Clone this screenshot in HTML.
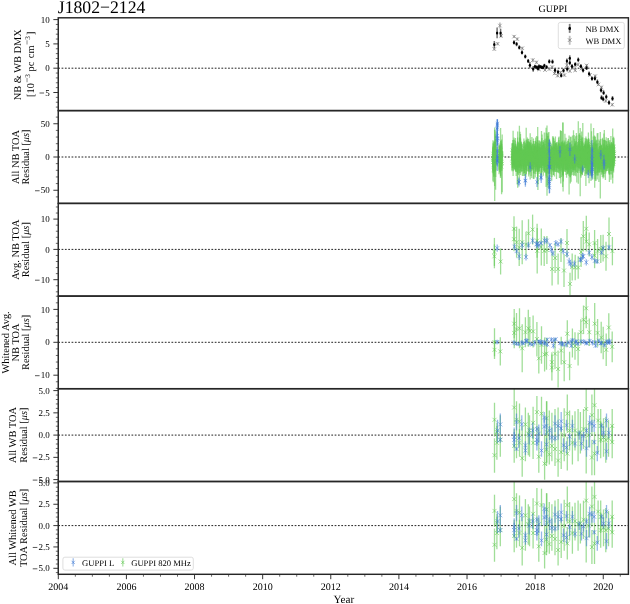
<!DOCTYPE html><html><head><meta charset="utf-8"><style>html,body{margin:0;padding:0;background:#fff;width:630px;height:604px;overflow:hidden}svg{display:block;position:absolute;left:0;top:0;will-change:transform;text-rendering:geometricPrecision;-webkit-font-smoothing:antialiased}text{font-family:"Liberation Serif",serif;fill:#000}.ge{stroke:#61C853;stroke-opacity:.6;stroke-width:1.3px;fill:none}.be{stroke:#407BD5;stroke-opacity:.55;stroke-width:1.3px;fill:none}.gm{stroke:#61C853;stroke-opacity:.65;stroke-width:.9px;fill:none}.bm{stroke:#407BD5;stroke-opacity:.6;stroke-width:.9px;fill:none}</style></head><body>
<svg width="630" height="604" viewBox="0 0 630 604">
<line x1="58.25" x2="628.4" y1="68.2" y2="68.2" stroke="#222" stroke-width="1.0" stroke-dasharray="1.75 1.58"/>
<line x1="58.25" x2="628.4" y1="157.0" y2="157.0" stroke="#222" stroke-width="1.0" stroke-dasharray="1.75 1.58"/>
<line x1="58.25" x2="628.4" y1="249.4" y2="249.4" stroke="#222" stroke-width="1.0" stroke-dasharray="1.75 1.58"/>
<line x1="58.25" x2="628.4" y1="342.3" y2="342.3" stroke="#222" stroke-width="1.0" stroke-dasharray="1.75 1.58"/>
<line x1="58.25" x2="628.4" y1="435.1" y2="435.1" stroke="#222" stroke-width="1.0" stroke-dasharray="1.75 1.58"/>
<line x1="58.25" x2="628.4" y1="525.6" y2="525.6" stroke="#222" stroke-width="1.0" stroke-dasharray="1.75 1.58"/>
<path d="M494.3 47.6V50.6M497.6 42.3V45.3M499.9 22.6V28.6M501.2 34.4V37.4M514.1 35.1V38.1M517.3 37.6V40.6M522.3 46.7V49.7M532.8 58.2V62.2M536.5 60.8V63.8M539.0 67.8V70.8M549.4 67.5V70.5M552.3 65.6V68.6M554.5 72.0V75.0M557.7 74.2V77.2M564.4 73.6V76.6M566.9 63.7V66.7M569.8 69.5V72.5M575.2 68.8V71.8M578.0 63.1V66.1M586.6 63.9V66.9M595.3 74.6V77.6M601.5 85.8V88.8M605.7 99.5V102.5M612.3 103.2V106.2M545.0 68.8V71.2M560.5 71.0V74.0M572.5 66.5V69.5M581.5 67.0V70.0M590.0 73.5V76.5M598.5 83.0V86.0" stroke="#888" stroke-opacity="0.6" stroke-width="1.5" fill="none"/>
<path d="M492.5 47.3L496.1 50.9M492.5 50.9L496.1 47.3M495.8 42.0L499.4 45.6M495.8 45.6L499.4 42.0M498.1 23.8L501.7 27.4M498.1 27.4L501.7 23.8M499.4 34.1L503.0 37.7M499.4 37.7L503.0 34.1M512.3 34.8L515.9 38.4M512.3 38.4L515.9 34.8M515.5 37.3L519.1 40.9M515.5 40.9L519.1 37.3M520.5 46.4L524.1 50.0M520.5 50.0L524.1 46.4M531.0 58.4L534.6 62.0M531.0 62.0L534.6 58.4M534.7 60.5L538.3 64.1M534.7 64.1L538.3 60.5M537.2 67.5L540.8 71.1M537.2 71.1L540.8 67.5M547.6 67.2L551.2 70.8M547.6 70.8L551.2 67.2M550.5 65.3L554.1 68.9M550.5 68.9L554.1 65.3M552.7 71.7L556.3 75.3M552.7 75.3L556.3 71.7M555.9 73.9L559.5 77.5M555.9 77.5L559.5 73.9M562.6 73.3L566.2 76.9M562.6 76.9L566.2 73.3M565.1 63.4L568.7 67.0M565.1 67.0L568.7 63.4M568.0 69.2L571.6 72.8M568.0 72.8L571.6 69.2M573.4 68.5L577.0 72.1M573.4 72.1L577.0 68.5M576.2 62.8L579.8 66.4M576.2 66.4L579.8 62.8M584.8 63.6L588.4 67.2M584.8 67.2L588.4 63.6M593.5 74.3L597.1 77.9M593.5 77.9L597.1 74.3M599.7 85.5L603.3 89.1M599.7 89.1L603.3 85.5M603.9 99.2L607.5 102.8M603.9 102.8L607.5 99.2M610.5 102.9L614.1 106.5M610.5 106.5L614.1 102.9M543.2 68.2L546.8 71.8M543.2 71.8L546.8 68.2M558.7 70.7L562.3 74.3M558.7 74.3L562.3 70.7M570.7 66.2L574.3 69.8M570.7 69.8L574.3 66.2M579.7 66.7L583.3 70.3M579.7 70.3L583.3 66.7M588.2 73.2L591.8 76.8M588.2 76.8L591.8 73.2M596.7 82.7L600.3 86.3M596.7 86.3L600.3 82.7" stroke="#777" stroke-opacity="0.8" stroke-width="0.8" fill="none"/>
<path d="M494.3 41.1V47.9M497.1 27.5V38.3M500.6 28.8V37.0M514.0 40.3V44.5M516.6 42.0V46.2M519.3 45.3V49.5M522.0 50.3V54.5M525.3 54.4V58.6M528.2 58.9V63.1M529.9 62.1V68.3M533.2 66.1V71.7M536.9 65.2V69.4M539.0 64.3V68.5M541.9 65.5V69.1M544.4 63.8V67.4M546.6 65.3V68.9M549.3 59.3V63.5M552.5 59.6V63.8M555.0 68.2V72.4M558.0 69.8V74.0M561.2 73.3V77.5M563.5 68.5V72.7M566.9 58.5V63.7M567.2 66.4V71.6M569.8 55.2V61.4M569.8 60.1V65.3M572.0 64.1V68.3M575.2 62.2V66.4M578.3 57.4V62.2M580.9 64.1V68.3M583.1 68.2V72.4M586.6 65.8V70.0M589.1 71.6V75.8M592.0 76.5V80.7M594.9 76.3V80.5M597.4 79.5V84.3M601.1 87.8V92.6M603.6 90.3V95.1M601.5 95.3V100.1M603.2 96.5V101.3M606.3 94.4V99.2M609.0 100.2V105.0M612.5 96.1V100.9M535.0 64.7V68.3M538.0 66.7V70.3M540.5 65.0V68.6M543.0 65.7V69.3" stroke="#000" stroke-opacity="0.55" stroke-width="1.5" fill="none"/>
<ellipse cx="494.3" cy="44.5" rx="1.15" ry="1.5" fill="#000"/>
<ellipse cx="497.1" cy="32.9" rx="1.15" ry="1.5" fill="#000"/>
<ellipse cx="500.6" cy="32.9" rx="1.15" ry="1.5" fill="#000"/>
<ellipse cx="514.0" cy="42.4" rx="1.15" ry="1.5" fill="#000"/>
<ellipse cx="516.6" cy="44.1" rx="1.15" ry="1.5" fill="#000"/>
<ellipse cx="519.3" cy="47.4" rx="1.15" ry="1.5" fill="#000"/>
<ellipse cx="522.0" cy="52.4" rx="1.15" ry="1.5" fill="#000"/>
<ellipse cx="525.3" cy="56.5" rx="1.15" ry="1.5" fill="#000"/>
<ellipse cx="528.2" cy="61.0" rx="1.15" ry="1.5" fill="#000"/>
<ellipse cx="529.9" cy="65.2" rx="1.15" ry="1.5" fill="#000"/>
<ellipse cx="533.2" cy="68.9" rx="1.15" ry="1.5" fill="#000"/>
<ellipse cx="536.9" cy="67.3" rx="1.15" ry="1.5" fill="#000"/>
<ellipse cx="539.0" cy="66.4" rx="1.15" ry="1.5" fill="#000"/>
<ellipse cx="541.9" cy="67.3" rx="1.15" ry="1.5" fill="#000"/>
<ellipse cx="544.4" cy="65.6" rx="1.15" ry="1.5" fill="#000"/>
<ellipse cx="546.6" cy="67.1" rx="1.15" ry="1.5" fill="#000"/>
<ellipse cx="549.3" cy="61.4" rx="1.15" ry="1.5" fill="#000"/>
<ellipse cx="552.5" cy="61.7" rx="1.15" ry="1.5" fill="#000"/>
<ellipse cx="555.0" cy="70.3" rx="1.15" ry="1.5" fill="#000"/>
<ellipse cx="558.0" cy="71.9" rx="1.15" ry="1.5" fill="#000"/>
<ellipse cx="561.2" cy="75.4" rx="1.15" ry="1.5" fill="#000"/>
<ellipse cx="563.5" cy="70.6" rx="1.15" ry="1.5" fill="#000"/>
<ellipse cx="566.9" cy="61.1" rx="1.15" ry="1.5" fill="#000"/>
<ellipse cx="567.2" cy="69.0" rx="1.15" ry="1.5" fill="#000"/>
<ellipse cx="569.8" cy="58.3" rx="1.15" ry="1.5" fill="#000"/>
<ellipse cx="569.8" cy="62.7" rx="1.15" ry="1.5" fill="#000"/>
<ellipse cx="572.0" cy="66.2" rx="1.15" ry="1.5" fill="#000"/>
<ellipse cx="575.2" cy="64.3" rx="1.15" ry="1.5" fill="#000"/>
<ellipse cx="578.3" cy="59.8" rx="1.15" ry="1.5" fill="#000"/>
<ellipse cx="580.9" cy="66.2" rx="1.15" ry="1.5" fill="#000"/>
<ellipse cx="583.1" cy="70.3" rx="1.15" ry="1.5" fill="#000"/>
<ellipse cx="586.6" cy="67.9" rx="1.15" ry="1.5" fill="#000"/>
<ellipse cx="589.1" cy="73.7" rx="1.15" ry="1.5" fill="#000"/>
<ellipse cx="592.0" cy="78.6" rx="1.15" ry="1.5" fill="#000"/>
<ellipse cx="594.9" cy="78.4" rx="1.15" ry="1.5" fill="#000"/>
<ellipse cx="597.4" cy="81.9" rx="1.15" ry="1.5" fill="#000"/>
<ellipse cx="601.1" cy="90.2" rx="1.15" ry="1.5" fill="#000"/>
<ellipse cx="603.6" cy="92.7" rx="1.15" ry="1.5" fill="#000"/>
<ellipse cx="601.5" cy="97.7" rx="1.15" ry="1.5" fill="#000"/>
<ellipse cx="603.2" cy="98.9" rx="1.15" ry="1.5" fill="#000"/>
<ellipse cx="606.3" cy="96.8" rx="1.15" ry="1.5" fill="#000"/>
<ellipse cx="609.0" cy="102.6" rx="1.15" ry="1.5" fill="#000"/>
<ellipse cx="612.5" cy="98.5" rx="1.15" ry="1.5" fill="#000"/>
<ellipse cx="535.0" cy="66.5" rx="1.15" ry="1.5" fill="#000"/>
<ellipse cx="538.0" cy="68.5" rx="1.15" ry="1.5" fill="#000"/>
<ellipse cx="540.5" cy="66.8" rx="1.15" ry="1.5" fill="#000"/>
<ellipse cx="543.0" cy="67.5" rx="1.15" ry="1.5" fill="#000"/>
<defs><clipPath id="c0"><rect x="0" y="0" width="630" height="110.6"/></clipPath><clipPath id="c1"><rect x="0" y="0" width="630" height="203.4"/></clipPath><clipPath id="c2"><rect x="0" y="0" width="630" height="296.1"/></clipPath><clipPath id="c3"><rect x="0" y="0" width="630" height="388.7"/></clipPath><clipPath id="c4"><rect x="0" y="0" width="630" height="481.5"/></clipPath><clipPath id="c5"><rect x="0" y="0" width="630" height="574.3"/></clipPath></defs>
<g clip-path="url(#c1)"><path class="ge" d="M493.3 147.4V167.3"/><path class="ge" d="M493.0 143.2V180.8"/><path class="ge" d="M493.2 147.5V169.1"/><path class="ge" d="M493.3 158.0V182.2"/><path class="ge" d="M492.8 147.4V173.2"/><path class="ge" d="M493.0 140.3V166.5"/><path class="ge" d="M493.6 154.1V175.6"/><path class="ge" d="M493.1 145.8V171.3"/><path class="ge" d="M493.6 143.9V172.8"/><path class="ge" d="M494.5 144.8V161.0"/><path class="ge" d="M493.9 142.4V161.2"/><path class="ge" d="M494.1 149.4V169.0"/><path class="ge" d="M494.5 147.6V176.4"/><path class="ge" d="M494.4 141.2V165.9"/><path class="ge" d="M493.7 153.9V177.0"/><path class="ge" d="M493.8 141.4V168.7"/><path class="ge" d="M494.7 127.5V200.9"/><path class="ge" d="M495.1 151.8V168.3"/><path class="ge" d="M494.6 129.7V186.0"/><path class="ge" d="M494.8 142.1V170.2"/><path class="ge" d="M494.3 152.8V168.1"/><path class="ge" d="M494.9 148.4V165.5"/><path class="ge" d="M495.3 143.7V171.6"/><path class="ge" d="M494.8 143.8V172.2"/><path class="ge" d="M495.7 139.5V163.1"/><path class="ge" d="M495.5 141.8V170.8"/><path class="ge" d="M495.6 147.0V165.9"/><path class="ge" d="M495.7 131.3V176.9"/><path class="ge" d="M495.6 135.3V189.7"/><path class="ge" d="M495.8 145.3V170.1"/><path class="ge" d="M496.1 149.5V164.4"/><path class="ge" d="M495.7 147.1V165.2"/><path class="ge" d="M499.5 146.2V164.6"/><path class="ge" d="M499.7 151.3V169.5"/><path class="ge" d="M499.1 150.0V174.3"/><path class="ge" d="M499.1 145.2V170.5"/><path class="ge" d="M499.2 143.6V159.0"/><path class="ge" d="M499.8 146.6V172.3"/><path class="ge" d="M499.4 147.2V170.3"/><path class="ge" d="M499.4 151.6V168.7"/><path class="ge" d="M500.0 146.8V172.5"/><path class="ge" d="M500.5 151.1V176.4"/><path class="ge" d="M500.0 146.8V164.9"/><path class="ge" d="M500.1 149.3V168.2"/><path class="ge" d="M500.6 128.1V170.7"/><path class="ge" d="M500.7 147.9V175.8"/><path class="ge" d="M500.4 147.3V171.8"/><path class="ge" d="M500.0 145.1V166.4"/><path class="ge" d="M501.3 146.1V168.3"/><path class="ge" d="M501.2 151.2V165.8"/><path class="ge" d="M500.5 151.3V177.9"/><path class="ge" d="M500.8 140.9V165.3"/><path class="ge" d="M501.1 144.6V164.4"/><path class="ge" d="M501.4 143.4V162.2"/><path class="ge" d="M501.0 140.6V159.5"/><path class="ge" d="M501.3 145.3V170.7"/><path class="ge" d="M502.2 134.6V192.2"/><path class="ge" d="M501.6 146.2V160.9"/><path class="ge" d="M501.3 142.6V163.2"/><path class="ge" d="M501.4 148.9V163.7"/><path class="ge" d="M501.6 139.6V194.2"/><path class="ge" d="M501.9 152.3V170.7"/><path class="ge" d="M501.4 145.4V162.1"/><path class="ge" d="M501.7 144.2V165.9"/><path class="ge" d="M512.7 150.7V168.3"/><path class="ge" d="M512.5 149.5V167.2"/><path class="ge" d="M512.3 143.3V162.8"/><path class="ge" d="M512.1 147.6V170.0"/><path class="ge" d="M512.3 143.7V156.8"/><path class="ge" d="M512.3 142.9V168.0"/><path class="ge" d="M512.0 155.4V171.3"/><path class="ge" d="M512.8 140.1V164.3"/><path class="ge" d="M513.1 130.8V175.9"/><path class="ge" d="M513.1 143.6V157.7"/><path class="ge" d="M513.1 146.1V171.3"/><path class="ge" d="M513.9 145.8V170.4"/><path class="ge" d="M513.9 139.9V166.2"/><path class="ge" d="M513.6 143.1V155.7"/><path class="ge" d="M513.1 144.9V168.2"/><path class="ge" d="M513.9 146.5V163.3"/><path class="ge" d="M514.3 147.8V169.1"/><path class="ge" d="M514.3 151.3V168.8"/><path class="ge" d="M514.3 145.6V165.1"/><path class="ge" d="M514.6 146.3V169.5"/><path class="ge" d="M514.6 147.4V167.1"/><path class="ge" d="M514.0 137.5V163.0"/><path class="ge" d="M514.6 147.0V166.8"/><path class="ge" d="M514.1 139.6V154.4"/><path class="ge" d="M515.3 144.5V166.9"/><path class="ge" d="M515.8 148.7V171.3"/><path class="ge" d="M515.4 138.1V169.8"/><path class="ge" d="M515.3 147.9V162.5"/><path class="ge" d="M515.6 143.9V170.8"/><path class="ge" d="M515.8 145.0V164.0"/><path class="ge" d="M515.4 140.8V163.6"/><path class="ge" d="M515.4 143.7V166.7"/><path class="ge" d="M516.7 146.6V168.7"/><path class="ge" d="M516.1 156.3V171.9"/><path class="ge" d="M516.1 147.3V172.1"/><path class="ge" d="M516.2 151.0V176.0"/><path class="ge" d="M516.1 150.1V163.4"/><path class="ge" d="M516.5 146.4V163.8"/><path class="ge" d="M516.0 151.8V170.3"/><path class="ge" d="M516.2 146.8V167.6"/><path class="ge" d="M517.7 131.5V187.8"/><path class="ge" d="M517.2 152.7V166.2"/><path class="ge" d="M517.5 149.8V166.3"/><path class="ge" d="M517.6 137.5V161.5"/><path class="ge" d="M517.2 142.6V184.5"/><path class="ge" d="M517.4 144.0V166.8"/><path class="ge" d="M517.7 149.0V170.4"/><path class="ge" d="M517.8 152.0V173.8"/><path class="ge" d="M518.3 143.0V164.0"/><path class="ge" d="M517.8 153.8V172.7"/><path class="ge" d="M518.4 151.8V175.1"/><path class="ge" d="M518.0 151.3V168.7"/><path class="ge" d="M518.4 148.1V167.7"/><path class="ge" d="M518.0 147.4V164.7"/><path class="ge" d="M517.7 140.9V158.2"/><path class="ge" d="M518.4 141.9V168.1"/><path class="ge" d="M519.6 149.0V167.3"/><path class="ge" d="M518.9 148.1V171.3"/><path class="ge" d="M519.0 144.7V164.6"/><path class="ge" d="M518.8 150.9V166.6"/><path class="ge" d="M519.3 147.0V173.2"/><path class="ge" d="M519.7 137.7V158.4"/><path class="ge" d="M519.4 143.1V168.0"/><path class="ge" d="M519.4 125.7V181.3"/><path class="ge" d="M519.8 144.6V159.5"/><path class="ge" d="M520.2 146.5V166.0"/><path class="ge" d="M520.5 133.9V159.3"/><path class="ge" d="M520.0 131.8V173.0"/><path class="ge" d="M520.6 149.0V174.9"/><path class="ge" d="M520.6 148.4V170.8"/><path class="ge" d="M520.1 137.3V160.1"/><path class="ge" d="M520.6 138.8V162.9"/><path class="ge" d="M520.9 146.4V168.1"/><path class="ge" d="M521.4 144.6V159.0"/><path class="ge" d="M521.2 141.5V163.3"/><path class="ge" d="M520.9 144.2V167.6"/><path class="ge" d="M521.2 154.0V171.5"/><path class="ge" d="M520.7 142.3V163.2"/><path class="ge" d="M520.9 151.9V166.1"/><path class="ge" d="M521.1 157.0V172.2"/><path class="ge" d="M521.6 151.9V166.4"/><path class="ge" d="M521.9 151.2V163.5"/><path class="ge" d="M521.5 147.6V165.6"/><path class="ge" d="M521.6 142.4V168.8"/><path class="ge" d="M521.6 143.7V165.0"/><path class="ge" d="M521.8 151.0V163.8"/><path class="ge" d="M521.8 145.2V171.2"/><path class="ge" d="M522.1 144.1V160.1"/><path class="ge" d="M522.4 149.4V175.9"/><path class="ge" d="M522.5 150.2V171.4"/><path class="ge" d="M523.4 150.4V175.9"/><path class="ge" d="M523.3 149.6V168.8"/><path class="ge" d="M523.4 149.8V166.4"/><path class="ge" d="M523.3 149.9V163.2"/><path class="ge" d="M523.4 151.9V168.9"/><path class="ge" d="M523.2 152.6V167.3"/><path class="ge" d="M523.9 138.6V156.1"/><path class="ge" d="M523.9 141.8V165.5"/><path class="ge" d="M524.0 149.9V171.0"/><path class="ge" d="M524.3 153.6V172.9"/><path class="ge" d="M523.7 150.3V173.7"/><path class="ge" d="M524.3 149.9V165.5"/><path class="ge" d="M524.4 154.2V173.0"/><path class="ge" d="M523.7 142.2V159.2"/><path class="ge" d="M525.2 142.6V175.4"/><path class="ge" d="M525.2 143.3V169.6"/><path class="ge" d="M524.8 148.7V164.1"/><path class="ge" d="M525.3 146.4V166.9"/><path class="ge" d="M524.7 140.7V160.7"/><path class="ge" d="M524.7 145.6V158.8"/><path class="ge" d="M524.6 161.1V176.1"/><path class="ge" d="M525.4 149.3V168.3"/><path class="ge" d="M526.2 139.7V164.7"/><path class="ge" d="M526.2 127.7V174.5"/><path class="ge" d="M526.4 148.2V168.3"/><path class="ge" d="M526.1 147.6V160.8"/><path class="ge" d="M526.3 150.6V173.7"/><path class="ge" d="M526.0 148.9V170.0"/><path class="ge" d="M525.8 144.8V177.3"/><path class="ge" d="M526.5 143.9V169.9"/><path class="ge" d="M527.9 139.0V159.1"/><path class="ge" d="M527.4 137.5V163.0"/><path class="ge" d="M527.2 144.2V171.2"/><path class="ge" d="M527.0 139.4V165.5"/><path class="ge" d="M527.0 146.5V166.2"/><path class="ge" d="M527.4 141.7V164.9"/><path class="ge" d="M527.0 141.2V164.4"/><path class="ge" d="M527.0 154.9V171.4"/><path class="ge" d="M528.6 144.2V170.9"/><path class="ge" d="M528.0 141.2V158.8"/><path class="ge" d="M528.6 141.6V161.7"/><path class="ge" d="M528.6 150.1V166.4"/><path class="ge" d="M527.7 150.5V166.1"/><path class="ge" d="M528.3 146.5V160.4"/><path class="ge" d="M528.2 150.2V165.3"/><path class="ge" d="M528.7 144.9V171.6"/><path class="ge" d="M528.5 148.0V166.5"/><path class="ge" d="M528.7 138.8V176.6"/><path class="ge" d="M529.1 142.5V174.5"/><path class="ge" d="M529.2 141.5V163.6"/><path class="ge" d="M528.9 145.4V168.7"/><path class="ge" d="M528.7 147.2V171.7"/><path class="ge" d="M529.3 146.6V168.2"/><path class="ge" d="M529.4 148.2V167.2"/><path class="ge" d="M529.8 143.4V163.2"/><path class="ge" d="M530.2 143.1V165.3"/><path class="ge" d="M530.1 144.1V162.9"/><path class="ge" d="M529.9 146.1V172.5"/><path class="ge" d="M530.6 140.0V164.8"/><path class="ge" d="M530.2 133.2V179.6"/><path class="ge" d="M529.7 142.0V164.7"/><path class="ge" d="M530.1 146.3V168.3"/><path class="ge" d="M531.0 155.8V170.7"/><path class="ge" d="M531.2 146.5V164.3"/><path class="ge" d="M531.3 142.5V168.6"/><path class="ge" d="M531.1 159.8V176.0"/><path class="ge" d="M530.9 151.1V166.5"/><path class="ge" d="M531.7 146.8V166.7"/><path class="ge" d="M531.8 145.3V157.4"/><path class="ge" d="M531.3 144.4V157.4"/><path class="ge" d="M531.9 147.9V163.4"/><path class="ge" d="M532.7 143.8V169.4"/><path class="ge" d="M531.9 137.0V171.1"/><path class="ge" d="M532.6 143.8V158.6"/><path class="ge" d="M531.8 157.9V177.9"/><path class="ge" d="M532.0 151.5V169.4"/><path class="ge" d="M532.6 151.8V165.7"/><path class="ge" d="M532.7 152.3V165.4"/><path class="ge" d="M533.5 151.7V169.0"/><path class="ge" d="M533.0 145.3V167.9"/><path class="ge" d="M533.5 140.9V164.6"/><path class="ge" d="M533.6 153.1V173.2"/><path class="ge" d="M533.9 148.0V169.0"/><path class="ge" d="M533.9 147.0V161.7"/><path class="ge" d="M533.4 138.6V178.8"/><path class="ge" d="M533.9 141.1V179.1"/><path class="ge" d="M534.3 153.9V173.8"/><path class="ge" d="M534.3 146.6V166.7"/><path class="ge" d="M534.5 144.0V163.6"/><path class="ge" d="M535.2 146.0V163.3"/><path class="ge" d="M535.2 153.0V177.5"/><path class="ge" d="M534.7 145.5V161.5"/><path class="ge" d="M535.2 145.7V167.4"/><path class="ge" d="M534.7 143.5V162.3"/><path class="ge" d="M535.5 153.2V171.8"/><path class="ge" d="M536.2 147.3V165.7"/><path class="ge" d="M535.8 156.3V174.1"/><path class="ge" d="M536.3 152.6V167.8"/><path class="ge" d="M535.7 137.5V160.1"/><path class="ge" d="M535.8 151.0V170.6"/><path class="ge" d="M535.6 141.3V162.1"/><path class="ge" d="M535.6 140.7V158.3"/><path class="ge" d="M537.1 149.2V161.6"/><path class="ge" d="M537.0 150.3V170.3"/><path class="ge" d="M536.3 152.9V171.5"/><path class="ge" d="M536.6 135.9V161.1"/><path class="ge" d="M536.8 152.4V167.3"/><path class="ge" d="M536.2 141.9V167.4"/><path class="ge" d="M536.7 150.4V166.5"/><path class="ge" d="M536.8 145.3V163.8"/><path class="ge" d="M537.9 144.6V190.0"/><path class="ge" d="M537.6 143.9V184.5"/><path class="ge" d="M537.6 136.4V160.8"/><path class="ge" d="M537.3 151.1V171.9"/><path class="ge" d="M537.7 127.1V183.8"/><path class="ge" d="M537.6 139.9V176.5"/><path class="ge" d="M537.8 152.4V168.6"/><path class="ge" d="M537.4 142.7V162.6"/><path class="ge" d="M539.1 150.1V171.4"/><path class="ge" d="M539.1 148.3V173.9"/><path class="ge" d="M538.6 148.2V166.7"/><path class="ge" d="M539.2 146.0V171.0"/><path class="ge" d="M538.6 146.2V172.0"/><path class="ge" d="M538.8 140.6V171.7"/><path class="ge" d="M538.8 155.6V168.5"/><path class="ge" d="M538.6 142.8V157.5"/><path class="ge" d="M540.1 148.2V163.5"/><path class="ge" d="M539.7 151.0V166.7"/><path class="ge" d="M539.9 146.7V161.4"/><path class="ge" d="M540.1 141.5V161.6"/><path class="ge" d="M540.0 143.7V167.5"/><path class="ge" d="M540.4 147.2V167.9"/><path class="ge" d="M539.8 143.6V167.9"/><path class="ge" d="M539.7 140.6V167.5"/><path class="ge" d="M541.5 131.0V175.3"/><path class="ge" d="M541.5 153.6V172.8"/><path class="ge" d="M540.8 141.7V162.4"/><path class="ge" d="M541.2 152.0V165.4"/><path class="ge" d="M541.6 141.3V166.5"/><path class="ge" d="M540.9 153.7V178.3"/><path class="ge" d="M541.1 152.3V175.3"/><path class="ge" d="M541.3 147.2V167.7"/><path class="ge" d="M542.4 145.2V165.5"/><path class="ge" d="M541.9 151.1V165.7"/><path class="ge" d="M541.9 137.9V166.2"/><path class="ge" d="M541.8 150.4V170.0"/><path class="ge" d="M542.1 134.6V159.6"/><path class="ge" d="M542.0 148.1V161.1"/><path class="ge" d="M542.1 146.0V172.2"/><path class="ge" d="M541.8 148.2V164.2"/><path class="ge" d="M543.5 146.3V161.7"/><path class="ge" d="M542.8 145.3V168.3"/><path class="ge" d="M543.7 147.2V162.5"/><path class="ge" d="M542.9 141.4V158.3"/><path class="ge" d="M543.6 145.4V165.0"/><path class="ge" d="M543.4 142.3V165.5"/><path class="ge" d="M543.3 141.8V157.6"/><path class="ge" d="M543.3 145.4V175.8"/><path class="ge" d="M544.3 144.1V170.4"/><path class="ge" d="M544.3 132.6V170.7"/><path class="ge" d="M544.3 152.5V166.9"/><path class="ge" d="M543.7 145.9V165.2"/><path class="ge" d="M543.7 140.0V161.1"/><path class="ge" d="M543.7 144.5V165.9"/><path class="ge" d="M544.0 147.0V170.8"/><path class="ge" d="M543.8 143.6V170.5"/><path class="ge" d="M544.7 149.4V171.9"/><path class="ge" d="M545.6 147.2V166.9"/><path class="ge" d="M545.1 154.6V172.4"/><path class="ge" d="M544.9 150.8V172.8"/><path class="ge" d="M545.1 140.7V157.9"/><path class="ge" d="M545.2 152.7V166.1"/><path class="ge" d="M545.0 138.7V163.7"/><path class="ge" d="M544.9 147.8V162.8"/><path class="ge" d="M546.2 140.2V163.2"/><path class="ge" d="M546.3 132.7V173.5"/><path class="ge" d="M546.2 155.0V175.7"/><path class="ge" d="M546.0 156.1V170.0"/><path class="ge" d="M546.3 138.6V152.4"/><path class="ge" d="M546.2 162.0V177.7"/><path class="ge" d="M546.7 156.0V168.1"/><path class="ge" d="M546.1 127.8V186.9"/><path class="ge" d="M546.9 148.8V162.8"/><path class="ge" d="M547.0 125.5V195.8"/><path class="ge" d="M547.3 153.5V173.4"/><path class="ge" d="M547.3 136.0V185.5"/><path class="ge" d="M547.7 151.0V164.0"/><path class="ge" d="M547.4 147.7V166.0"/><path class="ge" d="M547.5 133.5V172.7"/><path class="ge" d="M547.0 152.3V168.1"/><path class="ge" d="M547.9 139.5V165.8"/><path class="ge" d="M548.3 135.7V166.2"/><path class="ge" d="M548.2 141.8V167.1"/><path class="ge" d="M548.3 146.9V162.8"/><path class="ge" d="M548.5 148.1V160.7"/><path class="ge" d="M548.0 152.3V169.8"/><path class="ge" d="M548.3 150.1V165.1"/><path class="ge" d="M548.2 132.5V187.9"/><path class="ge" d="M549.3 144.7V159.7"/><path class="ge" d="M548.8 145.5V168.3"/><path class="ge" d="M548.8 151.9V174.6"/><path class="ge" d="M548.8 140.1V163.7"/><path class="ge" d="M549.5 139.8V156.2"/><path class="ge" d="M548.8 141.6V160.2"/><path class="ge" d="M549.6 150.9V167.6"/><path class="ge" d="M548.9 132.0V173.7"/><path class="ge" d="M549.8 154.0V167.3"/><path class="ge" d="M549.8 148.8V164.1"/><path class="ge" d="M550.1 152.0V168.6"/><path class="ge" d="M550.1 144.4V164.8"/><path class="ge" d="M550.4 141.4V167.5"/><path class="ge" d="M549.8 158.7V171.7"/><path class="ge" d="M550.1 150.9V176.4"/><path class="ge" d="M549.6 159.9V173.7"/><path class="ge" d="M551.7 143.5V169.7"/><path class="ge" d="M550.9 152.4V169.0"/><path class="ge" d="M551.4 152.1V169.2"/><path class="ge" d="M551.4 146.4V162.2"/><path class="ge" d="M551.1 157.4V174.6"/><path class="ge" d="M551.3 151.6V165.3"/><path class="ge" d="M551.6 145.4V161.8"/><path class="ge" d="M551.3 150.0V168.5"/><path class="ge" d="M552.1 151.6V170.8"/><path class="ge" d="M551.9 152.3V177.0"/><path class="ge" d="M552.1 146.5V166.6"/><path class="ge" d="M552.3 148.1V166.9"/><path class="ge" d="M551.8 155.1V168.8"/><path class="ge" d="M551.7 156.7V180.7"/><path class="ge" d="M552.6 136.3V161.0"/><path class="ge" d="M551.7 148.4V161.2"/><path class="ge" d="M553.4 137.9V161.9"/><path class="ge" d="M552.8 146.7V171.8"/><path class="ge" d="M553.0 151.9V165.2"/><path class="ge" d="M553.4 136.5V175.0"/><path class="ge" d="M553.4 149.2V175.3"/><path class="ge" d="M553.5 146.7V169.8"/><path class="ge" d="M553.7 149.3V164.2"/><path class="ge" d="M552.9 148.6V163.9"/><path class="ge" d="M554.7 140.8V162.9"/><path class="ge" d="M554.2 146.8V170.8"/><path class="ge" d="M554.3 144.5V170.0"/><path class="ge" d="M554.3 149.8V169.6"/><path class="ge" d="M554.0 141.2V164.9"/><path class="ge" d="M554.5 150.6V176.5"/><path class="ge" d="M554.0 138.4V156.8"/><path class="ge" d="M554.3 154.8V172.0"/><path class="ge" d="M555.8 143.1V165.0"/><path class="ge" d="M555.7 143.3V162.7"/><path class="ge" d="M556.1 146.5V170.3"/><path class="ge" d="M555.7 147.9V161.0"/><path class="ge" d="M555.8 148.3V164.2"/><path class="ge" d="M555.4 136.4V171.8"/><path class="ge" d="M555.9 151.5V172.0"/><path class="ge" d="M555.2 143.6V167.8"/><path class="ge" d="M556.5 143.7V167.6"/><path class="ge" d="M556.7 146.4V167.8"/><path class="ge" d="M556.5 141.9V179.0"/><path class="ge" d="M556.2 142.8V162.8"/><path class="ge" d="M556.8 152.9V166.3"/><path class="ge" d="M556.8 149.8V165.4"/><path class="ge" d="M556.3 156.2V171.7"/><path class="ge" d="M557.0 151.7V168.0"/><path class="ge" d="M557.4 145.5V164.0"/><path class="ge" d="M558.3 142.9V168.7"/><path class="ge" d="M557.7 141.7V168.3"/><path class="ge" d="M558.2 144.2V158.0"/><path class="ge" d="M558.1 154.2V172.1"/><path class="ge" d="M557.4 150.0V172.3"/><path class="ge" d="M558.2 147.4V165.8"/><path class="ge" d="M558.1 149.7V172.8"/><path class="ge" d="M558.6 137.4V161.6"/><path class="ge" d="M559.2 146.0V167.2"/><path class="ge" d="M558.8 153.9V173.2"/><path class="ge" d="M559.2 147.4V166.6"/><path class="ge" d="M559.1 136.6V161.8"/><path class="ge" d="M559.0 140.0V164.5"/><path class="ge" d="M559.0 143.7V165.5"/><path class="ge" d="M558.6 148.6V169.2"/><path class="ge" d="M559.6 153.6V171.3"/><path class="ge" d="M559.4 142.4V164.1"/><path class="ge" d="M559.4 154.6V178.0"/><path class="ge" d="M559.8 144.3V167.3"/><path class="ge" d="M559.7 148.7V168.6"/><path class="ge" d="M559.9 154.6V173.4"/><path class="ge" d="M559.8 148.9V169.5"/><path class="ge" d="M559.2 146.4V167.1"/><path class="ge" d="M560.5 144.4V161.1"/><path class="ge" d="M561.3 142.9V162.8"/><path class="ge" d="M560.9 147.1V170.4"/><path class="ge" d="M561.1 145.0V159.4"/><path class="ge" d="M560.8 130.7V183.6"/><path class="ge" d="M561.2 148.7V161.6"/><path class="ge" d="M561.2 142.1V166.3"/><path class="ge" d="M560.4 130.2V178.3"/><path class="ge" d="M561.8 147.2V167.4"/><path class="ge" d="M562.0 146.2V163.4"/><path class="ge" d="M562.2 143.0V159.9"/><path class="ge" d="M561.4 130.9V177.0"/><path class="ge" d="M561.4 150.5V165.1"/><path class="ge" d="M562.1 140.8V167.4"/><path class="ge" d="M561.4 146.4V170.2"/><path class="ge" d="M561.7 147.9V160.6"/><path class="ge" d="M563.0 140.6V176.4"/><path class="ge" d="M562.3 144.7V164.2"/><path class="ge" d="M562.7 122.6V186.9"/><path class="ge" d="M562.1 142.0V166.3"/><path class="ge" d="M562.9 144.9V175.1"/><path class="ge" d="M562.6 150.2V175.0"/><path class="ge" d="M562.1 151.7V172.1"/><path class="ge" d="M562.5 145.4V158.8"/><path class="ge" d="M563.1 151.2V174.4"/><path class="ge" d="M563.1 143.3V168.6"/><path class="ge" d="M563.2 150.0V175.4"/><path class="ge" d="M563.3 144.0V181.5"/><path class="ge" d="M563.1 122.4V191.5"/><path class="ge" d="M563.8 142.9V167.2"/><path class="ge" d="M562.9 142.0V158.3"/><path class="ge" d="M562.9 145.7V170.9"/><path class="ge" d="M564.8 141.7V170.9"/><path class="ge" d="M565.0 145.1V172.0"/><path class="ge" d="M564.3 151.2V169.0"/><path class="ge" d="M564.8 140.5V160.7"/><path class="ge" d="M564.3 144.4V164.6"/><path class="ge" d="M564.3 154.4V170.3"/><path class="ge" d="M564.7 142.6V160.4"/><path class="ge" d="M564.9 133.7V159.8"/><path class="ge" d="M565.9 148.5V169.2"/><path class="ge" d="M566.0 149.3V174.9"/><path class="ge" d="M565.2 150.6V172.1"/><path class="ge" d="M565.6 155.2V169.8"/><path class="ge" d="M565.8 146.4V164.3"/><path class="ge" d="M566.0 137.8V164.6"/><path class="ge" d="M566.1 144.1V165.2"/><path class="ge" d="M565.8 157.1V170.3"/><path class="ge" d="M566.8 147.3V162.8"/><path class="ge" d="M566.2 145.0V169.9"/><path class="ge" d="M566.8 141.8V164.5"/><path class="ge" d="M566.9 150.2V171.0"/><path class="ge" d="M566.6 147.0V177.8"/><path class="ge" d="M567.0 149.1V170.3"/><path class="ge" d="M566.5 151.5V163.6"/><path class="ge" d="M566.8 147.7V161.2"/><path class="ge" d="M567.8 143.6V160.9"/><path class="ge" d="M567.5 149.9V173.8"/><path class="ge" d="M567.4 143.8V165.5"/><path class="ge" d="M567.6 151.4V174.6"/><path class="ge" d="M567.0 150.3V166.1"/><path class="ge" d="M566.9 144.7V169.0"/><path class="ge" d="M567.8 144.2V169.0"/><path class="ge" d="M567.3 143.9V169.3"/><path class="ge" d="M567.9 140.5V173.7"/><path class="ge" d="M568.2 146.6V163.4"/><path class="ge" d="M568.5 139.1V156.2"/><path class="ge" d="M568.5 154.8V170.5"/><path class="ge" d="M568.0 141.0V165.3"/><path class="ge" d="M568.1 158.9V172.4"/><path class="ge" d="M567.8 147.8V163.2"/><path class="ge" d="M568.2 149.2V169.5"/><path class="ge" d="M569.2 142.5V166.8"/><path class="ge" d="M568.9 150.9V166.7"/><path class="ge" d="M568.8 147.8V172.2"/><path class="ge" d="M569.0 149.2V175.9"/><path class="ge" d="M569.1 135.5V194.4"/><path class="ge" d="M569.6 150.3V162.5"/><path class="ge" d="M569.0 149.0V174.5"/><path class="ge" d="M569.7 146.6V170.3"/><path class="ge" d="M570.5 154.0V168.9"/><path class="ge" d="M570.2 141.9V161.1"/><path class="ge" d="M570.4 136.8V183.6"/><path class="ge" d="M570.0 155.3V177.5"/><path class="ge" d="M570.2 144.7V160.8"/><path class="ge" d="M570.3 151.7V177.1"/><path class="ge" d="M570.4 148.8V168.7"/><path class="ge" d="M570.2 151.2V166.5"/><path class="ge" d="M571.4 148.7V173.5"/><path class="ge" d="M571.1 136.8V181.7"/><path class="ge" d="M571.9 140.6V156.9"/><path class="ge" d="M571.2 145.2V175.4"/><path class="ge" d="M571.6 144.0V165.0"/><path class="ge" d="M571.8 148.5V164.6"/><path class="ge" d="M571.4 151.3V168.9"/><path class="ge" d="M572.0 147.2V169.1"/><path class="ge" d="M572.9 150.4V164.3"/><path class="ge" d="M573.0 149.7V167.9"/><path class="ge" d="M572.5 156.7V172.3"/><path class="ge" d="M572.2 147.5V163.3"/><path class="ge" d="M572.5 146.9V167.9"/><path class="ge" d="M572.1 153.9V175.1"/><path class="ge" d="M572.8 151.2V168.3"/><path class="ge" d="M572.5 135.4V170.3"/><path class="ge" d="M573.5 153.9V169.7"/><path class="ge" d="M573.4 152.2V168.6"/><path class="ge" d="M573.9 153.8V166.5"/><path class="ge" d="M573.1 145.8V171.9"/><path class="ge" d="M573.0 148.4V166.0"/><path class="ge" d="M573.6 150.4V169.7"/><path class="ge" d="M573.4 148.6V169.6"/><path class="ge" d="M573.5 130.2V175.8"/><path class="ge" d="M574.1 148.4V165.7"/><path class="ge" d="M574.1 155.5V175.3"/><path class="ge" d="M573.9 145.8V165.4"/><path class="ge" d="M574.7 149.4V170.3"/><path class="ge" d="M573.9 148.0V170.4"/><path class="ge" d="M574.6 143.5V168.7"/><path class="ge" d="M574.4 138.7V159.0"/><path class="ge" d="M574.1 135.1V160.0"/><path class="ge" d="M575.4 142.6V159.9"/><path class="ge" d="M575.3 144.1V166.4"/><path class="ge" d="M575.2 152.8V166.7"/><path class="ge" d="M575.2 156.6V172.8"/><path class="ge" d="M575.0 143.5V157.0"/><path class="ge" d="M575.2 149.3V167.9"/><path class="ge" d="M575.4 136.3V170.6"/><path class="ge" d="M575.0 140.9V175.6"/><path class="ge" d="M575.6 142.5V159.3"/><path class="ge" d="M576.2 140.9V165.6"/><path class="ge" d="M575.9 145.7V163.3"/><path class="ge" d="M575.8 151.8V176.3"/><path class="ge" d="M576.5 149.7V165.2"/><path class="ge" d="M576.4 133.0V159.5"/><path class="ge" d="M576.4 148.3V172.0"/><path class="ge" d="M575.7 145.7V165.3"/><path class="ge" d="M577.7 144.4V167.3"/><path class="ge" d="M577.5 141.9V165.0"/><path class="ge" d="M577.7 146.8V173.1"/><path class="ge" d="M577.5 148.2V172.5"/><path class="ge" d="M576.7 154.9V167.4"/><path class="ge" d="M577.0 146.5V162.6"/><path class="ge" d="M577.3 148.3V165.7"/><path class="ge" d="M576.8 135.4V182.6"/><path class="ge" d="M578.3 121.3V183.8"/><path class="ge" d="M578.7 141.4V162.9"/><path class="ge" d="M578.4 148.0V163.7"/><path class="ge" d="M578.5 153.3V167.6"/><path class="ge" d="M578.8 140.5V165.1"/><path class="ge" d="M578.9 153.1V169.6"/><path class="ge" d="M578.8 149.4V162.7"/><path class="ge" d="M578.5 145.4V168.3"/><path class="ge" d="M579.6 132.9V148.0"/><path class="ge" d="M579.0 134.4V156.1"/><path class="ge" d="M579.5 143.3V168.5"/><path class="ge" d="M579.5 134.7V158.8"/><path class="ge" d="M579.5 148.7V160.7"/><path class="ge" d="M578.9 147.1V170.9"/><path class="ge" d="M579.1 146.3V167.1"/><path class="ge" d="M579.2 141.7V166.5"/><path class="ge" d="M580.4 141.5V167.8"/><path class="ge" d="M580.1 148.9V168.4"/><path class="ge" d="M580.2 127.9V196.2"/><path class="ge" d="M580.1 146.0V173.0"/><path class="ge" d="M580.4 145.8V172.5"/><path class="ge" d="M580.7 156.1V176.2"/><path class="ge" d="M580.4 146.7V171.1"/><path class="ge" d="M580.5 147.7V159.9"/><path class="ge" d="M581.3 151.4V173.9"/><path class="ge" d="M581.7 142.5V165.1"/><path class="ge" d="M581.0 135.4V177.7"/><path class="ge" d="M581.5 150.8V173.8"/><path class="ge" d="M581.6 154.5V167.1"/><path class="ge" d="M581.6 138.5V161.0"/><path class="ge" d="M581.7 131.6V168.8"/><path class="ge" d="M581.7 142.6V159.6"/><path class="ge" d="M582.1 141.2V175.3"/><path class="ge" d="M582.0 142.1V162.1"/><path class="ge" d="M582.0 137.2V174.0"/><path class="ge" d="M582.7 142.4V168.5"/><path class="ge" d="M582.4 141.0V165.6"/><path class="ge" d="M582.6 147.6V169.2"/><path class="ge" d="M582.3 148.6V174.9"/><path class="ge" d="M582.7 151.6V165.5"/><path class="ge" d="M582.9 148.6V170.9"/><path class="ge" d="M583.0 144.9V164.7"/><path class="ge" d="M582.9 137.6V164.0"/><path class="ge" d="M583.2 145.9V165.5"/><path class="ge" d="M582.9 149.8V169.4"/><path class="ge" d="M583.1 146.0V164.8"/><path class="ge" d="M583.1 145.7V172.2"/><path class="ge" d="M582.8 122.9V165.0"/><path class="ge" d="M585.0 145.5V158.9"/><path class="ge" d="M584.5 145.7V168.0"/><path class="ge" d="M584.3 147.7V164.2"/><path class="ge" d="M584.8 143.2V176.0"/><path class="ge" d="M584.8 149.3V168.0"/><path class="ge" d="M584.5 144.9V161.4"/><path class="ge" d="M584.9 153.2V165.3"/><path class="ge" d="M584.1 146.2V160.8"/><path class="ge" d="M585.2 146.1V164.9"/><path class="ge" d="M585.1 143.9V167.2"/><path class="ge" d="M585.4 147.0V168.0"/><path class="ge" d="M585.1 137.9V161.0"/><path class="ge" d="M585.2 143.4V162.3"/><path class="ge" d="M585.4 141.1V161.4"/><path class="ge" d="M585.3 152.8V166.6"/><path class="ge" d="M585.8 151.9V174.3"/><path class="ge" d="M585.9 136.5V186.1"/><path class="ge" d="M585.9 146.2V162.4"/><path class="ge" d="M586.4 146.1V166.1"/><path class="ge" d="M586.1 147.6V173.6"/><path class="ge" d="M585.9 142.6V165.4"/><path class="ge" d="M586.0 138.7V162.0"/><path class="ge" d="M586.6 144.3V168.0"/><path class="ge" d="M586.5 148.7V162.4"/><path class="ge" d="M587.3 140.7V168.8"/><path class="ge" d="M587.4 144.7V165.5"/><path class="ge" d="M586.8 149.3V174.8"/><path class="ge" d="M586.8 156.8V171.4"/><path class="ge" d="M586.6 145.8V167.3"/><path class="ge" d="M587.1 154.0V173.5"/><path class="ge" d="M587.2 139.2V162.6"/><path class="ge" d="M586.6 138.6V160.6"/><path class="ge" d="M587.5 147.2V163.8"/><path class="ge" d="M588.2 139.2V160.1"/><path class="ge" d="M588.4 144.7V171.2"/><path class="ge" d="M587.7 142.5V169.3"/><path class="ge" d="M588.2 151.4V174.7"/><path class="ge" d="M587.7 156.1V173.5"/><path class="ge" d="M588.0 143.5V166.0"/><path class="ge" d="M587.9 150.9V171.4"/><path class="ge" d="M588.4 132.6V172.0"/><path class="ge" d="M588.9 146.2V164.4"/><path class="ge" d="M588.6 137.9V162.3"/><path class="ge" d="M588.9 139.0V159.1"/><path class="ge" d="M588.5 149.5V172.4"/><path class="ge" d="M589.2 147.5V170.8"/><path class="ge" d="M588.6 139.9V159.8"/><path class="ge" d="M588.6 144.4V157.3"/><path class="ge" d="M589.8 151.7V172.4"/><path class="ge" d="M589.7 146.8V162.6"/><path class="ge" d="M589.2 147.8V163.5"/><path class="ge" d="M589.2 142.1V166.1"/><path class="ge" d="M589.9 145.0V158.4"/><path class="ge" d="M589.3 144.7V163.5"/><path class="ge" d="M589.1 144.1V183.3"/><path class="ge" d="M589.3 147.6V166.2"/><path class="ge" d="M590.5 149.5V169.0"/><path class="ge" d="M590.9 146.8V173.0"/><path class="ge" d="M590.5 154.3V169.9"/><path class="ge" d="M590.1 149.8V172.6"/><path class="ge" d="M590.0 151.5V175.8"/><path class="ge" d="M590.7 155.7V168.0"/><path class="ge" d="M591.0 123.4V181.1"/><path class="ge" d="M590.4 149.3V174.3"/><path class="ge" d="M591.1 152.1V174.0"/><path class="ge" d="M592.0 154.9V169.6"/><path class="ge" d="M591.3 140.7V155.5"/><path class="ge" d="M591.4 150.4V166.8"/><path class="ge" d="M591.7 144.8V163.5"/><path class="ge" d="M591.4 150.9V175.4"/><path class="ge" d="M591.5 131.2V157.3"/><path class="ge" d="M591.6 154.4V167.5"/><path class="ge" d="M592.3 148.2V170.8"/><path class="ge" d="M592.0 151.6V171.2"/><path class="ge" d="M592.0 149.7V172.3"/><path class="ge" d="M592.8 150.8V166.5"/><path class="ge" d="M592.0 150.6V166.9"/><path class="ge" d="M592.8 159.9V179.2"/><path class="ge" d="M592.2 147.8V160.6"/><path class="ge" d="M592.6 144.3V159.8"/><path class="ge" d="M593.8 149.5V161.7"/><path class="ge" d="M593.8 153.3V167.1"/><path class="ge" d="M593.8 143.0V169.8"/><path class="ge" d="M593.5 146.2V163.0"/><path class="ge" d="M593.2 136.4V160.9"/><path class="ge" d="M593.6 127.9V166.7"/><path class="ge" d="M593.8 143.0V162.5"/><path class="ge" d="M593.9 148.5V166.8"/><path class="ge" d="M594.7 147.8V166.2"/><path class="ge" d="M595.1 143.9V164.5"/><path class="ge" d="M594.7 136.6V173.2"/><path class="ge" d="M595.1 142.3V179.1"/><path class="ge" d="M594.7 141.4V187.7"/><path class="ge" d="M594.6 144.0V156.4"/><path class="ge" d="M594.8 150.3V166.3"/><path class="ge" d="M594.5 135.4V165.3"/><path class="ge" d="M595.4 136.8V180.7"/><path class="ge" d="M596.1 143.0V156.5"/><path class="ge" d="M595.5 144.1V169.4"/><path class="ge" d="M596.0 144.2V181.1"/><path class="ge" d="M595.5 152.3V167.1"/><path class="ge" d="M595.2 151.7V174.1"/><path class="ge" d="M595.9 139.5V162.6"/><path class="ge" d="M596.0 140.9V167.6"/><path class="ge" d="M596.8 144.0V168.6"/><path class="ge" d="M596.7 150.4V173.3"/><path class="ge" d="M596.8 140.0V162.4"/><path class="ge" d="M597.2 133.2V179.4"/><path class="ge" d="M596.6 143.9V161.5"/><path class="ge" d="M596.6 147.3V163.3"/><path class="ge" d="M596.8 152.5V164.6"/><path class="ge" d="M596.3 151.3V175.6"/><path class="ge" d="M597.9 151.8V171.5"/><path class="ge" d="M597.9 149.5V165.2"/><path class="ge" d="M597.8 153.0V172.7"/><path class="ge" d="M597.8 153.6V175.6"/><path class="ge" d="M598.0 149.2V171.9"/><path class="ge" d="M598.0 143.0V169.0"/><path class="ge" d="M598.1 156.0V168.8"/><path class="ge" d="M597.9 133.0V175.4"/><path class="ge" d="M599.7 145.9V164.3"/><path class="ge" d="M599.3 148.9V169.4"/><path class="ge" d="M599.6 140.8V172.5"/><path class="ge" d="M598.8 153.4V169.1"/><path class="ge" d="M599.2 148.5V171.3"/><path class="ge" d="M598.9 139.4V163.7"/><path class="ge" d="M598.9 146.9V182.1"/><path class="ge" d="M599.0 154.5V172.9"/><path class="ge" d="M600.3 131.9V198.6"/><path class="ge" d="M599.9 146.1V160.4"/><path class="ge" d="M600.4 151.5V164.7"/><path class="ge" d="M599.9 146.5V167.3"/><path class="ge" d="M600.4 143.2V169.6"/><path class="ge" d="M600.0 146.1V160.1"/><path class="ge" d="M600.2 146.3V170.1"/><path class="ge" d="M599.9 151.0V172.1"/><path class="ge" d="M601.5 147.8V163.0"/><path class="ge" d="M600.7 139.1V161.7"/><path class="ge" d="M601.3 156.0V172.1"/><path class="ge" d="M601.4 145.6V167.1"/><path class="ge" d="M601.6 145.3V162.2"/><path class="ge" d="M601.5 145.2V174.7"/><path class="ge" d="M600.8 144.3V168.9"/><path class="ge" d="M601.5 145.9V169.1"/><path class="ge" d="M602.4 152.3V170.0"/><path class="ge" d="M602.5 137.8V159.6"/><path class="ge" d="M602.7 157.7V172.3"/><path class="ge" d="M602.3 148.8V173.2"/><path class="ge" d="M602.3 160.5V177.1"/><path class="ge" d="M602.4 153.3V171.9"/><path class="ge" d="M602.0 150.9V165.4"/><path class="ge" d="M602.3 138.7V163.5"/><path class="ge" d="M603.4 139.8V163.7"/><path class="ge" d="M603.6 153.5V176.5"/><path class="ge" d="M603.3 143.5V164.4"/><path class="ge" d="M603.2 150.0V174.0"/><path class="ge" d="M603.4 151.4V164.9"/><path class="ge" d="M603.1 156.0V178.6"/><path class="ge" d="M603.8 144.4V158.5"/><path class="ge" d="M603.8 151.2V171.9"/><path class="ge" d="M604.3 130.0V173.9"/><path class="ge" d="M604.3 148.6V170.2"/><path class="ge" d="M603.9 133.5V177.5"/><path class="ge" d="M604.1 149.1V163.5"/><path class="ge" d="M604.2 139.9V166.8"/><path class="ge" d="M604.6 147.8V162.5"/><path class="ge" d="M604.3 145.6V165.4"/><path class="ge" d="M604.7 140.0V160.2"/><path class="ge" d="M605.6 151.0V167.4"/><path class="ge" d="M605.4 140.8V158.4"/><path class="ge" d="M605.7 146.7V173.5"/><path class="ge" d="M605.4 152.6V164.7"/><path class="ge" d="M605.0 139.7V166.0"/><path class="ge" d="M605.4 154.1V179.9"/><path class="ge" d="M605.3 146.4V168.8"/><path class="ge" d="M605.2 148.7V165.7"/><path class="ge" d="M606.5 144.9V162.0"/><path class="ge" d="M606.6 141.0V167.0"/><path class="ge" d="M605.9 148.0V162.0"/><path class="ge" d="M606.2 137.3V171.5"/><path class="ge" d="M605.9 150.8V170.5"/><path class="ge" d="M606.1 144.7V169.4"/><path class="ge" d="M606.1 149.4V161.7"/><path class="ge" d="M606.1 149.2V171.1"/><path class="ge" d="M607.0 147.3V160.0"/><path class="ge" d="M607.4 154.0V167.7"/><path class="ge" d="M607.6 143.8V166.7"/><path class="ge" d="M607.4 146.3V168.0"/><path class="ge" d="M606.8 141.5V165.4"/><path class="ge" d="M606.9 148.4V161.0"/><path class="ge" d="M607.5 146.0V169.6"/><path class="ge" d="M606.9 145.5V170.9"/><path class="ge" d="M608.3 138.0V163.6"/><path class="ge" d="M608.0 138.2V163.6"/><path class="ge" d="M607.9 154.3V170.9"/><path class="ge" d="M608.5 149.4V167.3"/><path class="ge" d="M608.8 147.7V172.8"/><path class="ge" d="M608.5 140.8V161.9"/><path class="ge" d="M608.3 147.7V167.5"/><path class="ge" d="M608.3 153.8V167.0"/><path class="ge" d="M609.5 141.8V165.5"/><path class="ge" d="M609.4 148.6V174.7"/><path class="ge" d="M609.7 143.9V157.8"/><path class="ge" d="M609.4 151.8V182.1"/><path class="ge" d="M609.1 145.2V162.5"/><path class="ge" d="M609.1 148.1V167.7"/><path class="ge" d="M609.0 156.6V174.3"/><path class="ge" d="M609.9 146.8V159.1"/><path class="ge" d="M609.9 143.2V155.4"/><path class="ge" d="M610.6 147.6V170.9"/><path class="ge" d="M610.0 146.4V168.3"/><path class="ge" d="M610.1 147.6V162.6"/><path class="ge" d="M609.8 140.0V155.4"/><path class="ge" d="M610.1 152.0V174.3"/><path class="ge" d="M609.9 147.0V162.3"/><path class="ge" d="M610.3 145.0V169.7"/><path class="ge" d="M611.3 150.7V163.9"/><path class="ge" d="M611.2 144.3V170.9"/><path class="ge" d="M611.1 142.6V161.0"/><path class="ge" d="M611.7 142.2V157.8"/><path class="ge" d="M611.5 142.2V167.3"/><path class="ge" d="M610.9 136.1V179.8"/><path class="ge" d="M611.4 144.4V174.6"/><path class="ge" d="M610.8 145.4V166.5"/><path class="ge" d="M612.7 147.1V169.2"/><path class="ge" d="M612.6 151.2V177.7"/><path class="ge" d="M612.7 128.6V183.4"/><path class="ge" d="M612.5 143.4V165.2"/><path class="ge" d="M612.6 146.3V164.0"/><path class="ge" d="M612.1 145.6V170.8"/><path class="ge" d="M611.9 158.5V170.8"/><path class="ge" d="M612.5 144.4V157.6"/><path class="ge" d="M612.8 144.7V164.8"/><path class="ge" d="M613.6 155.6V167.8"/><path class="ge" d="M613.4 149.1V170.8"/><path class="ge" d="M613.4 157.5V170.4"/><path class="ge" d="M613.0 145.4V157.9"/><path class="ge" d="M613.0 138.1V161.9"/><path class="ge" d="M613.3 143.0V169.0"/><path class="ge" d="M613.0 146.0V167.7"/><path class="ge" d="M613.6 136.8V161.8"/><path class="ge" d="M614.0 138.3V154.9"/><path class="ge" d="M613.6 151.7V172.5"/><path class="ge" d="M614.4 145.4V161.3"/><path class="ge" d="M613.5 141.3V164.8"/><path class="ge" d="M614.0 143.9V158.9"/><path class="ge" d="M613.8 147.2V167.6"/><path class="ge" d="M614.1 151.8V166.1"/><path class="gm" d="M491.7 155.8L494.9 159.0M491.7 159.0L494.9 155.8"/><path class="gm" d="M491.4 160.4L494.6 163.6M491.4 163.6L494.6 160.4"/><path class="gm" d="M491.6 156.7L494.8 159.9M491.6 159.9L494.8 156.7"/><path class="gm" d="M491.7 168.5L494.9 171.7M491.7 171.7L494.9 168.5"/><path class="gm" d="M491.2 158.7L494.4 161.9M491.2 161.9L494.4 158.7"/><path class="gm" d="M491.4 151.8L494.6 155.0M491.4 155.0L494.6 151.8"/><path class="gm" d="M492.0 163.3L495.2 166.5M492.0 166.5L495.2 163.3"/><path class="gm" d="M491.5 157.0L494.7 160.2M491.5 160.2L494.7 157.0"/><path class="gm" d="M492.0 156.8L495.2 160.0M492.0 160.0L495.2 156.8"/><path class="gm" d="M492.9 151.3L496.1 154.5M492.9 154.5L496.1 151.3"/><path class="gm" d="M492.3 150.2L495.5 153.4M492.3 153.4L495.5 150.2"/><path class="gm" d="M492.5 157.6L495.7 160.8M492.5 160.8L495.7 157.6"/><path class="gm" d="M492.9 160.4L496.1 163.6M492.9 163.6L496.1 160.4"/><path class="gm" d="M492.8 152.0L496.0 155.2M492.8 155.2L496.0 152.0"/><path class="gm" d="M492.1 163.9L495.3 167.1M492.1 167.1L495.3 163.9"/><path class="gm" d="M492.2 153.5L495.4 156.7M492.2 156.7L495.4 153.5"/><path class="gm" d="M493.1 162.6L496.3 165.8M493.1 165.8L496.3 162.6"/><path class="gm" d="M493.5 158.4L496.7 161.6M493.5 161.6L496.7 158.4"/><path class="gm" d="M493.0 156.2L496.2 159.4M493.0 159.4L496.2 156.2"/><path class="gm" d="M493.2 154.5L496.4 157.7M493.2 157.7L496.4 154.5"/><path class="gm" d="M492.7 158.8L495.9 162.0M492.7 162.0L495.9 158.8"/><path class="gm" d="M493.3 155.4L496.5 158.6M493.3 158.6L496.5 155.4"/><path class="gm" d="M493.7 156.1L496.9 159.3M493.7 159.3L496.9 156.1"/><path class="gm" d="M493.2 156.4L496.4 159.6M493.2 159.6L496.4 156.4"/><path class="gm" d="M494.1 149.7L497.3 152.9M494.1 152.9L497.3 149.7"/><path class="gm" d="M493.9 154.7L497.1 157.9M493.9 157.9L497.1 154.7"/><path class="gm" d="M494.0 154.9L497.2 158.1M494.0 158.1L497.2 154.9"/><path class="gm" d="M494.1 152.5L497.3 155.7M494.1 155.7L497.3 152.5"/><path class="gm" d="M494.0 160.9L497.2 164.1M494.0 164.1L497.2 160.9"/><path class="gm" d="M494.2 156.1L497.4 159.3M494.2 159.3L497.4 156.1"/><path class="gm" d="M494.5 155.3L497.7 158.5M494.5 158.5L497.7 155.3"/><path class="gm" d="M494.1 154.6L497.3 157.8M494.1 157.8L497.3 154.6"/><path class="gm" d="M497.9 153.8L501.1 157.0M497.9 157.0L501.1 153.8"/><path class="gm" d="M498.1 158.8L501.3 162.0M498.1 162.0L501.3 158.8"/><path class="gm" d="M497.5 160.5L500.7 163.7M497.5 163.7L500.7 160.5"/><path class="gm" d="M497.5 156.3L500.7 159.5M497.5 159.5L500.7 156.3"/><path class="gm" d="M497.6 149.7L500.8 152.9M497.6 152.9L500.8 149.7"/><path class="gm" d="M498.2 157.9L501.4 161.1M498.2 161.1L501.4 157.9"/><path class="gm" d="M497.8 157.2L501.0 160.4M497.8 160.4L501.0 157.2"/><path class="gm" d="M497.8 158.6L501.0 161.8M497.8 161.8L501.0 158.6"/><path class="gm" d="M498.4 158.0L501.6 161.2M498.4 161.2L501.6 158.0"/><path class="gm" d="M498.9 162.2L502.1 165.4M498.9 165.4L502.1 162.2"/><path class="gm" d="M498.4 154.2L501.6 157.4M498.4 157.4L501.6 154.2"/><path class="gm" d="M498.5 157.1L501.7 160.3M498.5 160.3L501.7 157.1"/><path class="gm" d="M499.0 147.8L502.2 151.0M499.0 151.0L502.2 147.8"/><path class="gm" d="M499.1 160.2L502.3 163.4M499.1 163.4L502.3 160.2"/><path class="gm" d="M498.8 157.9L502.0 161.1M498.8 161.1L502.0 157.9"/><path class="gm" d="M498.4 154.2L501.6 157.4M498.4 157.4L501.6 154.2"/><path class="gm" d="M499.7 155.6L502.9 158.8M499.7 158.8L502.9 155.6"/><path class="gm" d="M499.6 156.9L502.8 160.1M499.6 160.1L502.8 156.9"/><path class="gm" d="M498.9 163.0L502.1 166.2M498.9 166.2L502.1 163.0"/><path class="gm" d="M499.2 151.5L502.4 154.7M499.2 154.7L502.4 151.5"/><path class="gm" d="M499.5 152.9L502.7 156.1M499.5 156.1L502.7 152.9"/><path class="gm" d="M499.8 151.2L503.0 154.4M499.8 154.4L503.0 151.2"/><path class="gm" d="M499.4 148.5L502.6 151.7M499.4 151.7L502.6 148.5"/><path class="gm" d="M499.7 156.4L502.9 159.6M499.7 159.6L502.9 156.4"/><path class="gm" d="M500.6 161.8L503.8 165.0M500.6 165.0L503.8 161.8"/><path class="gm" d="M500.0 152.0L503.2 155.2M500.0 155.2L503.2 152.0"/><path class="gm" d="M499.7 151.3L502.9 154.5M499.7 154.5L502.9 151.3"/><path class="gm" d="M499.8 154.7L503.0 157.9M499.8 157.9L503.0 154.7"/><path class="gm" d="M500.0 165.3L503.2 168.5M500.0 168.5L503.2 165.3"/><path class="gm" d="M500.3 159.9L503.5 163.1M500.3 163.1L503.5 159.9"/><path class="gm" d="M499.8 152.2L503.0 155.4M499.8 155.4L503.0 152.2"/><path class="gm" d="M500.1 153.4L503.3 156.6M500.1 156.6L503.3 153.4"/><path class="gm" d="M511.1 157.9L514.3 161.1M511.1 161.1L514.3 157.9"/><path class="gm" d="M510.9 156.8L514.1 160.0M510.9 160.0L514.1 156.8"/><path class="gm" d="M510.7 151.5L513.9 154.7M510.7 154.7L513.9 151.5"/><path class="gm" d="M510.5 157.2L513.7 160.4M510.5 160.4L513.7 157.2"/><path class="gm" d="M510.7 148.6L513.9 151.8M510.7 151.8L513.9 148.6"/><path class="gm" d="M510.7 153.9L513.9 157.1M510.7 157.1L513.9 153.9"/><path class="gm" d="M510.4 161.8L513.6 165.0M510.4 165.0L513.6 161.8"/><path class="gm" d="M511.2 150.6L514.4 153.8M511.2 153.8L514.4 150.6"/><path class="gm" d="M511.5 151.8L514.7 155.0M511.5 155.0L514.7 151.8"/><path class="gm" d="M511.5 149.0L514.7 152.2M511.5 152.2L514.7 149.0"/><path class="gm" d="M511.5 157.1L514.7 160.3M511.5 160.3L514.7 157.1"/><path class="gm" d="M512.3 156.5L515.5 159.7M512.3 159.7L515.5 156.5"/><path class="gm" d="M512.3 151.4L515.5 154.6M512.3 154.6L515.5 151.4"/><path class="gm" d="M512.0 147.8L515.2 151.0M512.0 151.0L515.2 147.8"/><path class="gm" d="M511.5 154.9L514.7 158.1M511.5 158.1L514.7 154.9"/><path class="gm" d="M512.3 153.3L515.5 156.5M512.3 156.5L515.5 153.3"/><path class="gm" d="M512.7 156.9L515.9 160.1M512.7 160.1L515.9 156.9"/><path class="gm" d="M512.7 158.5L515.9 161.7M512.7 161.7L515.9 158.5"/><path class="gm" d="M512.7 153.8L515.9 157.0M512.7 157.0L515.9 153.8"/><path class="gm" d="M513.0 156.3L516.2 159.5M513.0 159.5L516.2 156.3"/><path class="gm" d="M513.0 155.7L516.2 158.9M513.0 158.9L516.2 155.7"/><path class="gm" d="M512.4 148.7L515.6 151.9M512.4 151.9L515.6 148.7"/><path class="gm" d="M513.0 155.3L516.2 158.5M513.0 158.5L516.2 155.3"/><path class="gm" d="M512.5 145.4L515.7 148.6M512.5 148.6L515.7 145.4"/><path class="gm" d="M513.7 154.1L516.9 157.3M513.7 157.3L516.9 154.1"/><path class="gm" d="M514.2 158.4L517.4 161.6M514.2 161.6L517.4 158.4"/><path class="gm" d="M513.8 152.3L517.0 155.5M513.8 155.5L517.0 152.3"/><path class="gm" d="M513.7 153.6L516.9 156.8M513.7 156.8L516.9 153.6"/><path class="gm" d="M514.0 155.8L517.2 159.0M514.0 159.0L517.2 155.8"/><path class="gm" d="M514.2 152.9L517.4 156.1M514.2 156.1L517.4 152.9"/><path class="gm" d="M513.8 150.6L517.0 153.8M513.8 153.8L517.0 150.6"/><path class="gm" d="M513.8 153.6L517.0 156.8M513.8 156.8L517.0 153.6"/><path class="gm" d="M515.1 156.1L518.3 159.3M515.1 159.3L518.3 156.1"/><path class="gm" d="M514.5 162.5L517.7 165.7M514.5 165.7L517.7 162.5"/><path class="gm" d="M514.5 158.1L517.7 161.3M514.5 161.3L517.7 158.1"/><path class="gm" d="M514.6 161.9L517.8 165.1M514.6 165.1L517.8 161.9"/><path class="gm" d="M514.5 155.1L517.7 158.3M514.5 158.3L517.7 155.1"/><path class="gm" d="M514.9 153.5L518.1 156.7M514.9 156.7L518.1 153.5"/><path class="gm" d="M514.4 159.5L517.6 162.7M514.4 162.7L517.6 159.5"/><path class="gm" d="M514.6 155.6L517.8 158.8M514.6 158.8L517.8 155.6"/><path class="gm" d="M516.1 158.0L519.3 161.2M516.1 161.2L519.3 158.0"/><path class="gm" d="M515.6 157.9L518.8 161.1M515.6 161.1L518.8 157.9"/><path class="gm" d="M515.9 156.5L519.1 159.7M515.9 159.7L519.1 156.5"/><path class="gm" d="M516.0 147.9L519.2 151.1M516.0 151.1L519.2 147.9"/><path class="gm" d="M515.6 161.9L518.8 165.1M515.6 165.1L518.8 161.9"/><path class="gm" d="M515.8 153.8L519.0 157.0M515.8 157.0L519.0 153.8"/><path class="gm" d="M516.1 158.1L519.3 161.3M516.1 161.3L519.3 158.1"/><path class="gm" d="M516.2 161.3L519.4 164.5M516.2 164.5L519.4 161.3"/><path class="gm" d="M516.7 151.9L519.9 155.1M516.7 155.1L519.9 151.9"/><path class="gm" d="M516.2 161.7L519.4 164.9M516.2 164.9L519.4 161.7"/><path class="gm" d="M516.8 161.9L520.0 165.1M516.8 165.1L520.0 161.9"/><path class="gm" d="M516.4 158.4L519.6 161.6M516.4 161.6L519.6 158.4"/><path class="gm" d="M516.8 156.3L520.0 159.5M516.8 159.5L520.0 156.3"/><path class="gm" d="M516.4 154.5L519.6 157.7M516.4 157.7L519.6 154.5"/><path class="gm" d="M516.1 147.9L519.3 151.1M516.1 151.1L519.3 147.9"/><path class="gm" d="M516.8 153.4L520.0 156.6M516.8 156.6L520.0 153.4"/><path class="gm" d="M518.0 156.6L521.2 159.8M518.0 159.8L521.2 156.6"/><path class="gm" d="M517.3 158.1L520.5 161.3M517.3 161.3L520.5 158.1"/><path class="gm" d="M517.4 153.0L520.6 156.2M517.4 156.2L520.6 153.0"/><path class="gm" d="M517.2 157.2L520.4 160.4M517.2 160.4L520.4 157.2"/><path class="gm" d="M517.7 158.5L520.9 161.7M517.7 161.7L520.9 158.5"/><path class="gm" d="M518.1 146.4L521.3 149.6M518.1 149.6L521.3 146.4"/><path class="gm" d="M517.8 153.9L521.0 157.1M517.8 157.1L521.0 153.9"/><path class="gm" d="M517.8 151.9L521.0 155.1M517.8 155.1L521.0 151.9"/><path class="gm" d="M518.2 150.5L521.4 153.7M518.2 153.7L521.4 150.5"/><path class="gm" d="M518.6 154.7L521.8 157.9M518.6 157.9L521.8 154.7"/><path class="gm" d="M518.9 145.0L522.1 148.2M518.9 148.2L522.1 145.0"/><path class="gm" d="M518.4 150.8L521.6 154.0M518.4 154.0L521.6 150.8"/><path class="gm" d="M519.0 160.3L522.2 163.5M519.0 163.5L522.2 160.3"/><path class="gm" d="M519.0 158.0L522.2 161.2M519.0 161.2L522.2 158.0"/><path class="gm" d="M518.5 147.1L521.7 150.3M518.5 150.3L521.7 147.1"/><path class="gm" d="M519.0 149.3L522.2 152.5M519.0 152.5L522.2 149.3"/><path class="gm" d="M519.3 155.6L522.5 158.8M519.3 158.8L522.5 155.6"/><path class="gm" d="M519.8 150.2L523.0 153.4M519.8 153.4L523.0 150.2"/><path class="gm" d="M519.6 150.8L522.8 154.0M519.6 154.0L522.8 150.8"/><path class="gm" d="M519.3 154.3L522.5 157.5M519.3 157.5L522.5 154.3"/><path class="gm" d="M519.6 161.2L522.8 164.4M519.6 164.4L522.8 161.2"/><path class="gm" d="M519.1 151.2L522.3 154.4M519.1 154.4L522.3 151.2"/><path class="gm" d="M519.3 157.4L522.5 160.6M519.3 160.6L522.5 157.4"/><path class="gm" d="M519.5 163.0L522.7 166.2M519.5 166.2L522.7 163.0"/><path class="gm" d="M520.0 157.5L523.2 160.7M520.0 160.7L523.2 157.5"/><path class="gm" d="M520.3 155.8L523.5 159.0M520.3 159.0L523.5 155.8"/><path class="gm" d="M519.9 155.0L523.1 158.2M519.9 158.2L523.1 155.0"/><path class="gm" d="M520.0 154.0L523.2 157.2M520.0 157.2L523.2 154.0"/><path class="gm" d="M520.0 152.7L523.2 155.9M520.0 155.9L523.2 152.7"/><path class="gm" d="M520.2 155.8L523.4 159.0M520.2 159.0L523.4 155.8"/><path class="gm" d="M520.2 156.6L523.4 159.8M520.2 159.8L523.4 156.6"/><path class="gm" d="M520.5 150.5L523.7 153.7M520.5 153.7L523.7 150.5"/><path class="gm" d="M520.8 161.1L524.0 164.3M520.8 164.3L524.0 161.1"/><path class="gm" d="M520.9 159.2L524.1 162.4M520.9 162.4L524.1 159.2"/><path class="gm" d="M521.8 161.6L525.0 164.8M521.8 164.8L525.0 161.6"/><path class="gm" d="M521.7 157.6L524.9 160.8M521.7 160.8L524.9 157.6"/><path class="gm" d="M521.8 156.5L525.0 159.7M521.8 159.7L525.0 156.5"/><path class="gm" d="M521.7 155.0L524.9 158.2M521.7 158.2L524.9 155.0"/><path class="gm" d="M521.8 158.8L525.0 162.0M521.8 162.0L525.0 158.8"/><path class="gm" d="M521.6 158.4L524.8 161.6M521.6 161.6L524.8 158.4"/><path class="gm" d="M522.3 145.8L525.5 149.0M522.3 149.0L525.5 145.8"/><path class="gm" d="M522.3 152.0L525.5 155.2M522.3 155.2L525.5 152.0"/><path class="gm" d="M522.4 158.9L525.6 162.1M522.4 162.1L525.6 158.9"/><path class="gm" d="M522.7 161.7L525.9 164.9M522.7 164.9L525.9 161.7"/><path class="gm" d="M522.1 160.4L525.3 163.6M522.1 163.6L525.3 160.4"/><path class="gm" d="M522.7 156.1L525.9 159.3M522.7 159.3L525.9 156.1"/><path class="gm" d="M522.8 162.0L526.0 165.2M522.8 165.2L526.0 162.0"/><path class="gm" d="M522.1 149.1L525.3 152.3M522.1 152.3L525.3 149.1"/><path class="gm" d="M523.6 157.4L526.8 160.6M523.6 160.6L526.8 157.4"/><path class="gm" d="M523.6 154.8L526.8 158.0M523.6 158.0L526.8 154.8"/><path class="gm" d="M523.2 154.8L526.4 158.0M523.2 158.0L526.4 154.8"/><path class="gm" d="M523.7 155.0L526.9 158.2M523.7 158.2L526.9 155.0"/><path class="gm" d="M523.1 149.1L526.3 152.3M523.1 152.3L526.3 149.1"/><path class="gm" d="M523.1 150.6L526.3 153.8M523.1 153.8L526.3 150.6"/><path class="gm" d="M523.0 167.0L526.2 170.2M523.0 170.2L526.2 167.0"/><path class="gm" d="M523.8 157.2L527.0 160.4M523.8 160.4L527.0 157.2"/><path class="gm" d="M524.6 150.6L527.8 153.8M524.6 153.8L527.8 150.6"/><path class="gm" d="M524.6 149.5L527.8 152.7M524.6 152.7L527.8 149.5"/><path class="gm" d="M524.8 156.6L528.0 159.8M524.8 159.8L528.0 156.6"/><path class="gm" d="M524.5 152.6L527.7 155.8M524.5 155.8L527.7 152.6"/><path class="gm" d="M524.7 160.5L527.9 163.7M524.7 163.7L527.9 160.5"/><path class="gm" d="M524.4 157.9L527.6 161.1M524.4 161.1L527.6 157.9"/><path class="gm" d="M524.2 159.5L527.4 162.7M524.2 162.7L527.4 159.5"/><path class="gm" d="M524.9 155.3L528.1 158.5M524.9 158.5L528.1 155.3"/><path class="gm" d="M526.3 147.5L529.5 150.7M526.3 150.7L529.5 147.5"/><path class="gm" d="M525.8 148.7L529.0 151.9M525.8 151.9L529.0 148.7"/><path class="gm" d="M525.6 156.1L528.8 159.3M525.6 159.3L528.8 156.1"/><path class="gm" d="M525.4 150.8L528.6 154.0M525.4 154.0L528.6 150.8"/><path class="gm" d="M525.4 154.8L528.6 158.0M525.4 158.0L528.6 154.8"/><path class="gm" d="M525.8 151.7L529.0 154.9M525.8 154.9L529.0 151.7"/><path class="gm" d="M525.4 151.2L528.6 154.4M525.4 154.4L528.6 151.2"/><path class="gm" d="M525.4 161.5L528.6 164.7M525.4 164.7L528.6 161.5"/><path class="gm" d="M527.0 156.0L530.2 159.2M527.0 159.2L530.2 156.0"/><path class="gm" d="M526.4 148.4L529.6 151.6M526.4 151.6L529.6 148.4"/><path class="gm" d="M527.0 150.0L530.2 153.2M527.0 153.2L530.2 150.0"/><path class="gm" d="M527.0 156.7L530.2 159.9M527.0 159.9L530.2 156.7"/><path class="gm" d="M526.1 156.7L529.3 159.9M526.1 159.9L529.3 156.7"/><path class="gm" d="M526.7 151.9L529.9 155.1M526.7 155.1L529.9 151.9"/><path class="gm" d="M526.6 156.1L529.8 159.3M526.6 159.3L529.8 156.1"/><path class="gm" d="M527.1 156.6L530.3 159.8M527.1 159.8L530.3 156.6"/><path class="gm" d="M526.9 155.7L530.1 158.9M526.9 158.9L530.1 155.7"/><path class="gm" d="M527.1 156.1L530.3 159.3M527.1 159.3L530.3 156.1"/><path class="gm" d="M527.5 156.9L530.7 160.1M527.5 160.1L530.7 156.9"/><path class="gm" d="M527.6 151.0L530.8 154.2M527.6 154.2L530.8 151.0"/><path class="gm" d="M527.3 155.4L530.5 158.6M527.3 158.6L530.5 155.4"/><path class="gm" d="M527.1 157.8L530.3 161.0M527.1 161.0L530.3 157.8"/><path class="gm" d="M527.7 155.8L530.9 159.0M527.7 159.0L530.9 155.8"/><path class="gm" d="M527.8 156.1L531.0 159.3M527.8 159.3L531.0 156.1"/><path class="gm" d="M528.2 151.7L531.4 154.9M528.2 154.9L531.4 151.7"/><path class="gm" d="M528.6 152.6L531.8 155.8M528.6 155.8L531.8 152.6"/><path class="gm" d="M528.5 151.9L531.7 155.1M528.5 155.1L531.7 151.9"/><path class="gm" d="M528.3 157.7L531.5 160.9M528.3 160.9L531.5 157.7"/><path class="gm" d="M529.0 150.8L532.2 154.0M529.0 154.0L532.2 150.8"/><path class="gm" d="M528.6 154.8L531.8 158.0M528.6 158.0L531.8 154.8"/><path class="gm" d="M528.1 151.8L531.3 155.0M528.1 155.0L531.3 151.8"/><path class="gm" d="M528.5 155.7L531.7 158.9M528.5 158.9L531.7 155.7"/><path class="gm" d="M529.4 161.7L532.6 164.9M529.4 164.9L532.6 161.7"/><path class="gm" d="M529.6 153.8L532.8 157.0M529.6 157.0L532.8 153.8"/><path class="gm" d="M529.7 154.0L532.9 157.2M529.7 157.2L532.9 154.0"/><path class="gm" d="M529.5 166.3L532.7 169.5M529.5 169.5L532.7 166.3"/><path class="gm" d="M529.3 157.2L532.5 160.4M529.3 160.4L532.5 157.2"/><path class="gm" d="M530.1 155.2L533.3 158.4M530.1 158.4L533.3 155.2"/><path class="gm" d="M530.2 149.8L533.4 153.0M530.2 153.0L533.4 149.8"/><path class="gm" d="M529.7 149.3L532.9 152.5M529.7 152.5L532.9 149.3"/><path class="gm" d="M530.3 154.1L533.5 157.3M530.3 157.3L533.5 154.1"/><path class="gm" d="M531.1 155.0L534.3 158.2M531.1 158.2L534.3 155.0"/><path class="gm" d="M530.3 152.4L533.5 155.6M530.3 155.6L533.5 152.4"/><path class="gm" d="M531.0 149.6L534.2 152.8M531.0 152.8L534.2 149.6"/><path class="gm" d="M530.2 166.3L533.4 169.5M530.2 169.5L533.4 166.3"/><path class="gm" d="M530.4 158.9L533.6 162.1M530.4 162.1L533.6 158.9"/><path class="gm" d="M531.0 157.1L534.2 160.3M531.0 160.3L534.2 157.1"/><path class="gm" d="M531.1 157.3L534.3 160.5M531.1 160.5L534.3 157.3"/><path class="gm" d="M531.9 158.8L535.1 162.0M531.9 162.0L535.1 158.8"/><path class="gm" d="M531.4 155.0L534.6 158.2M531.4 158.2L534.6 155.0"/><path class="gm" d="M531.9 151.2L535.1 154.4M531.9 154.4L535.1 151.2"/><path class="gm" d="M532.0 161.6L535.2 164.8M532.0 164.8L535.2 161.6"/><path class="gm" d="M532.3 156.9L535.5 160.1M532.3 160.1L535.5 156.9"/><path class="gm" d="M532.3 152.8L535.5 156.0M532.3 156.0L535.5 152.8"/><path class="gm" d="M531.8 157.1L535.0 160.3M531.8 160.3L535.0 157.1"/><path class="gm" d="M532.3 158.5L535.5 161.7M532.3 161.7L535.5 158.5"/><path class="gm" d="M532.7 162.2L535.9 165.4M532.7 165.4L535.9 162.2"/><path class="gm" d="M532.7 155.0L535.9 158.2M532.7 158.2L535.9 155.0"/><path class="gm" d="M532.9 152.2L536.1 155.4M532.9 155.4L536.1 152.2"/><path class="gm" d="M533.6 153.1L536.8 156.3M533.6 156.3L536.8 153.1"/><path class="gm" d="M533.6 163.6L536.8 166.8M533.6 166.8L536.8 163.6"/><path class="gm" d="M533.1 151.9L536.3 155.1M533.1 155.1L536.3 151.9"/><path class="gm" d="M533.6 154.9L536.8 158.1M533.6 158.1L536.8 154.9"/><path class="gm" d="M533.1 151.3L536.3 154.5M533.1 154.5L536.3 151.3"/><path class="gm" d="M533.9 160.9L537.1 164.1M533.9 164.1L537.1 160.9"/><path class="gm" d="M534.6 154.9L537.8 158.1M534.6 158.1L537.8 154.9"/><path class="gm" d="M534.2 163.6L537.4 166.8M534.2 166.8L537.4 163.6"/><path class="gm" d="M534.7 158.6L537.9 161.8M534.7 161.8L537.9 158.6"/><path class="gm" d="M534.1 147.2L537.3 150.4M534.1 150.4L537.3 147.2"/><path class="gm" d="M534.2 159.2L537.4 162.4M534.2 162.4L537.4 159.2"/><path class="gm" d="M534.0 150.1L537.2 153.3M534.0 153.3L537.2 150.1"/><path class="gm" d="M534.0 147.9L537.2 151.1M534.0 151.1L537.2 147.9"/><path class="gm" d="M535.5 153.8L538.7 157.0M535.5 157.0L538.7 153.8"/><path class="gm" d="M535.4 158.7L538.6 161.9M535.4 161.9L538.6 158.7"/><path class="gm" d="M534.7 160.6L537.9 163.8M534.7 163.8L537.9 160.6"/><path class="gm" d="M535.0 146.9L538.2 150.1M535.0 150.1L538.2 146.9"/><path class="gm" d="M535.2 158.3L538.4 161.5M535.2 161.5L538.4 158.3"/><path class="gm" d="M534.6 153.0L537.8 156.2M534.6 156.2L537.8 153.0"/><path class="gm" d="M535.1 156.8L538.3 160.0M535.1 160.0L538.3 156.8"/><path class="gm" d="M535.2 152.9L538.4 156.1M535.2 156.1L538.4 152.9"/><path class="gm" d="M536.3 165.7L539.5 168.9M536.3 168.9L539.5 165.7"/><path class="gm" d="M536.0 162.6L539.2 165.8M536.0 165.8L539.2 162.6"/><path class="gm" d="M536.0 147.0L539.2 150.2M536.0 150.2L539.2 147.0"/><path class="gm" d="M535.7 159.9L538.9 163.1M535.7 163.1L538.9 159.9"/><path class="gm" d="M536.1 153.9L539.3 157.1M536.1 157.1L539.3 153.9"/><path class="gm" d="M536.0 156.6L539.2 159.8M536.0 159.8L539.2 156.6"/><path class="gm" d="M536.2 158.9L539.4 162.1M536.2 162.1L539.4 158.9"/><path class="gm" d="M535.8 151.0L539.0 154.2M535.8 154.2L539.0 151.0"/><path class="gm" d="M537.5 159.1L540.7 162.3M537.5 162.3L540.7 159.1"/><path class="gm" d="M537.5 159.5L540.7 162.7M537.5 162.7L540.7 159.5"/><path class="gm" d="M537.0 155.9L540.2 159.1M537.0 159.1L540.2 155.9"/><path class="gm" d="M537.6 156.9L540.8 160.1M537.6 160.1L540.8 156.9"/><path class="gm" d="M537.0 157.5L540.2 160.7M537.0 160.7L540.2 157.5"/><path class="gm" d="M537.2 154.5L540.4 157.7M537.2 157.7L540.4 154.5"/><path class="gm" d="M537.2 160.5L540.4 163.7M537.2 163.7L540.4 160.5"/><path class="gm" d="M537.0 148.6L540.2 151.8M537.0 151.8L540.2 148.6"/><path class="gm" d="M538.5 154.2L541.7 157.4M538.5 157.4L541.7 154.2"/><path class="gm" d="M538.1 157.2L541.3 160.4M538.1 160.4L541.3 157.2"/><path class="gm" d="M538.3 152.5L541.5 155.7M538.3 155.7L541.5 152.5"/><path class="gm" d="M538.5 150.0L541.7 153.2M538.5 153.2L541.7 150.0"/><path class="gm" d="M538.4 154.0L541.6 157.2M538.4 157.2L541.6 154.0"/><path class="gm" d="M538.8 155.9L542.0 159.1M538.8 159.1L542.0 155.9"/><path class="gm" d="M538.2 154.1L541.4 157.3M538.2 157.3L541.4 154.1"/><path class="gm" d="M538.1 152.5L541.3 155.7M538.1 155.7L541.3 152.5"/><path class="gm" d="M539.9 151.5L543.1 154.7M539.9 154.7L543.1 151.5"/><path class="gm" d="M539.9 161.6L543.1 164.8M539.9 164.8L543.1 161.6"/><path class="gm" d="M539.2 150.4L542.4 153.6M539.2 153.6L542.4 150.4"/><path class="gm" d="M539.6 157.1L542.8 160.3M539.6 160.3L542.8 157.1"/><path class="gm" d="M540.0 152.3L543.2 155.5M540.0 155.5L543.2 152.3"/><path class="gm" d="M539.3 164.4L542.5 167.6M539.3 167.6L542.5 164.4"/><path class="gm" d="M539.5 162.2L542.7 165.4M539.5 165.4L542.7 162.2"/><path class="gm" d="M539.7 155.9L542.9 159.1M539.7 159.1L542.9 155.9"/><path class="gm" d="M540.8 153.8L544.0 157.0M540.8 157.0L544.0 153.8"/><path class="gm" d="M540.3 156.8L543.5 160.0M540.3 160.0L543.5 156.8"/><path class="gm" d="M540.3 150.5L543.5 153.7M540.3 153.7L543.5 150.5"/><path class="gm" d="M540.2 158.6L543.4 161.8M540.2 161.8L543.4 158.6"/><path class="gm" d="M540.5 145.5L543.7 148.7M540.5 148.7L543.7 145.5"/><path class="gm" d="M540.4 153.0L543.6 156.2M540.4 156.2L543.6 153.0"/><path class="gm" d="M540.5 157.5L543.7 160.7M540.5 160.7L543.7 157.5"/><path class="gm" d="M540.2 154.6L543.4 157.8M540.2 157.8L543.4 154.6"/><path class="gm" d="M541.9 152.4L545.1 155.6M541.9 155.6L545.1 152.4"/><path class="gm" d="M541.2 155.2L544.4 158.4M541.2 158.4L544.4 155.2"/><path class="gm" d="M542.1 153.2L545.3 156.4M542.1 156.4L545.3 153.2"/><path class="gm" d="M541.3 148.2L544.5 151.4M541.3 151.4L544.5 148.2"/><path class="gm" d="M542.0 153.6L545.2 156.8M542.0 156.8L545.2 153.6"/><path class="gm" d="M541.8 152.3L545.0 155.5M541.8 155.5L545.0 152.3"/><path class="gm" d="M541.7 148.1L544.9 151.3M541.7 151.3L544.9 148.1"/><path class="gm" d="M541.7 159.0L544.9 162.2M541.7 162.2L544.9 159.0"/><path class="gm" d="M542.7 155.7L545.9 158.9M542.7 158.9L545.9 155.7"/><path class="gm" d="M542.7 150.1L545.9 153.3M542.7 153.3L545.9 150.1"/><path class="gm" d="M542.7 158.1L545.9 161.3M542.7 161.3L545.9 158.1"/><path class="gm" d="M542.1 154.0L545.3 157.2M542.1 157.2L545.3 154.0"/><path class="gm" d="M542.1 149.0L545.3 152.2M542.1 152.2L545.3 149.0"/><path class="gm" d="M542.1 153.6L545.3 156.8M542.1 156.8L545.3 153.6"/><path class="gm" d="M542.4 157.3L545.6 160.5M542.4 160.5L545.6 157.3"/><path class="gm" d="M542.2 155.5L545.4 158.7M542.2 158.7L545.4 155.5"/><path class="gm" d="M543.1 159.1L546.3 162.3M543.1 162.3L546.3 159.1"/><path class="gm" d="M544.0 155.4L547.2 158.6M544.0 158.6L547.2 155.4"/><path class="gm" d="M543.5 161.9L546.7 165.1M543.5 165.1L546.7 161.9"/><path class="gm" d="M543.3 160.2L546.5 163.4M543.3 163.4L546.5 160.2"/><path class="gm" d="M543.5 147.7L546.7 150.9M543.5 150.9L546.7 147.7"/><path class="gm" d="M543.6 157.8L546.8 161.0M543.6 161.0L546.8 157.8"/><path class="gm" d="M543.4 149.6L546.6 152.8M543.4 152.8L546.6 149.6"/><path class="gm" d="M543.3 153.7L546.5 156.9M543.3 156.9L546.5 153.7"/><path class="gm" d="M544.6 150.1L547.8 153.3M544.6 153.3L547.8 150.1"/><path class="gm" d="M544.7 151.5L547.9 154.7M544.7 154.7L547.9 151.5"/><path class="gm" d="M544.6 163.7L547.8 166.9M544.6 166.9L547.8 163.7"/><path class="gm" d="M544.4 161.4L547.6 164.6M544.4 164.6L547.6 161.4"/><path class="gm" d="M544.7 143.9L547.9 147.1M544.7 147.1L547.9 143.9"/><path class="gm" d="M544.6 168.2L547.8 171.4M544.6 171.4L547.8 168.2"/><path class="gm" d="M545.1 160.5L548.3 163.7M545.1 163.7L548.3 160.5"/><path class="gm" d="M544.5 155.8L547.7 159.0M544.5 159.0L547.7 155.8"/><path class="gm" d="M545.3 154.2L548.5 157.4M545.3 157.4L548.5 154.2"/><path class="gm" d="M545.4 159.0L548.6 162.2M545.4 162.2L548.6 159.0"/><path class="gm" d="M545.7 161.8L548.9 165.0M545.7 165.0L548.9 161.8"/><path class="gm" d="M545.7 159.1L548.9 162.3M545.7 162.3L548.9 159.1"/><path class="gm" d="M546.1 155.9L549.3 159.1M546.1 159.1L549.3 155.9"/><path class="gm" d="M545.8 155.3L549.0 158.5M545.8 158.5L549.0 155.3"/><path class="gm" d="M545.9 151.5L549.1 154.7M545.9 154.7L549.1 151.5"/><path class="gm" d="M545.4 158.6L548.6 161.8M545.4 161.8L548.6 158.6"/><path class="gm" d="M546.3 151.1L549.5 154.3M546.3 154.3L549.5 151.1"/><path class="gm" d="M546.7 149.4L549.9 152.6M546.7 152.6L549.9 149.4"/><path class="gm" d="M546.6 152.8L549.8 156.0M546.6 156.0L549.8 152.8"/><path class="gm" d="M546.7 153.2L549.9 156.4M546.7 156.4L549.9 153.2"/><path class="gm" d="M546.9 152.8L550.1 156.0M546.9 156.0L550.1 152.8"/><path class="gm" d="M546.4 159.4L549.6 162.6M546.4 162.6L549.6 159.4"/><path class="gm" d="M546.7 156.0L549.9 159.2M546.7 159.2L549.9 156.0"/><path class="gm" d="M546.6 158.6L549.8 161.8M546.6 161.8L549.8 158.6"/><path class="gm" d="M547.7 150.6L550.9 153.8M547.7 153.8L550.9 150.6"/><path class="gm" d="M547.2 155.3L550.4 158.5M547.2 158.5L550.4 155.3"/><path class="gm" d="M547.2 161.7L550.4 164.9M547.2 164.9L550.4 161.7"/><path class="gm" d="M547.2 150.3L550.4 153.5M547.2 153.5L550.4 150.3"/><path class="gm" d="M547.9 146.4L551.1 149.6M547.9 149.6L551.1 146.4"/><path class="gm" d="M547.2 149.3L550.4 152.5M547.2 152.5L550.4 149.3"/><path class="gm" d="M548.0 157.7L551.2 160.9M548.0 160.9L551.2 157.7"/><path class="gm" d="M547.3 151.3L550.5 154.5M547.3 154.5L550.5 151.3"/><path class="gm" d="M548.2 159.0L551.4 162.2M548.2 162.2L551.4 159.0"/><path class="gm" d="M548.2 154.8L551.4 158.0M548.2 158.0L551.4 154.8"/><path class="gm" d="M548.5 158.7L551.7 161.9M548.5 161.9L551.7 158.7"/><path class="gm" d="M548.5 153.0L551.7 156.2M548.5 156.2L551.7 153.0"/><path class="gm" d="M548.8 152.8L552.0 156.0M548.8 156.0L552.0 152.8"/><path class="gm" d="M548.2 163.6L551.4 166.8M548.2 166.8L551.4 163.6"/><path class="gm" d="M548.5 162.1L551.7 165.3M548.5 165.3L551.7 162.1"/><path class="gm" d="M548.0 165.2L551.2 168.4M548.0 168.4L551.2 165.2"/><path class="gm" d="M550.1 155.0L553.3 158.2M550.1 158.2L553.3 155.0"/><path class="gm" d="M549.3 159.1L552.5 162.3M549.3 162.3L552.5 159.1"/><path class="gm" d="M549.8 159.0L553.0 162.2M549.8 162.2L553.0 159.0"/><path class="gm" d="M549.8 152.7L553.0 155.9M549.8 155.9L553.0 152.7"/><path class="gm" d="M549.5 164.4L552.7 167.6M549.5 167.6L552.7 164.4"/><path class="gm" d="M549.7 156.8L552.9 160.0M549.7 160.0L552.9 156.8"/><path class="gm" d="M550.0 152.0L553.2 155.2M550.0 155.2L553.2 152.0"/><path class="gm" d="M549.7 157.6L552.9 160.8M549.7 160.8L552.9 157.6"/><path class="gm" d="M550.5 159.6L553.7 162.8M550.5 162.8L553.7 159.6"/><path class="gm" d="M550.3 163.1L553.5 166.3M550.3 166.3L553.5 163.1"/><path class="gm" d="M550.5 155.0L553.7 158.2M550.5 158.2L553.7 155.0"/><path class="gm" d="M550.7 155.9L553.9 159.1M550.7 159.1L553.9 155.9"/><path class="gm" d="M550.2 160.4L553.4 163.6M550.2 163.6L553.4 160.4"/><path class="gm" d="M550.1 167.1L553.3 170.3M550.1 170.3L553.3 167.1"/><path class="gm" d="M551.0 147.1L554.2 150.3M551.0 150.3L554.2 147.1"/><path class="gm" d="M550.1 153.2L553.3 156.4M550.1 156.4L553.3 153.2"/><path class="gm" d="M551.8 148.3L555.0 151.5M551.8 151.5L555.0 148.3"/><path class="gm" d="M551.2 157.6L554.4 160.8M551.2 160.8L554.4 157.6"/><path class="gm" d="M551.4 156.9L554.6 160.1M551.4 160.1L554.6 156.9"/><path class="gm" d="M551.8 154.2L555.0 157.4M551.8 157.4L555.0 154.2"/><path class="gm" d="M551.8 160.6L555.0 163.8M551.8 163.8L555.0 160.6"/><path class="gm" d="M551.9 156.7L555.1 159.9M551.9 159.9L555.1 156.7"/><path class="gm" d="M552.1 155.2L555.3 158.4M552.1 158.4L555.3 155.2"/><path class="gm" d="M551.3 154.7L554.5 157.9M551.3 157.9L554.5 154.7"/><path class="gm" d="M553.1 150.3L556.3 153.5M553.1 153.5L556.3 150.3"/><path class="gm" d="M552.6 157.2L555.8 160.4M552.6 160.4L555.8 157.2"/><path class="gm" d="M552.7 155.7L555.9 158.9M552.7 158.9L555.9 155.7"/><path class="gm" d="M552.7 158.1L555.9 161.3M552.7 161.3L555.9 158.1"/><path class="gm" d="M552.4 151.4L555.6 154.6M552.4 154.6L555.6 151.4"/><path class="gm" d="M552.9 162.0L556.1 165.2M552.9 165.2L556.1 162.0"/><path class="gm" d="M552.4 146.0L555.6 149.2M552.4 149.2L555.6 146.0"/><path class="gm" d="M552.7 161.8L555.9 165.0M552.7 165.0L555.9 161.8"/><path class="gm" d="M554.2 152.5L557.4 155.7M554.2 155.7L557.4 152.5"/><path class="gm" d="M554.1 151.4L557.3 154.6M554.1 154.6L557.3 151.4"/><path class="gm" d="M554.5 156.8L557.7 160.0M554.5 160.0L557.7 156.8"/><path class="gm" d="M554.1 152.8L557.3 156.0M554.1 156.0L557.3 152.8"/><path class="gm" d="M554.2 154.7L557.4 157.9M554.2 157.9L557.4 154.7"/><path class="gm" d="M553.8 152.5L557.0 155.7M553.8 155.7L557.0 152.5"/><path class="gm" d="M554.3 160.2L557.5 163.4M554.3 163.4L557.5 160.2"/><path class="gm" d="M553.6 154.1L556.8 157.3M553.6 157.3L556.8 154.1"/><path class="gm" d="M554.9 154.0L558.1 157.2M554.9 157.2L558.1 154.0"/><path class="gm" d="M555.1 155.5L558.3 158.7M555.1 158.7L558.3 155.5"/><path class="gm" d="M554.9 158.9L558.1 162.1M554.9 162.1L558.1 158.9"/><path class="gm" d="M554.6 151.2L557.8 154.4M554.6 154.4L557.8 151.2"/><path class="gm" d="M555.2 158.0L558.4 161.2M555.2 161.2L558.4 158.0"/><path class="gm" d="M555.2 156.0L558.4 159.2M555.2 159.2L558.4 156.0"/><path class="gm" d="M554.7 162.3L557.9 165.5M554.7 165.5L557.9 162.3"/><path class="gm" d="M555.4 158.3L558.6 161.5M555.4 161.5L558.6 158.3"/><path class="gm" d="M555.8 153.2L559.0 156.4M555.8 156.4L559.0 153.2"/><path class="gm" d="M556.7 154.2L559.9 157.4M556.7 157.4L559.9 154.2"/><path class="gm" d="M556.1 153.4L559.3 156.6M556.1 156.6L559.3 153.4"/><path class="gm" d="M556.6 149.5L559.8 152.7M556.6 152.7L559.8 149.5"/><path class="gm" d="M556.5 161.5L559.7 164.7M556.5 164.7L559.7 161.5"/><path class="gm" d="M555.8 159.6L559.0 162.8M555.8 162.8L559.0 159.6"/><path class="gm" d="M556.6 155.0L559.8 158.2M556.6 158.2L559.8 155.0"/><path class="gm" d="M556.5 159.7L559.7 162.9M556.5 162.9L559.7 159.7"/><path class="gm" d="M557.0 147.9L560.2 151.1M557.0 151.1L560.2 147.9"/><path class="gm" d="M557.6 155.0L560.8 158.2M557.6 158.2L560.8 155.0"/><path class="gm" d="M557.2 161.9L560.4 165.1M557.2 165.1L560.4 161.9"/><path class="gm" d="M557.6 155.4L560.8 158.6M557.6 158.6L560.8 155.4"/><path class="gm" d="M557.5 147.6L560.7 150.8M557.5 150.8L560.7 147.6"/><path class="gm" d="M557.4 150.7L560.6 153.9M557.4 153.9L560.6 150.7"/><path class="gm" d="M557.4 153.0L560.6 156.2M557.4 156.2L560.6 153.0"/><path class="gm" d="M557.0 157.3L560.2 160.5M557.0 160.5L560.2 157.3"/><path class="gm" d="M558.0 160.9L561.2 164.1M558.0 164.1L561.2 160.9"/><path class="gm" d="M557.8 151.7L561.0 154.9M557.8 154.9L561.0 151.7"/><path class="gm" d="M557.8 164.7L561.0 167.9M557.8 167.9L561.0 164.7"/><path class="gm" d="M558.2 154.2L561.4 157.4M558.2 157.4L561.4 154.2"/><path class="gm" d="M558.1 157.0L561.3 160.2M558.1 160.2L561.3 157.0"/><path class="gm" d="M558.3 162.4L561.5 165.6M558.3 165.6L561.5 162.4"/><path class="gm" d="M558.2 157.6L561.4 160.8M558.2 160.8L561.4 157.6"/><path class="gm" d="M557.6 155.2L560.8 158.4M557.6 158.4L560.8 155.2"/><path class="gm" d="M558.9 151.1L562.1 154.3M558.9 154.3L562.1 151.1"/><path class="gm" d="M559.7 151.2L562.9 154.4M559.7 154.4L562.9 151.2"/><path class="gm" d="M559.3 157.1L562.5 160.3M559.3 160.3L562.5 157.1"/><path class="gm" d="M559.5 150.6L562.7 153.8M559.5 153.8L562.7 150.6"/><path class="gm" d="M559.2 155.5L562.4 158.7M559.2 158.7L562.4 155.5"/><path class="gm" d="M559.6 153.5L562.8 156.7M559.6 156.7L562.8 153.5"/><path class="gm" d="M559.6 152.6L562.8 155.8M559.6 155.8L562.8 152.6"/><path class="gm" d="M558.8 152.6L562.0 155.8M558.8 155.8L562.0 152.6"/><path class="gm" d="M560.2 155.7L563.4 158.9M560.2 158.9L563.4 155.7"/><path class="gm" d="M560.4 153.2L563.6 156.4M560.4 156.4L563.6 153.2"/><path class="gm" d="M560.6 149.9L563.8 153.1M560.6 153.1L563.8 149.9"/><path class="gm" d="M559.8 152.4L563.0 155.6M559.8 155.6L563.0 152.4"/><path class="gm" d="M559.8 156.2L563.0 159.4M559.8 159.4L563.0 156.2"/><path class="gm" d="M560.5 152.5L563.7 155.7M560.5 155.7L563.7 152.5"/><path class="gm" d="M559.8 156.7L563.0 159.9M559.8 159.9L563.0 156.7"/><path class="gm" d="M560.1 152.6L563.3 155.8M560.1 155.8L563.3 152.6"/><path class="gm" d="M561.4 156.9L564.6 160.1M561.4 160.1L564.6 156.9"/><path class="gm" d="M560.7 152.8L563.9 156.0M560.7 156.0L563.9 152.8"/><path class="gm" d="M561.1 153.2L564.3 156.4M561.1 156.4L564.3 153.2"/><path class="gm" d="M560.5 152.5L563.7 155.7M560.5 155.7L563.7 152.5"/><path class="gm" d="M561.3 158.4L564.5 161.6M561.3 161.6L564.5 158.4"/><path class="gm" d="M561.0 161.0L564.2 164.2M561.0 164.2L564.2 161.0"/><path class="gm" d="M560.5 160.3L563.7 163.5M560.5 163.5L563.7 160.3"/><path class="gm" d="M560.9 150.5L564.1 153.7M560.9 153.7L564.1 150.5"/><path class="gm" d="M561.5 161.2L564.7 164.4M561.5 164.4L564.7 161.2"/><path class="gm" d="M561.5 154.3L564.7 157.5M561.5 157.5L564.7 154.3"/><path class="gm" d="M561.6 161.1L564.8 164.3M561.6 164.3L564.8 161.1"/><path class="gm" d="M561.7 161.1L564.9 164.3M561.7 164.3L564.9 161.1"/><path class="gm" d="M561.5 155.3L564.7 158.5M561.5 158.5L564.7 155.3"/><path class="gm" d="M562.2 153.5L565.4 156.7M562.2 156.7L565.4 153.5"/><path class="gm" d="M561.3 148.6L564.5 151.8M561.3 151.8L564.5 148.6"/><path class="gm" d="M561.3 156.7L564.5 159.9M561.3 159.9L564.5 156.7"/><path class="gm" d="M563.2 154.7L566.4 157.9M563.2 157.9L566.4 154.7"/><path class="gm" d="M563.4 156.9L566.6 160.1M563.4 160.1L566.6 156.9"/><path class="gm" d="M562.7 158.5L565.9 161.7M562.7 161.7L565.9 158.5"/><path class="gm" d="M563.2 149.0L566.4 152.2M563.2 152.2L566.4 149.0"/><path class="gm" d="M562.7 152.9L565.9 156.1M562.7 156.1L565.9 152.9"/><path class="gm" d="M562.7 160.8L565.9 164.0M562.7 164.0L565.9 160.8"/><path class="gm" d="M563.1 149.9L566.3 153.1M563.1 153.1L566.3 149.9"/><path class="gm" d="M563.3 145.1L566.5 148.3M563.3 148.3L566.5 145.1"/><path class="gm" d="M564.3 157.2L567.5 160.4M564.3 160.4L567.5 157.2"/><path class="gm" d="M564.4 160.5L567.6 163.7M564.4 163.7L567.6 160.5"/><path class="gm" d="M563.6 159.8L566.8 163.0M563.6 163.0L566.8 159.8"/><path class="gm" d="M564.0 160.9L567.2 164.1M564.0 164.1L567.2 160.9"/><path class="gm" d="M564.2 153.7L567.4 156.9M564.2 156.9L567.4 153.7"/><path class="gm" d="M564.4 149.6L567.6 152.8M564.4 152.8L567.6 149.6"/><path class="gm" d="M564.5 153.1L567.7 156.3M564.5 156.3L567.7 153.1"/><path class="gm" d="M564.2 162.1L567.4 165.3M564.2 165.3L567.4 162.1"/><path class="gm" d="M565.2 153.4L568.4 156.6M565.2 156.6L568.4 153.4"/><path class="gm" d="M564.6 155.9L567.8 159.1M564.6 159.1L567.8 155.9"/><path class="gm" d="M565.2 151.6L568.4 154.8M565.2 154.8L568.4 151.6"/><path class="gm" d="M565.3 159.0L568.5 162.2M565.3 162.2L568.5 159.0"/><path class="gm" d="M565.0 160.8L568.2 164.0M565.0 164.0L568.2 160.8"/><path class="gm" d="M565.4 158.1L568.6 161.3M565.4 161.3L568.6 158.1"/><path class="gm" d="M564.9 156.0L568.1 159.2M564.9 159.2L568.1 156.0"/><path class="gm" d="M565.2 152.9L568.4 156.1M565.2 156.1L568.4 152.9"/><path class="gm" d="M566.2 150.7L569.4 153.9M566.2 153.9L569.4 150.7"/><path class="gm" d="M565.9 160.2L569.1 163.4M565.9 163.4L569.1 160.2"/><path class="gm" d="M565.8 153.0L569.0 156.2M565.8 156.2L569.0 153.0"/><path class="gm" d="M566.0 161.4L569.2 164.6M566.0 164.6L569.2 161.4"/><path class="gm" d="M565.4 156.6L568.6 159.8M565.4 159.8L568.6 156.6"/><path class="gm" d="M565.3 155.2L568.5 158.4M565.3 158.4L568.5 155.2"/><path class="gm" d="M566.2 155.0L569.4 158.2M566.2 158.2L569.4 155.0"/><path class="gm" d="M565.7 155.0L568.9 158.2M565.7 158.2L568.9 155.0"/><path class="gm" d="M566.3 155.5L569.5 158.7M566.3 158.7L569.5 155.5"/><path class="gm" d="M566.6 153.4L569.8 156.6M566.6 156.6L569.8 153.4"/><path class="gm" d="M566.9 146.1L570.1 149.3M566.9 149.3L570.1 146.1"/><path class="gm" d="M566.9 161.1L570.1 164.3M566.9 164.3L570.1 161.1"/><path class="gm" d="M566.4 151.6L569.6 154.8M566.4 154.8L569.6 151.6"/><path class="gm" d="M566.5 164.1L569.7 167.3M566.5 167.3L569.7 164.1"/><path class="gm" d="M566.2 153.9L569.4 157.1M566.2 157.1L569.4 153.9"/><path class="gm" d="M566.6 157.7L569.8 160.9M566.6 160.9L569.8 157.7"/><path class="gm" d="M567.6 153.1L570.8 156.3M567.6 156.3L570.8 153.1"/><path class="gm" d="M567.3 157.2L570.5 160.4M567.3 160.4L570.5 157.2"/><path class="gm" d="M567.2 158.4L570.4 161.6M567.2 161.6L570.4 158.4"/><path class="gm" d="M567.4 160.9L570.6 164.1M567.4 164.1L570.6 160.9"/><path class="gm" d="M567.5 163.4L570.7 166.6M567.5 166.6L570.7 163.4"/><path class="gm" d="M568.0 154.8L571.2 158.0M568.0 158.0L571.2 154.8"/><path class="gm" d="M567.4 160.1L570.6 163.3M567.4 163.3L570.6 160.1"/><path class="gm" d="M568.1 156.9L571.3 160.1M568.1 160.1L571.3 156.9"/><path class="gm" d="M568.9 159.8L572.1 163.0M568.9 163.0L572.1 159.8"/><path class="gm" d="M568.6 149.9L571.8 153.1M568.6 153.1L571.8 149.9"/><path class="gm" d="M568.8 158.6L572.0 161.8M568.8 161.8L572.0 158.6"/><path class="gm" d="M568.4 164.8L571.6 168.0M568.4 168.0L571.6 164.8"/><path class="gm" d="M568.6 151.2L571.8 154.4M568.6 154.4L571.8 151.2"/><path class="gm" d="M568.7 162.8L571.9 166.0M568.7 166.0L571.9 162.8"/><path class="gm" d="M568.8 157.2L572.0 160.4M568.8 160.4L572.0 157.2"/><path class="gm" d="M568.6 157.2L571.8 160.4M568.6 160.4L571.8 157.2"/><path class="gm" d="M569.8 159.5L573.0 162.7M569.8 162.7L573.0 159.5"/><path class="gm" d="M569.5 157.7L572.7 160.9M569.5 160.9L572.7 157.7"/><path class="gm" d="M570.3 147.1L573.5 150.3M570.3 150.3L573.5 147.1"/><path class="gm" d="M569.6 158.7L572.8 161.9M569.6 161.9L572.8 158.7"/><path class="gm" d="M570.0 152.9L573.2 156.1M570.0 156.1L573.2 152.9"/><path class="gm" d="M570.2 155.0L573.4 158.2M570.2 158.2L573.4 155.0"/><path class="gm" d="M569.8 158.5L573.0 161.7M569.8 161.7L573.0 158.5"/><path class="gm" d="M570.4 156.6L573.6 159.8M570.4 159.8L573.6 156.6"/><path class="gm" d="M571.3 155.7L574.5 158.9M571.3 158.9L574.5 155.7"/><path class="gm" d="M571.4 157.2L574.6 160.4M571.4 160.4L574.6 157.2"/><path class="gm" d="M570.9 162.9L574.1 166.1M570.9 166.1L574.1 162.9"/><path class="gm" d="M570.6 153.8L573.8 157.0M570.6 157.0L573.8 153.8"/><path class="gm" d="M570.9 155.8L574.1 159.0M570.9 159.0L574.1 155.8"/><path class="gm" d="M570.5 162.9L573.7 166.1M570.5 166.1L573.7 162.9"/><path class="gm" d="M571.2 158.2L574.4 161.4M571.2 161.4L574.4 158.2"/><path class="gm" d="M570.9 151.2L574.1 154.4M570.9 154.4L574.1 151.2"/><path class="gm" d="M571.9 160.2L575.1 163.4M571.9 163.4L575.1 160.2"/><path class="gm" d="M571.8 158.8L575.0 162.0M571.8 162.0L575.0 158.8"/><path class="gm" d="M572.3 158.5L575.5 161.7M572.3 161.7L575.5 158.5"/><path class="gm" d="M571.5 157.2L574.7 160.4M571.5 160.4L574.7 157.2"/><path class="gm" d="M571.4 155.6L574.6 158.8M571.4 158.8L574.6 155.6"/><path class="gm" d="M572.0 158.4L575.2 161.6M572.0 161.6L575.2 158.4"/><path class="gm" d="M571.8 157.5L575.0 160.7M571.8 160.7L575.0 157.5"/><path class="gm" d="M571.9 151.4L575.1 154.6M571.9 154.6L575.1 151.4"/><path class="gm" d="M572.5 155.5L575.7 158.7M572.5 158.7L575.7 155.5"/><path class="gm" d="M572.5 163.8L575.7 167.0M572.5 167.0L575.7 163.8"/><path class="gm" d="M572.3 154.0L575.5 157.2M572.3 157.2L575.5 154.0"/><path class="gm" d="M573.1 158.2L576.3 161.4M573.1 161.4L576.3 158.2"/><path class="gm" d="M572.3 157.6L575.5 160.8M572.3 160.8L575.5 157.6"/><path class="gm" d="M573.0 154.5L576.2 157.7M573.0 157.7L576.2 154.5"/><path class="gm" d="M572.8 147.3L576.0 150.5M572.8 150.5L576.0 147.3"/><path class="gm" d="M572.5 146.0L575.7 149.2M572.5 149.2L575.7 146.0"/><path class="gm" d="M573.8 149.6L577.0 152.8M573.8 152.8L577.0 149.6"/><path class="gm" d="M573.7 153.7L576.9 156.9M573.7 156.9L576.9 153.7"/><path class="gm" d="M573.6 158.2L576.8 161.4M573.6 161.4L576.8 158.2"/><path class="gm" d="M573.6 163.1L576.8 166.3M573.6 166.3L576.8 163.1"/><path class="gm" d="M573.4 148.6L576.6 151.8M573.4 151.8L576.6 148.6"/><path class="gm" d="M573.6 157.0L576.8 160.2M573.6 160.2L576.8 157.0"/><path class="gm" d="M573.8 151.9L577.0 155.1M573.8 155.1L577.0 151.9"/><path class="gm" d="M573.4 156.7L576.6 159.9M573.4 159.9L576.6 156.7"/><path class="gm" d="M574.0 149.3L577.2 152.5M574.0 152.5L577.2 149.3"/><path class="gm" d="M574.6 151.7L577.8 154.9M574.6 154.9L577.8 151.7"/><path class="gm" d="M574.3 152.9L577.5 156.1M574.3 156.1L577.5 152.9"/><path class="gm" d="M574.2 162.5L577.4 165.7M574.2 165.7L577.4 162.5"/><path class="gm" d="M574.9 155.8L578.1 159.0M574.9 159.0L578.1 155.8"/><path class="gm" d="M574.8 144.7L578.0 147.9M574.8 147.9L578.0 144.7"/><path class="gm" d="M574.8 158.6L578.0 161.8M574.8 161.8L578.0 158.6"/><path class="gm" d="M574.1 153.9L577.3 157.1M574.1 157.1L577.3 153.9"/><path class="gm" d="M576.1 154.3L579.3 157.5M576.1 157.5L579.3 154.3"/><path class="gm" d="M575.9 151.9L579.1 155.1M575.9 155.1L579.1 151.9"/><path class="gm" d="M576.1 158.4L579.3 161.6M576.1 161.6L579.3 158.4"/><path class="gm" d="M575.9 158.7L579.1 161.9M575.9 161.9L579.1 158.7"/><path class="gm" d="M575.1 159.5L578.3 162.7M575.1 162.7L578.3 159.5"/><path class="gm" d="M575.4 153.0L578.6 156.2M575.4 156.2L578.6 153.0"/><path class="gm" d="M575.7 155.4L578.9 158.6M575.7 158.6L578.9 155.4"/><path class="gm" d="M575.2 157.4L578.4 160.6M575.2 160.6L578.4 157.4"/><path class="gm" d="M576.7 151.0L579.9 154.2M576.7 154.2L579.9 151.0"/><path class="gm" d="M577.1 150.5L580.3 153.7M577.1 153.7L580.3 150.5"/><path class="gm" d="M576.8 154.2L580.0 157.4M576.8 157.4L580.0 154.2"/><path class="gm" d="M576.9 158.8L580.1 162.0M576.9 162.0L580.1 158.8"/><path class="gm" d="M577.2 151.2L580.4 154.4M577.2 154.4L580.4 151.2"/><path class="gm" d="M577.3 159.7L580.5 162.9M577.3 162.9L580.5 159.7"/><path class="gm" d="M577.2 154.4L580.4 157.6M577.2 157.6L580.4 154.4"/><path class="gm" d="M576.9 155.2L580.1 158.4M576.9 158.4L580.1 155.2"/><path class="gm" d="M578.0 138.9L581.2 142.1M578.0 142.1L581.2 138.9"/><path class="gm" d="M577.4 143.6L580.6 146.8M577.4 146.8L580.6 143.6"/><path class="gm" d="M577.9 154.3L581.1 157.5M577.9 157.5L581.1 154.3"/><path class="gm" d="M577.9 145.2L581.1 148.4M577.9 148.4L581.1 145.2"/><path class="gm" d="M577.9 153.1L581.1 156.3M577.9 156.3L581.1 153.1"/><path class="gm" d="M577.3 157.4L580.5 160.6M577.3 160.6L580.5 157.4"/><path class="gm" d="M577.5 155.1L580.7 158.3M577.5 158.3L580.7 155.1"/><path class="gm" d="M577.6 152.5L580.8 155.7M577.6 155.7L580.8 152.5"/><path class="gm" d="M578.8 153.0L582.0 156.2M578.8 156.2L582.0 153.0"/><path class="gm" d="M578.5 157.0L581.7 160.2M578.5 160.2L581.7 157.0"/><path class="gm" d="M578.6 160.5L581.8 163.7M578.6 163.7L581.8 160.5"/><path class="gm" d="M578.5 157.9L581.7 161.1M578.5 161.1L581.7 157.9"/><path class="gm" d="M578.8 157.6L582.0 160.8M578.8 160.8L582.0 157.6"/><path class="gm" d="M579.1 164.6L582.3 167.8M579.1 167.8L582.3 164.6"/><path class="gm" d="M578.8 157.3L582.0 160.5M578.8 160.5L582.0 157.3"/><path class="gm" d="M578.9 152.2L582.1 155.4M578.9 155.4L582.1 152.2"/><path class="gm" d="M579.7 161.0L582.9 164.2M579.7 164.2L582.9 161.0"/><path class="gm" d="M580.1 152.2L583.3 155.4M580.1 155.4L583.3 152.2"/><path class="gm" d="M579.4 154.9L582.6 158.1M579.4 158.1L582.6 154.9"/><path class="gm" d="M579.9 160.7L583.1 163.9M579.9 163.9L583.1 160.7"/><path class="gm" d="M580.0 159.2L583.2 162.4M580.0 162.4L583.2 159.2"/><path class="gm" d="M580.0 148.2L583.2 151.4M580.0 151.4L583.2 148.2"/><path class="gm" d="M580.1 148.6L583.3 151.8M580.1 151.8L583.3 148.6"/><path class="gm" d="M580.1 149.5L583.3 152.7M580.1 152.7L583.3 149.5"/><path class="gm" d="M580.5 156.7L583.7 159.9M580.5 159.9L583.7 156.7"/><path class="gm" d="M580.4 150.5L583.6 153.7M580.4 153.7L583.6 150.5"/><path class="gm" d="M580.4 154.0L583.6 157.2M580.4 157.2L583.6 154.0"/><path class="gm" d="M581.1 153.8L584.3 157.0M581.1 157.0L584.3 153.8"/><path class="gm" d="M580.8 151.7L584.0 154.9M580.8 154.9L584.0 151.7"/><path class="gm" d="M581.0 156.8L584.2 160.0M581.0 160.0L584.2 156.8"/><path class="gm" d="M580.7 160.1L583.9 163.3M580.7 163.3L583.9 160.1"/><path class="gm" d="M581.1 157.0L584.3 160.2M581.1 160.2L584.3 157.0"/><path class="gm" d="M581.3 158.2L584.5 161.4M581.3 161.4L584.5 158.2"/><path class="gm" d="M581.4 153.2L584.6 156.4M581.4 156.4L584.6 153.2"/><path class="gm" d="M581.3 149.2L584.5 152.4M581.3 152.4L584.5 149.2"/><path class="gm" d="M581.6 154.1L584.8 157.3M581.6 157.3L584.8 154.1"/><path class="gm" d="M581.3 158.0L584.5 161.2M581.3 161.2L584.5 158.0"/><path class="gm" d="M581.5 153.8L584.7 157.0M581.5 157.0L584.7 153.8"/><path class="gm" d="M581.5 157.3L584.7 160.5M581.5 160.5L584.7 157.3"/><path class="gm" d="M581.2 142.3L584.4 145.5M581.2 145.5L584.4 142.3"/><path class="gm" d="M583.4 150.6L586.6 153.8M583.4 153.8L586.6 150.6"/><path class="gm" d="M582.9 155.2L586.1 158.4M582.9 158.4L586.1 155.2"/><path class="gm" d="M582.7 154.3L585.9 157.5M582.7 157.5L585.9 154.3"/><path class="gm" d="M583.2 158.0L586.4 161.2M583.2 161.2L586.4 158.0"/><path class="gm" d="M583.2 157.1L586.4 160.3M583.2 160.3L586.4 157.1"/><path class="gm" d="M582.9 151.6L586.1 154.8M582.9 154.8L586.1 151.6"/><path class="gm" d="M583.3 157.7L586.5 160.9M583.3 160.9L586.5 157.7"/><path class="gm" d="M582.5 151.9L585.7 155.1M582.5 155.1L585.7 151.9"/><path class="gm" d="M583.6 153.9L586.8 157.1M583.6 157.1L586.8 153.9"/><path class="gm" d="M583.5 153.9L586.7 157.1M583.5 157.1L586.7 153.9"/><path class="gm" d="M583.8 155.9L587.0 159.1M583.8 159.1L587.0 155.9"/><path class="gm" d="M583.5 147.9L586.7 151.1M583.5 151.1L586.7 147.9"/><path class="gm" d="M583.6 151.2L586.8 154.4M583.6 154.4L586.8 151.2"/><path class="gm" d="M583.8 149.7L587.0 152.9M583.8 152.9L587.0 149.7"/><path class="gm" d="M583.7 158.1L586.9 161.3M583.7 161.3L586.9 158.1"/><path class="gm" d="M584.2 161.5L587.4 164.7M584.2 164.7L587.4 161.5"/><path class="gm" d="M584.3 159.7L587.5 162.9M584.3 162.9L587.5 159.7"/><path class="gm" d="M584.3 152.7L587.5 155.9M584.3 155.9L587.5 152.7"/><path class="gm" d="M584.8 154.5L588.0 157.7M584.8 157.7L588.0 154.5"/><path class="gm" d="M584.5 159.0L587.7 162.2M584.5 162.2L587.7 159.0"/><path class="gm" d="M584.3 152.4L587.5 155.6M584.3 155.6L587.5 152.4"/><path class="gm" d="M584.4 148.7L587.6 151.9M584.4 151.9L587.6 148.7"/><path class="gm" d="M585.0 154.6L588.2 157.8M585.0 157.8L588.2 154.6"/><path class="gm" d="M584.9 153.9L588.1 157.1M584.9 157.1L588.1 153.9"/><path class="gm" d="M585.7 153.2L588.9 156.4M585.7 156.4L588.9 153.2"/><path class="gm" d="M585.8 153.5L589.0 156.7M585.8 156.7L589.0 153.5"/><path class="gm" d="M585.2 160.5L588.4 163.7M585.2 163.7L588.4 160.5"/><path class="gm" d="M585.2 162.5L588.4 165.7M585.2 165.7L588.4 162.5"/><path class="gm" d="M585.0 155.0L588.2 158.2M585.0 158.2L588.2 155.0"/><path class="gm" d="M585.5 162.1L588.7 165.3M585.5 165.3L588.7 162.1"/><path class="gm" d="M585.6 149.3L588.8 152.5M585.6 152.5L588.8 149.3"/><path class="gm" d="M585.0 148.0L588.2 151.2M585.0 151.2L588.2 148.0"/><path class="gm" d="M585.9 153.9L589.1 157.1M585.9 157.1L589.1 153.9"/><path class="gm" d="M586.6 148.0L589.8 151.2M586.6 151.2L589.8 148.0"/><path class="gm" d="M586.8 156.3L590.0 159.5M586.8 159.5L590.0 156.3"/><path class="gm" d="M586.1 154.3L589.3 157.5M586.1 157.5L589.3 154.3"/><path class="gm" d="M586.6 161.4L589.8 164.6M586.6 164.6L589.8 161.4"/><path class="gm" d="M586.1 163.2L589.3 166.4M586.1 166.4L589.3 163.2"/><path class="gm" d="M586.4 153.1L589.6 156.3M586.4 156.3L589.6 153.1"/><path class="gm" d="M586.3 159.6L589.5 162.8M586.3 162.8L589.5 159.6"/><path class="gm" d="M586.8 150.7L590.0 153.9M586.8 153.9L590.0 150.7"/><path class="gm" d="M587.3 153.7L590.5 156.9M587.3 156.9L590.5 153.7"/><path class="gm" d="M587.0 148.5L590.2 151.7M587.0 151.7L590.2 148.5"/><path class="gm" d="M587.3 147.4L590.5 150.6M587.3 150.6L590.5 147.4"/><path class="gm" d="M586.9 159.3L590.1 162.5M586.9 162.5L590.1 159.3"/><path class="gm" d="M587.6 157.5L590.8 160.7M587.6 160.7L590.8 157.5"/><path class="gm" d="M587.0 148.2L590.2 151.4M587.0 151.4L590.2 148.2"/><path class="gm" d="M587.0 149.2L590.2 152.4M587.0 152.4L590.2 149.2"/><path class="gm" d="M588.2 160.5L591.4 163.7M588.2 163.7L591.4 160.5"/><path class="gm" d="M588.1 153.1L591.3 156.3M588.1 156.3L591.3 153.1"/><path class="gm" d="M587.6 154.0L590.8 157.2M587.6 157.2L590.8 154.0"/><path class="gm" d="M587.6 152.5L590.8 155.7M587.6 155.7L590.8 152.5"/><path class="gm" d="M588.3 150.1L591.5 153.3M588.3 153.3L591.5 150.1"/><path class="gm" d="M587.7 152.5L590.9 155.7M587.7 155.7L590.9 152.5"/><path class="gm" d="M587.5 162.1L590.7 165.3M587.5 165.3L590.7 162.1"/><path class="gm" d="M587.7 155.3L590.9 158.5M587.7 158.5L590.9 155.3"/><path class="gm" d="M588.9 157.7L592.1 160.9M588.9 160.9L592.1 157.7"/><path class="gm" d="M589.3 158.3L592.5 161.5M589.3 161.5L592.5 158.3"/><path class="gm" d="M588.9 160.5L592.1 163.7M588.9 163.7L592.1 160.5"/><path class="gm" d="M588.5 159.6L591.7 162.8M588.5 162.8L591.7 159.6"/><path class="gm" d="M588.4 162.0L591.6 165.2M588.4 165.2L591.6 162.0"/><path class="gm" d="M589.1 160.2L592.3 163.4M589.1 163.4L592.3 160.2"/><path class="gm" d="M589.4 150.7L592.6 153.9M589.4 153.9L592.6 150.7"/><path class="gm" d="M588.8 160.2L592.0 163.4M588.8 163.4L592.0 160.2"/><path class="gm" d="M589.5 161.4L592.7 164.6M589.5 164.6L592.7 161.4"/><path class="gm" d="M590.4 160.6L593.6 163.8M590.4 163.8L593.6 160.6"/><path class="gm" d="M589.7 146.5L592.9 149.7M589.7 149.7L592.9 146.5"/><path class="gm" d="M589.8 157.0L593.0 160.2M589.8 160.2L593.0 157.0"/><path class="gm" d="M590.1 152.5L593.3 155.7M590.1 155.7L593.3 152.5"/><path class="gm" d="M589.8 161.6L593.0 164.8M589.8 164.8L593.0 161.6"/><path class="gm" d="M589.9 142.7L593.1 145.9M589.9 145.9L593.1 142.7"/><path class="gm" d="M590.0 159.3L593.2 162.5M590.0 162.5L593.2 159.3"/><path class="gm" d="M590.7 157.9L593.9 161.1M590.7 161.1L593.9 157.9"/><path class="gm" d="M590.4 159.8L593.6 163.0M590.4 163.0L593.6 159.8"/><path class="gm" d="M590.4 159.4L593.6 162.6M590.4 162.6L593.6 159.4"/><path class="gm" d="M591.2 157.1L594.4 160.3M591.2 160.3L594.4 157.1"/><path class="gm" d="M590.4 157.2L593.6 160.4M590.4 160.4L593.6 157.2"/><path class="gm" d="M591.2 167.9L594.4 171.1M591.2 171.1L594.4 167.9"/><path class="gm" d="M590.6 152.6L593.8 155.8M590.6 155.8L593.8 152.6"/><path class="gm" d="M591.0 150.5L594.2 153.7M591.0 153.7L594.2 150.5"/><path class="gm" d="M592.2 154.0L595.4 157.2M592.2 157.2L595.4 154.0"/><path class="gm" d="M592.2 158.6L595.4 161.8M592.2 161.8L595.4 158.6"/><path class="gm" d="M592.2 154.8L595.4 158.0M592.2 158.0L595.4 154.8"/><path class="gm" d="M591.9 153.0L595.1 156.2M591.9 156.2L595.1 153.0"/><path class="gm" d="M591.6 147.0L594.8 150.2M591.6 150.2L594.8 147.0"/><path class="gm" d="M592.0 145.7L595.2 148.9M592.0 148.9L595.2 145.7"/><path class="gm" d="M592.2 151.1L595.4 154.3M592.2 154.3L595.4 151.1"/><path class="gm" d="M592.3 156.0L595.5 159.2M592.3 159.2L595.5 156.0"/><path class="gm" d="M593.1 155.4L596.3 158.6M593.1 158.6L596.3 155.4"/><path class="gm" d="M593.5 152.6L596.7 155.8M593.5 155.8L596.7 152.6"/><path class="gm" d="M593.1 153.3L596.3 156.5M593.1 156.5L596.3 153.3"/><path class="gm" d="M593.5 159.1L596.7 162.3M593.5 162.3L596.7 159.1"/><path class="gm" d="M593.1 163.0L596.3 166.2M593.1 166.2L596.3 163.0"/><path class="gm" d="M593.0 148.6L596.2 151.8M593.0 151.8L596.2 148.6"/><path class="gm" d="M593.2 156.7L596.4 159.9M593.2 159.9L596.4 156.7"/><path class="gm" d="M592.9 148.8L596.1 152.0M592.9 152.0L596.1 148.8"/><path class="gm" d="M593.8 157.1L597.0 160.3M593.8 160.3L597.0 157.1"/><path class="gm" d="M594.5 148.2L597.7 151.4M594.5 151.4L597.7 148.2"/><path class="gm" d="M593.9 155.2L597.1 158.4M593.9 158.4L597.1 155.2"/><path class="gm" d="M594.4 161.0L597.6 164.2M594.4 164.2L597.6 161.0"/><path class="gm" d="M593.9 158.1L597.1 161.3M593.9 161.3L597.1 158.1"/><path class="gm" d="M593.6 161.3L596.8 164.5M593.6 164.5L596.8 161.3"/><path class="gm" d="M594.3 149.5L597.5 152.7M594.3 152.7L597.5 149.5"/><path class="gm" d="M594.4 152.6L597.6 155.8M594.4 155.8L597.6 152.6"/><path class="gm" d="M595.2 154.7L598.4 157.9M595.2 157.9L598.4 154.7"/><path class="gm" d="M595.1 160.2L598.3 163.4M595.1 163.4L598.3 160.2"/><path class="gm" d="M595.2 149.6L598.4 152.8M595.2 152.8L598.4 149.6"/><path class="gm" d="M595.6 154.7L598.8 157.9M595.6 157.9L598.8 154.7"/><path class="gm" d="M595.0 151.1L598.2 154.3M595.0 154.3L598.2 151.1"/><path class="gm" d="M595.0 153.7L598.2 156.9M595.0 156.9L598.2 153.7"/><path class="gm" d="M595.2 156.9L598.4 160.1M595.2 160.1L598.4 156.9"/><path class="gm" d="M594.7 161.8L597.9 165.0M594.7 165.0L597.9 161.8"/><path class="gm" d="M596.3 160.1L599.5 163.3M596.3 163.3L599.5 160.1"/><path class="gm" d="M596.3 155.7L599.5 158.9M596.3 158.9L599.5 155.7"/><path class="gm" d="M596.2 161.3L599.4 164.5M596.2 164.5L599.4 161.3"/><path class="gm" d="M596.2 163.0L599.4 166.2M596.2 166.2L599.4 163.0"/><path class="gm" d="M596.4 158.9L599.6 162.1M596.4 162.1L599.6 158.9"/><path class="gm" d="M596.4 154.4L599.6 157.6M596.4 157.6L599.6 154.4"/><path class="gm" d="M596.5 160.8L599.7 164.0M596.5 164.0L599.7 160.8"/><path class="gm" d="M596.3 152.6L599.5 155.8M596.3 155.8L599.5 152.6"/><path class="gm" d="M598.1 153.5L601.3 156.7M598.1 156.7L601.3 153.5"/><path class="gm" d="M597.7 157.5L600.9 160.7M597.7 160.7L600.9 157.5"/><path class="gm" d="M598.0 155.1L601.2 158.3M598.0 158.3L601.2 155.1"/><path class="gm" d="M597.2 159.6L600.4 162.8M597.2 162.8L600.4 159.6"/><path class="gm" d="M597.6 158.3L600.8 161.5M597.6 161.5L600.8 158.3"/><path class="gm" d="M597.3 149.9L600.5 153.1M597.3 153.1L600.5 149.9"/><path class="gm" d="M597.3 162.9L600.5 166.1M597.3 166.1L600.5 162.9"/><path class="gm" d="M597.4 162.1L600.6 165.3M597.4 165.3L600.6 162.1"/><path class="gm" d="M598.7 163.7L601.9 166.9M598.7 166.9L601.9 163.7"/><path class="gm" d="M598.3 151.6L601.5 154.8M598.3 154.8L601.5 151.6"/><path class="gm" d="M598.8 156.5L602.0 159.7M598.8 159.7L602.0 156.5"/><path class="gm" d="M598.3 155.3L601.5 158.5M598.3 158.5L601.5 155.3"/><path class="gm" d="M598.8 154.8L602.0 158.0M598.8 158.0L602.0 154.8"/><path class="gm" d="M598.4 151.5L601.6 154.7M598.4 154.7L601.6 151.5"/><path class="gm" d="M598.6 156.6L601.8 159.8M598.6 159.8L601.8 156.6"/><path class="gm" d="M598.3 159.9L601.5 163.1M598.3 163.1L601.5 159.9"/><path class="gm" d="M599.9 153.8L603.1 157.0M599.9 157.0L603.1 153.8"/><path class="gm" d="M599.1 148.8L602.3 152.0M599.1 152.0L602.3 148.8"/><path class="gm" d="M599.7 162.4L602.9 165.6M599.7 165.6L602.9 162.4"/><path class="gm" d="M599.8 154.8L603.0 158.0M599.8 158.0L603.0 154.8"/><path class="gm" d="M600.0 152.1L603.2 155.3M600.0 155.3L603.2 152.1"/><path class="gm" d="M599.9 158.4L603.1 161.6M599.9 161.6L603.1 158.4"/><path class="gm" d="M599.2 155.0L602.4 158.2M599.2 158.2L602.4 155.0"/><path class="gm" d="M599.9 155.9L603.1 159.1M599.9 159.1L603.1 155.9"/><path class="gm" d="M600.8 159.6L604.0 162.8M600.8 162.8L604.0 159.6"/><path class="gm" d="M600.9 147.1L604.1 150.3M600.9 150.3L604.1 147.1"/><path class="gm" d="M601.1 163.4L604.3 166.6M601.1 166.6L604.3 163.4"/><path class="gm" d="M600.7 159.4L603.9 162.6M600.7 162.6L603.9 159.4"/><path class="gm" d="M600.7 167.2L603.9 170.4M600.7 170.4L603.9 167.2"/><path class="gm" d="M600.8 161.0L604.0 164.2M600.8 164.2L604.0 161.0"/><path class="gm" d="M600.4 156.5L603.6 159.7M600.4 159.7L603.6 156.5"/><path class="gm" d="M600.7 149.5L603.9 152.7M600.7 152.7L603.9 149.5"/><path class="gm" d="M601.8 150.2L605.0 153.4M601.8 153.4L605.0 150.2"/><path class="gm" d="M602.0 163.4L605.2 166.6M602.0 166.6L605.2 163.4"/><path class="gm" d="M601.7 152.4L604.9 155.6M601.7 155.6L604.9 152.4"/><path class="gm" d="M601.6 160.4L604.8 163.6M601.6 163.6L604.8 160.4"/><path class="gm" d="M601.8 156.6L605.0 159.8M601.8 159.8L605.0 156.6"/><path class="gm" d="M601.5 165.7L604.7 168.9M601.5 168.9L604.7 165.7"/><path class="gm" d="M602.2 149.9L605.4 153.1M602.2 153.1L605.4 149.9"/><path class="gm" d="M602.2 160.0L605.4 163.2M602.2 163.2L605.4 160.0"/><path class="gm" d="M602.7 150.3L605.9 153.5M602.7 153.5L605.9 150.3"/><path class="gm" d="M602.7 157.8L605.9 161.0M602.7 161.0L605.9 157.8"/><path class="gm" d="M602.3 153.9L605.5 157.1M602.3 157.1L605.5 153.9"/><path class="gm" d="M602.5 154.7L605.7 157.9M602.5 157.9L605.7 154.7"/><path class="gm" d="M602.6 151.7L605.8 154.9M602.6 154.9L605.8 151.7"/><path class="gm" d="M603.0 153.5L606.2 156.7M603.0 156.7L606.2 153.5"/><path class="gm" d="M602.7 153.9L605.9 157.1M602.7 157.1L605.9 153.9"/><path class="gm" d="M603.1 148.5L606.3 151.7M603.1 151.7L606.3 148.5"/><path class="gm" d="M604.0 157.6L607.2 160.8M604.0 160.8L607.2 157.6"/><path class="gm" d="M603.8 148.0L607.0 151.2M603.8 151.2L607.0 148.0"/><path class="gm" d="M604.1 158.5L607.3 161.7M604.1 161.7L607.3 158.5"/><path class="gm" d="M603.8 157.0L607.0 160.2M603.8 160.2L607.0 157.0"/><path class="gm" d="M603.4 151.2L606.6 154.4M603.4 154.4L606.6 151.2"/><path class="gm" d="M603.8 165.4L607.0 168.6M603.8 168.6L607.0 165.4"/><path class="gm" d="M603.7 156.0L606.9 159.2M603.7 159.2L606.9 156.0"/><path class="gm" d="M603.6 155.6L606.8 158.8M603.6 158.8L606.8 155.6"/><path class="gm" d="M604.9 151.9L608.1 155.1M604.9 155.1L608.1 151.9"/><path class="gm" d="M605.0 152.4L608.2 155.6M605.0 155.6L608.2 152.4"/><path class="gm" d="M604.3 153.4L607.5 156.6M604.3 156.6L607.5 153.4"/><path class="gm" d="M604.6 152.8L607.8 156.0M604.6 156.0L607.8 152.8"/><path class="gm" d="M604.3 159.1L607.5 162.3M604.3 162.3L607.5 159.1"/><path class="gm" d="M604.5 155.4L607.7 158.6M604.5 158.6L607.7 155.4"/><path class="gm" d="M604.5 154.0L607.7 157.2M604.5 157.2L607.7 154.0"/><path class="gm" d="M604.5 158.5L607.7 161.7M604.5 161.7L607.7 158.5"/><path class="gm" d="M605.4 152.0L608.6 155.2M605.4 155.2L608.6 152.0"/><path class="gm" d="M605.8 159.2L609.0 162.4M605.8 162.4L609.0 159.2"/><path class="gm" d="M606.0 153.6L609.2 156.8M606.0 156.8L609.2 153.6"/><path class="gm" d="M605.8 155.5L609.0 158.7M605.8 158.7L609.0 155.5"/><path class="gm" d="M605.2 151.9L608.4 155.1M605.2 155.1L608.4 151.9"/><path class="gm" d="M605.3 153.1L608.5 156.3M605.3 156.3L608.5 153.1"/><path class="gm" d="M605.9 156.2L609.1 159.4M605.9 159.4L609.1 156.2"/><path class="gm" d="M605.3 156.6L608.5 159.8M605.3 159.8L608.5 156.6"/><path class="gm" d="M606.7 149.2L609.9 152.4M606.7 152.4L609.9 149.2"/><path class="gm" d="M606.4 149.3L609.6 152.5M606.4 152.5L609.6 149.3"/><path class="gm" d="M606.3 161.0L609.5 164.2M606.3 164.2L609.5 161.0"/><path class="gm" d="M606.9 156.8L610.1 160.0M606.9 160.0L610.1 156.8"/><path class="gm" d="M607.2 158.7L610.4 161.9M607.2 161.9L610.4 158.7"/><path class="gm" d="M606.9 149.8L610.1 153.0M606.9 153.0L610.1 149.8"/><path class="gm" d="M606.7 156.0L609.9 159.2M606.7 159.2L609.9 156.0"/><path class="gm" d="M606.7 158.8L609.9 162.0M606.7 162.0L609.9 158.8"/><path class="gm" d="M607.9 152.1L611.1 155.3M607.9 155.3L611.1 152.1"/><path class="gm" d="M607.8 160.1L611.0 163.3M607.8 163.3L611.0 160.1"/><path class="gm" d="M608.1 149.3L611.3 152.5M608.1 152.5L611.3 149.3"/><path class="gm" d="M607.8 165.3L611.0 168.5M607.8 168.5L611.0 165.3"/><path class="gm" d="M607.5 152.3L610.7 155.5M607.5 155.5L610.7 152.3"/><path class="gm" d="M607.5 156.3L610.7 159.5M607.5 159.5L610.7 156.3"/><path class="gm" d="M607.4 163.9L610.6 167.1M607.4 167.1L610.6 163.9"/><path class="gm" d="M608.3 151.4L611.5 154.6M608.3 154.6L611.5 151.4"/><path class="gm" d="M608.3 147.7L611.5 150.9M608.3 150.9L611.5 147.7"/><path class="gm" d="M609.0 157.6L612.2 160.8M609.0 160.8L612.2 157.6"/><path class="gm" d="M608.4 155.8L611.6 159.0M608.4 159.0L611.6 155.8"/><path class="gm" d="M608.5 153.5L611.7 156.7M608.5 156.7L611.7 153.5"/><path class="gm" d="M608.2 146.1L611.4 149.3M608.2 149.3L611.4 146.1"/><path class="gm" d="M608.5 161.5L611.7 164.7M608.5 164.7L611.7 161.5"/><path class="gm" d="M608.3 153.0L611.5 156.2M608.3 156.2L611.5 153.0"/><path class="gm" d="M608.7 155.7L611.9 158.9M608.7 158.9L611.9 155.7"/><path class="gm" d="M609.7 155.7L612.9 158.9M609.7 158.9L612.9 155.7"/><path class="gm" d="M609.6 156.0L612.8 159.2M609.6 159.2L612.8 156.0"/><path class="gm" d="M609.5 150.2L612.7 153.4M609.5 153.4L612.7 150.2"/><path class="gm" d="M610.1 148.4L613.3 151.6M610.1 151.6L613.3 148.4"/><path class="gm" d="M609.9 153.1L613.1 156.3M609.9 156.3L613.1 153.1"/><path class="gm" d="M609.3 156.4L612.5 159.6M609.3 159.6L612.5 156.4"/><path class="gm" d="M609.8 157.9L613.0 161.1M609.8 161.1L613.0 157.9"/><path class="gm" d="M609.2 154.3L612.4 157.5M609.2 157.5L612.4 154.3"/><path class="gm" d="M611.1 156.6L614.3 159.8M611.1 159.8L614.3 156.6"/><path class="gm" d="M611.0 162.8L614.2 166.0M611.0 166.0L614.2 162.8"/><path class="gm" d="M611.1 154.4L614.3 157.6M611.1 157.6L614.3 154.4"/><path class="gm" d="M610.9 152.7L614.1 155.9M610.9 155.9L614.1 152.7"/><path class="gm" d="M611.0 153.6L614.2 156.8M611.0 156.8L614.2 153.6"/><path class="gm" d="M610.5 156.6L613.7 159.8M610.5 159.8L613.7 156.6"/><path class="gm" d="M610.3 163.0L613.5 166.2M610.3 166.2L613.5 163.0"/><path class="gm" d="M610.9 149.4L614.1 152.6M610.9 152.6L614.1 149.4"/><path class="gm" d="M611.2 153.2L614.4 156.4M611.2 156.4L614.4 153.2"/><path class="gm" d="M612.0 160.1L615.2 163.3M612.0 163.3L615.2 160.1"/><path class="gm" d="M611.8 158.3L615.0 161.5M611.8 161.5L615.0 158.3"/><path class="gm" d="M611.8 162.3L615.0 165.5M611.8 165.5L615.0 162.3"/><path class="gm" d="M611.4 150.0L614.6 153.2M611.4 153.2L614.6 150.0"/><path class="gm" d="M611.4 148.4L614.6 151.6M611.4 151.6L614.6 148.4"/><path class="gm" d="M611.7 154.4L614.9 157.6M611.7 157.6L614.9 154.4"/><path class="gm" d="M611.4 155.2L614.6 158.4M611.4 158.4L614.6 155.2"/><path class="gm" d="M612.0 147.7L615.2 150.9M612.0 150.9L615.2 147.7"/><path class="gm" d="M612.4 145.0L615.6 148.2M612.4 148.2L615.6 145.0"/><path class="gm" d="M612.0 160.5L615.2 163.7M612.0 163.7L615.2 160.5"/><path class="gm" d="M612.8 151.7L616.0 154.9M612.8 154.9L616.0 151.7"/><path class="gm" d="M611.9 151.4L615.1 154.6M611.9 154.6L615.1 151.4"/><path class="gm" d="M612.4 149.8L615.6 153.0M612.4 153.0L615.6 149.8"/><path class="gm" d="M612.2 155.8L615.4 159.0M612.2 159.0L615.4 155.8"/><path class="gm" d="M612.5 157.3L615.7 160.5M612.5 160.5L615.7 157.3"/><path class="be" d="M497.2 122.9V135.1"/><path class="be" d="M497.4 146.5V154.8"/><path class="be" d="M497.5 119.4V127.5"/><path class="be" d="M497.1 130.3V141.4"/><path class="be" d="M497.3 123.0V132.4"/><path class="be" d="M497.3 119.4V129.7"/><path class="be" d="M497.5 132.8V144.8"/><path class="be" d="M497.5 136.7V145.2"/><path class="be" d="M497.4 151.3V161.4"/><path class="be" d="M497.3 132.1V143.9"/><path class="be" d="M497.0 156.6V165.0"/><path class="be" d="M497.5 155.7V166.4"/><path class="be" d="M497.3 119.0V171.0"/><path class="be" d="M549.3 171.9V184.0"/><path class="be" d="M549.3 177.9V188.8"/><path class="be" d="M549.2 148.3V155.0"/><path class="be" d="M549.5 154.2V162.9"/><path class="be" d="M549.5 182.4V192.9"/><path class="be" d="M549.4 138.7V150.3"/><path class="be" d="M549.5 175.0V183.8"/><path class="be" d="M549.4 161.2V173.4"/><path class="be" d="M549.4 175.1V188.0"/><path class="be" d="M549.4 161.0V172.6"/><path class="be" d="M549.4 140.0V193.5"/><path class="be" d="M592.0 166.4V179.8"/><path class="be" d="M592.2 161.2V168.1"/><path class="be" d="M591.7 159.5V165.7"/><path class="be" d="M592.1 163.2V175.5"/><path class="be" d="M592.0 152.2V160.1"/><path class="be" d="M591.7 165.7V176.7"/><path class="be" d="M592.2 146.9V153.5"/><path class="be" d="M592.0 162.7V176.1"/><path class="be" d="M592.0 140.0V178.0"/><path class="be" d="M518.9 178.7V185.1"/><path class="be" d="M518.9 177.5V186.6"/><path class="be" d="M525.4 173.9V186.8"/><path class="be" d="M525.4 176.7V185.1"/><path class="be" d="M541.0 173.8V180.5"/><path class="be" d="M541.2 173.1V182.9"/><path class="be" d="M569.9 142.8V156.0"/><path class="be" d="M582.7 165.5V172.5"/><path class="be" d="M574.7 154.4V163.5"/><path class="be" d="M600.8 150.1V159.2"/><path class="be" d="M603.9 154.8V168.8"/><path class="be" d="M604.1 159.0V169.7"/><path class="be" d="M530.2 162.3V172.1"/><path class="be" d="M560.0 146.0V157.4"/><path class="be" d="M588.3 170.1V177.9"/><path class="be" d="M537.0 177.0V187.0"/><path class="bm" d="M495.6 127.4L498.8 130.6M495.6 130.6L498.8 127.4"/><path class="bm" d="M495.8 149.1L499.0 152.3M495.8 152.3L499.0 149.1"/><path class="bm" d="M495.9 121.8L499.1 125.0M495.9 125.0L499.1 121.8"/><path class="bm" d="M495.5 134.3L498.7 137.5M495.5 137.5L498.7 134.3"/><path class="bm" d="M495.7 126.1L498.9 129.3M495.7 129.3L498.9 126.1"/><path class="bm" d="M495.7 122.9L498.9 126.1M495.7 126.1L498.9 122.9"/><path class="bm" d="M495.9 137.2L499.1 140.4M495.9 140.4L499.1 137.2"/><path class="bm" d="M495.9 139.3L499.1 142.5M495.9 142.5L499.1 139.3"/><path class="bm" d="M495.8 154.8L499.0 158.0M495.8 158.0L499.0 154.8"/><path class="bm" d="M495.7 136.4L498.9 139.6M495.7 139.6L498.9 136.4"/><path class="bm" d="M495.4 159.2L498.6 162.4M495.4 162.4L498.6 159.2"/><path class="bm" d="M495.9 159.5L499.1 162.7M495.9 162.7L499.1 159.5"/><path class="bm" d="M495.7 143.4L498.9 146.6M495.7 146.6L498.9 143.4"/><path class="bm" d="M547.7 176.4L550.9 179.6M547.7 179.6L550.9 176.4"/><path class="bm" d="M547.7 181.7L550.9 184.9M547.7 184.9L550.9 181.7"/><path class="bm" d="M547.6 150.0L550.8 153.2M547.6 153.2L550.8 150.0"/><path class="bm" d="M547.9 157.0L551.1 160.2M547.9 160.2L551.1 157.0"/><path class="bm" d="M547.9 186.1L551.1 189.3M547.9 189.3L551.1 186.1"/><path class="bm" d="M547.8 142.9L551.0 146.1M547.8 146.1L551.0 142.9"/><path class="bm" d="M547.9 177.8L551.1 181.0M547.9 181.0L551.1 177.8"/><path class="bm" d="M547.8 165.7L551.0 168.9M547.8 168.9L551.0 165.7"/><path class="bm" d="M547.8 179.9L551.0 183.1M547.8 183.1L551.0 179.9"/><path class="bm" d="M547.8 165.2L551.0 168.4M547.8 168.4L551.0 165.2"/><path class="bm" d="M547.8 165.2L551.0 168.3M547.8 168.3L551.0 165.2"/><path class="bm" d="M590.4 171.5L593.6 174.7M590.4 174.7L593.6 171.5"/><path class="bm" d="M590.6 163.0L593.8 166.2M590.6 166.2L593.8 163.0"/><path class="bm" d="M590.1 161.0L593.3 164.2M590.1 164.2L593.3 161.0"/><path class="bm" d="M590.5 167.8L593.7 171.0M590.5 171.0L593.7 167.8"/><path class="bm" d="M590.4 154.5L593.6 157.7M590.4 157.7L593.6 154.5"/><path class="bm" d="M590.1 169.6L593.3 172.8M590.1 172.8L593.3 169.6"/><path class="bm" d="M590.6 148.6L593.8 151.8M590.6 151.8L593.8 148.6"/><path class="bm" d="M590.4 167.8L593.6 171.0M590.4 171.0L593.6 167.8"/><path class="bm" d="M590.4 157.4L593.6 160.6M590.4 160.6L593.6 157.4"/><path class="bm" d="M517.3 180.3L520.5 183.5M517.3 183.5L520.5 180.3"/><path class="bm" d="M517.3 180.5L520.5 183.7M517.3 183.7L520.5 180.5"/><path class="bm" d="M523.8 178.8L527.0 182.0M523.8 182.0L527.0 178.8"/><path class="bm" d="M523.8 179.3L527.0 182.5M523.8 182.5L527.0 179.3"/><path class="bm" d="M539.4 175.6L542.6 178.8M539.4 178.8L542.6 175.6"/><path class="bm" d="M539.6 176.4L542.8 179.6M539.6 179.6L542.8 176.4"/><path class="bm" d="M568.3 147.8L571.5 151.0M568.3 151.0L571.5 147.8"/><path class="bm" d="M581.1 167.4L584.3 170.6M581.1 170.6L584.3 167.4"/><path class="bm" d="M573.1 157.4L576.3 160.6M573.1 160.6L576.3 157.4"/><path class="bm" d="M599.2 153.0L602.4 156.2M599.2 156.2L602.4 153.0"/><path class="bm" d="M602.3 160.2L605.5 163.4M602.3 163.4L605.5 160.2"/><path class="bm" d="M602.5 162.7L605.7 165.9M602.5 165.9L605.7 162.7"/><path class="bm" d="M528.6 165.6L531.8 168.8M528.6 168.8L531.8 165.6"/><path class="bm" d="M558.4 150.1L561.6 153.3M558.4 153.3L561.6 150.1"/><path class="bm" d="M586.7 172.4L589.9 175.6M586.7 175.6L589.9 172.4"/><path class="bm" d="M535.4 180.4L538.6 183.6M535.4 183.6L538.6 180.4"/></g>
<g clip-path="url(#c2)"><path class="ge" d="M494.4 237.9V265.9"/><path class="ge" d="M494.4 244.3V268.3"/><path class="ge" d="M500.6 248.5V274.5"/><path class="ge" d="M514.0 216.3V241.3"/><path class="ge" d="M514.0 227.2V251.2"/><path class="ge" d="M516.6 226.7V257.7"/><path class="ge" d="M519.2 228.8V266.0"/><path class="ge" d="M522.2 220.2V264.2"/><path class="ge" d="M526.0 231.8V257.0"/><path class="ge" d="M528.5 219.3V247.3"/><path class="ge" d="M532.6 214.6V244.6"/><path class="ge" d="M537.1 223.7V257.7"/><path class="ge" d="M537.2 228.1V273.5"/><path class="ge" d="M541.3 228.4V265.6"/><path class="ge" d="M544.2 236.0V266.0"/><path class="ge" d="M546.9 236.0V264.0"/><path class="ge" d="M552.1 252.6V285.4"/><path class="ge" d="M555.1 243.0V273.0"/><path class="ge" d="M558.1 253.4V284.6"/><path class="ge" d="M561.0 238.0V262.0"/><path class="ge" d="M564.0 254.1V286.9"/><path class="ge" d="M567.0 229.0V257.0"/><path class="ge" d="M570.0 272.7V295.1"/><path class="ge" d="M572.2 253.6V280.4"/><path class="ge" d="M575.2 254.8V280.2"/><path class="ge" d="M578.2 256.3V278.7"/><path class="ge" d="M581.1 237.0V267.0"/><path class="ge" d="M583.3 221.0V251.6"/><path class="ge" d="M586.3 215.8V241.8"/><path class="ge" d="M586.3 231.5V251.5"/><path class="ge" d="M589.2 232.4V256.4"/><path class="ge" d="M594.6 230.0V256.0"/><path class="ge" d="M594.6 243.0V268.2"/><path class="ge" d="M597.6 239.0V263.0"/><path class="ge" d="M600.8 235.0V263.0"/><path class="ge" d="M603.1 234.8V261.6"/><path class="ge" d="M606.0 241.8V270.8"/><path class="ge" d="M609.0 217.6V250.4"/><path class="ge" d="M612.4 236.9V265.3"/><path class="gm" d="M492.4 249.9L496.4 253.9M492.4 253.9L496.4 249.9"/><path class="gm" d="M492.4 254.3L496.4 258.3M492.4 258.3L496.4 254.3"/><path class="gm" d="M498.6 259.5L502.6 263.5M498.6 263.5L502.6 259.5"/><path class="gm" d="M512.0 226.8L516.0 230.8M512.0 230.8L516.0 226.8"/><path class="gm" d="M512.0 237.2L516.0 241.2M512.0 241.2L516.0 237.2"/><path class="gm" d="M514.6 240.2L518.6 244.2M514.6 244.2L518.6 240.2"/><path class="gm" d="M517.2 245.4L521.2 249.4M517.2 249.4L521.2 245.4"/><path class="gm" d="M520.2 240.2L524.2 244.2M520.2 244.2L524.2 240.2"/><path class="gm" d="M524.0 242.4L528.0 246.4M524.0 246.4L528.0 242.4"/><path class="gm" d="M526.5 231.3L530.5 235.3M526.5 235.3L530.5 231.3"/><path class="gm" d="M530.6 227.6L534.6 231.6M530.6 231.6L534.6 227.6"/><path class="gm" d="M535.1 238.7L539.1 242.7M535.1 242.7L539.1 238.7"/><path class="gm" d="M535.2 248.8L539.2 252.8M535.2 252.8L539.2 248.8"/><path class="gm" d="M539.3 245.0L543.3 249.0M539.3 249.0L543.3 245.0"/><path class="gm" d="M542.2 249.0L546.2 253.0M542.2 253.0L546.2 249.0"/><path class="gm" d="M544.9 248.0L548.9 252.0M544.9 252.0L548.9 248.0"/><path class="gm" d="M550.1 267.0L554.1 271.0M550.1 271.0L554.1 267.0"/><path class="gm" d="M553.1 256.0L557.1 260.0M553.1 260.0L557.1 256.0"/><path class="gm" d="M556.1 267.0L560.1 271.0M556.1 271.0L560.1 267.0"/><path class="gm" d="M559.0 248.0L563.0 252.0M559.0 252.0L563.0 248.0"/><path class="gm" d="M562.0 268.5L566.0 272.5M562.0 272.5L566.0 268.5"/><path class="gm" d="M565.0 241.0L569.0 245.0M565.0 245.0L569.0 241.0"/><path class="gm" d="M568.0 281.9L572.0 285.9M568.0 285.9L572.0 281.9"/><path class="gm" d="M570.2 265.0L574.2 269.0M570.2 269.0L574.2 265.0"/><path class="gm" d="M573.2 265.5L577.2 269.5M573.2 269.5L577.2 265.5"/><path class="gm" d="M576.2 265.5L580.2 269.5M576.2 269.5L580.2 265.5"/><path class="gm" d="M579.1 250.0L583.1 254.0M579.1 254.0L583.1 250.0"/><path class="gm" d="M581.3 234.3L585.3 238.3M581.3 238.3L585.3 234.3"/><path class="gm" d="M584.3 226.8L588.3 230.8M584.3 230.8L588.3 226.8"/><path class="gm" d="M584.3 239.5L588.3 243.5M584.3 243.5L588.3 239.5"/><path class="gm" d="M587.2 242.4L591.2 246.4M587.2 246.4L591.2 242.4"/><path class="gm" d="M592.6 241.0L596.6 245.0M592.6 245.0L596.6 241.0"/><path class="gm" d="M592.6 253.6L596.6 257.6M592.6 257.6L596.6 253.6"/><path class="gm" d="M595.6 249.0L599.6 253.0M595.6 253.0L599.6 249.0"/><path class="gm" d="M598.8 247.0L602.8 251.0M598.8 251.0L602.8 247.0"/><path class="gm" d="M601.1 246.2L605.1 250.2M601.1 250.2L605.1 246.2"/><path class="gm" d="M604.0 254.3L608.0 258.3M604.0 258.3L608.0 254.3"/><path class="gm" d="M607.0 232.0L611.0 236.0M607.0 236.0L611.0 232.0"/><path class="gm" d="M610.4 249.1L614.4 253.1M610.4 253.1L614.4 249.1"/><path class="be" d="M497.2 244.6V251.8"/><path class="be" d="M514.5 243.5V249.9"/><path class="be" d="M516.6 248.5V253.7"/><path class="be" d="M519.2 252.6V260.0"/><path class="be" d="M522.2 241.6V248.8"/><path class="be" d="M526.0 253.7V260.5"/><path class="be" d="M528.5 241.9V248.5"/><path class="be" d="M532.6 237.4V244.0"/><path class="be" d="M537.1 241.0V246.4"/><path class="be" d="M536.5 240.6V248.2"/><path class="be" d="M538.7 241.9V248.5"/><path class="be" d="M541.0 240.5V245.5"/><path class="be" d="M544.7 237.2V244.2"/><path class="be" d="M546.9 237.8V243.6"/><path class="be" d="M549.9 242.9V247.5"/><path class="be" d="M551.4 246.0V253.2"/><path class="be" d="M552.9 250.8V256.0"/><path class="be" d="M555.8 240.1V245.9"/><path class="be" d="M558.1 242.0V246.8"/><path class="be" d="M561.0 238.5V244.5"/><path class="be" d="M563.3 248.0V254.2"/><path class="be" d="M567.0 250.6V257.6"/><path class="be" d="M569.2 257.8V265.2"/><path class="be" d="M570.7 260.2V267.4"/><path class="be" d="M574.4 260.5V267.1"/><path class="be" d="M580.4 256.5V262.1"/><path class="be" d="M582.6 252.6V260.0"/><path class="be" d="M580.7 257.4V262.6"/><path class="be" d="M583.3 253.6V259.0"/><path class="be" d="M586.3 259.2V265.4"/><path class="be" d="M589.2 249.8V255.4"/><path class="be" d="M591.9 254.0V260.2"/><path class="be" d="M594.9 258.4V263.2"/><path class="be" d="M597.1 258.9V264.1"/><path class="be" d="M601.6 250.4V254.8"/><path class="be" d="M603.1 245.3V251.1"/><path class="be" d="M609.0 244.8V250.0"/><path class="bm" d="M495.2 246.2L499.2 250.2M495.2 250.2L499.2 246.2"/><path class="bm" d="M512.5 244.7L516.5 248.7M512.5 248.7L516.5 244.7"/><path class="bm" d="M514.6 249.1L518.6 253.1M514.6 253.1L518.6 249.1"/><path class="bm" d="M517.2 254.3L521.2 258.3M517.2 258.3L521.2 254.3"/><path class="bm" d="M520.2 243.2L524.2 247.2M520.2 247.2L524.2 243.2"/><path class="bm" d="M524.0 255.1L528.0 259.1M524.0 259.1L528.0 255.1"/><path class="bm" d="M526.5 243.2L530.5 247.2M526.5 247.2L530.5 243.2"/><path class="bm" d="M530.6 238.7L534.6 242.7M530.6 242.7L534.6 238.7"/><path class="bm" d="M535.1 241.7L539.1 245.7M535.1 245.7L539.1 241.7"/><path class="bm" d="M534.5 242.4L538.5 246.4M534.5 246.4L538.5 242.4"/><path class="bm" d="M536.7 243.2L540.7 247.2M536.7 247.2L540.7 243.2"/><path class="bm" d="M539.0 241.0L543.0 245.0M539.0 245.0L543.0 241.0"/><path class="bm" d="M542.7 238.7L546.7 242.7M542.7 242.7L546.7 238.7"/><path class="bm" d="M544.9 238.7L548.9 242.7M544.9 242.7L548.9 238.7"/><path class="bm" d="M547.9 243.2L551.9 247.2M547.9 247.2L551.9 243.2"/><path class="bm" d="M549.4 247.6L553.4 251.6M549.4 251.6L553.4 247.6"/><path class="bm" d="M550.9 251.4L554.9 255.4M550.9 255.4L554.9 251.4"/><path class="bm" d="M553.8 241.0L557.8 245.0M553.8 245.0L557.8 241.0"/><path class="bm" d="M556.1 242.4L560.1 246.4M556.1 246.4L560.1 242.4"/><path class="bm" d="M559.0 239.5L563.0 243.5M559.0 243.5L563.0 239.5"/><path class="bm" d="M561.3 249.1L565.3 253.1M561.3 253.1L565.3 249.1"/><path class="bm" d="M565.0 252.1L569.0 256.1M565.0 256.1L569.0 252.1"/><path class="bm" d="M567.2 259.5L571.2 263.5M567.2 263.5L571.2 259.5"/><path class="bm" d="M568.7 261.8L572.7 265.8M568.7 265.8L572.7 261.8"/><path class="bm" d="M572.4 261.8L576.4 265.8M572.4 265.8L576.4 261.8"/><path class="bm" d="M578.4 257.3L582.4 261.3M578.4 261.3L582.4 257.3"/><path class="bm" d="M580.6 254.3L584.6 258.3M580.6 258.3L584.6 254.3"/><path class="bm" d="M578.7 258.0L582.7 262.0M578.7 262.0L582.7 258.0"/><path class="bm" d="M581.3 254.3L585.3 258.3M581.3 258.3L585.3 254.3"/><path class="bm" d="M584.3 260.3L588.3 264.3M584.3 264.3L588.3 260.3"/><path class="bm" d="M587.2 250.6L591.2 254.6M587.2 254.6L591.2 250.6"/><path class="bm" d="M589.9 255.1L593.9 259.1M589.9 259.1L593.9 255.1"/><path class="bm" d="M592.9 258.8L596.9 262.8M592.9 262.8L596.9 258.8"/><path class="bm" d="M595.1 259.5L599.1 263.5M595.1 263.5L599.1 259.5"/><path class="bm" d="M599.6 250.6L603.6 254.6M599.6 254.6L603.6 250.6"/><path class="bm" d="M601.1 246.2L605.1 250.2M601.1 250.2L605.1 246.2"/><path class="bm" d="M607.0 245.4L611.0 249.4M607.0 249.4L611.0 245.4"/></g>
<g clip-path="url(#c3)"><path class="ge" d="M494.5 328.2V356.2"/><path class="ge" d="M494.5 340.5V359.1"/><path class="ge" d="M500.3 337.2V365.6"/><path class="ge" d="M514.2 309.1V338.3"/><path class="ge" d="M514.2 317.5V348.3"/><path class="ge" d="M516.5 313.1V345.1"/><path class="ge" d="M519.5 308.3V348.3"/><path class="ge" d="M522.2 324.3V372.3"/><path class="ge" d="M525.4 317.2V347.2"/><path class="ge" d="M528.3 309.8V346.8"/><path class="ge" d="M529.8 317.0V345.0"/><path class="ge" d="M533.1 315.4V347.4"/><path class="ge" d="M536.9 322.0V356.0"/><path class="ge" d="M538.8 343.0V373.6"/><path class="ge" d="M541.5 326.2V363.8"/><path class="ge" d="M544.6 337.5V371.5"/><path class="ge" d="M546.5 337.7V369.7"/><path class="ge" d="M551.9 352.2V372.2"/><path class="ge" d="M551.9 354.5V380.5"/><path class="ge" d="M555.0 338.3V369.1"/><path class="ge" d="M558.1 350.5V387.5"/><path class="ge" d="M561.2 336.8V364.4"/><path class="ge" d="M564.2 343.2V381.2"/><path class="ge" d="M567.3 320.2V347.2"/><path class="ge" d="M569.6 351.8V380.2"/><path class="ge" d="M572.4 328.4V357.6"/><path class="ge" d="M575.0 332.2V359.8"/><path class="ge" d="M578.1 332.5V365.5"/><path class="ge" d="M580.8 319.2V345.2"/><path class="ge" d="M583.5 305.6V334.0"/><path class="ge" d="M586.2 297.3V319.3"/><path class="ge" d="M586.2 316.2V328.2"/><path class="ge" d="M589.3 318.4V346.0"/><path class="ge" d="M594.7 303.0V344.4"/><path class="ge" d="M597.6 319.1V346.7"/><path class="ge" d="M601.2 321.7V353.3"/><path class="ge" d="M603.2 326.8V359.2"/><path class="ge" d="M606.2 333.6V366.0"/><path class="ge" d="M608.8 313.2V341.8"/><path class="ge" d="M612.2 331.4V362.2"/><path class="gm" d="M492.5 340.2L496.5 344.2M492.5 344.2L496.5 340.2"/><path class="gm" d="M492.5 347.8L496.5 351.8M492.5 351.8L496.5 347.8"/><path class="gm" d="M498.3 349.4L502.3 353.4M498.3 353.4L502.3 349.4"/><path class="gm" d="M512.2 321.7L516.2 325.7M512.2 325.7L516.2 321.7"/><path class="gm" d="M512.2 330.9L516.2 334.9M512.2 334.9L516.2 330.9"/><path class="gm" d="M514.5 327.1L518.5 331.1M514.5 331.1L518.5 327.1"/><path class="gm" d="M517.5 326.3L521.5 330.3M517.5 330.3L521.5 326.3"/><path class="gm" d="M520.2 346.3L524.2 350.3M520.2 350.3L524.2 346.3"/><path class="gm" d="M523.4 330.2L527.4 334.2M523.4 334.2L527.4 330.2"/><path class="gm" d="M526.3 326.3L530.3 330.3M526.3 330.3L530.3 326.3"/><path class="gm" d="M527.8 329.0L531.8 333.0M527.8 333.0L531.8 329.0"/><path class="gm" d="M531.1 329.4L535.1 333.4M531.1 333.4L535.1 329.4"/><path class="gm" d="M534.9 337.0L538.9 341.0M534.9 341.0L538.9 337.0"/><path class="gm" d="M536.8 356.3L540.8 360.3M536.8 360.3L540.8 356.3"/><path class="gm" d="M539.5 343.0L543.5 347.0M539.5 347.0L543.5 343.0"/><path class="gm" d="M542.6 352.5L546.6 356.5M542.6 356.5L546.6 352.5"/><path class="gm" d="M544.5 351.7L548.5 355.7M544.5 355.7L548.5 351.7"/><path class="gm" d="M549.9 360.2L553.9 364.2M549.9 364.2L553.9 360.2"/><path class="gm" d="M549.9 365.5L553.9 369.5M549.9 369.5L553.9 365.5"/><path class="gm" d="M553.0 351.7L557.0 355.7M553.0 355.7L557.0 351.7"/><path class="gm" d="M556.1 367.0L560.1 371.0M556.1 371.0L560.1 367.0"/><path class="gm" d="M559.2 348.6L563.2 352.6M559.2 352.6L563.2 348.6"/><path class="gm" d="M562.2 360.2L566.2 364.2M562.2 364.2L566.2 360.2"/><path class="gm" d="M565.3 331.7L569.3 335.7M565.3 335.7L569.3 331.7"/><path class="gm" d="M567.6 364.0L571.6 368.0M567.6 368.0L571.6 364.0"/><path class="gm" d="M570.4 341.0L574.4 345.0M570.4 345.0L574.4 341.0"/><path class="gm" d="M573.0 344.0L577.0 348.0M573.0 348.0L577.0 344.0"/><path class="gm" d="M576.1 347.0L580.1 351.0M576.1 351.0L580.1 347.0"/><path class="gm" d="M578.8 330.2L582.8 334.2M578.8 334.2L582.8 330.2"/><path class="gm" d="M581.5 317.8L585.5 321.8M581.5 321.8L585.5 317.8"/><path class="gm" d="M584.2 306.3L588.2 310.3M584.2 310.3L588.2 306.3"/><path class="gm" d="M584.2 320.2L588.2 324.2M584.2 324.2L588.2 320.2"/><path class="gm" d="M587.3 330.2L591.3 334.2M587.3 334.2L591.3 330.2"/><path class="gm" d="M592.7 321.7L596.7 325.7M592.7 325.7L596.7 321.7"/><path class="gm" d="M595.6 330.9L599.6 334.9M595.6 334.9L599.6 330.9"/><path class="gm" d="M599.2 335.5L603.2 339.5M599.2 339.5L603.2 335.5"/><path class="gm" d="M601.2 341.0L605.2 345.0M601.2 345.0L605.2 341.0"/><path class="gm" d="M604.2 347.8L608.2 351.8M604.2 351.8L608.2 347.8"/><path class="gm" d="M606.8 325.5L610.8 329.5M606.8 329.5L610.8 325.5"/><path class="gm" d="M610.2 344.8L614.2 348.8M610.2 348.8L614.2 344.8"/><path class="be" d="M497.2 339.8V344.2"/><path class="be" d="M513.9 340.2V345.0"/><path class="be" d="M516.4 341.7V345.6"/><path class="be" d="M518.6 342.3V345.7"/><path class="be" d="M521.9 340.0V345.2"/><path class="be" d="M523.5 341.6V344.8"/><path class="be" d="M526.0 338.3V343.8"/><path class="be" d="M527.1 338.6V343.5"/><path class="be" d="M529.9 341.8V345.5"/><path class="be" d="M532.1 343.1V346.1"/><path class="be" d="M534.6 339.9V345.4"/><path class="be" d="M538.5 339.7V342.8"/><path class="be" d="M540.2 339.6V344.9"/><path class="be" d="M541.4 340.0V344.6"/><path class="be" d="M544.4 339.7V344.8"/><path class="be" d="M544.7 341.8V345.4"/><path class="be" d="M547.3 341.7V346.9"/><path class="be" d="M547.3 337.7V341.5"/><path class="be" d="M551.3 337.3V342.1"/><path class="be" d="M553.4 342.7V348.6"/><path class="be" d="M553.9 338.0V342.8"/><path class="be" d="M555.7 337.5V341.0"/><path class="be" d="M560.0 341.3V345.1"/><path class="be" d="M562.7 342.1V346.3"/><path class="be" d="M562.1 340.9V346.4"/><path class="be" d="M566.1 342.0V347.3"/><path class="be" d="M568.1 340.4V344.6"/><path class="be" d="M571.2 339.3V344.0"/><path class="be" d="M571.3 343.6V347.7"/><path class="be" d="M572.6 337.9V342.4"/><path class="be" d="M576.2 339.4V343.3"/><path class="be" d="M575.7 339.4V345.2"/><path class="be" d="M577.8 341.7V345.8"/><path class="be" d="M581.0 339.5V343.5"/><path class="be" d="M583.8 339.2V344.1"/><path class="be" d="M586.6 341.7V345.3"/><path class="be" d="M586.5 340.8V344.2"/><path class="be" d="M589.7 338.7V343.1"/><path class="be" d="M592.6 340.0V345.5"/><path class="be" d="M595.8 340.3V344.4"/><path class="be" d="M595.6 343.9V347.7"/><path class="be" d="M598.9 338.8V342.6"/><path class="be" d="M601.4 340.5V345.3"/><path class="be" d="M600.5 341.4V345.2"/><path class="be" d="M604.5 342.8V347.4"/><path class="be" d="M607.3 340.5V345.0"/><path class="be" d="M606.8 339.8V342.9"/><path class="be" d="M609.6 340.4V344.4"/><path class="be" d="M609.4 338.6V344.1"/><path class="bm" d="M495.2 340.0L499.2 344.0M495.2 344.0L499.2 340.0"/><path class="bm" d="M511.9 340.6L515.9 344.6M511.9 344.6L515.9 340.6"/><path class="bm" d="M514.4 341.6L518.4 345.6M514.4 345.6L518.4 341.6"/><path class="bm" d="M516.6 342.0L520.6 346.0M516.6 346.0L520.6 342.0"/><path class="bm" d="M519.9 340.6L523.9 344.6M519.9 344.6L523.9 340.6"/><path class="bm" d="M521.5 341.2L525.5 345.2M521.5 345.2L525.5 341.2"/><path class="bm" d="M524.0 339.0L528.0 343.0M524.0 343.0L528.0 339.0"/><path class="bm" d="M525.1 339.1L529.1 343.1M525.1 343.1L529.1 339.1"/><path class="bm" d="M527.9 341.7L531.9 345.7M527.9 345.7L531.9 341.7"/><path class="bm" d="M530.1 342.6L534.1 346.6M530.1 346.6L534.1 342.6"/><path class="bm" d="M532.6 340.6L536.6 344.6M532.6 344.6L536.6 340.6"/><path class="bm" d="M536.5 339.3L540.5 343.3M536.5 343.3L540.5 339.3"/><path class="bm" d="M538.2 340.2L542.2 344.2M538.2 344.2L542.2 340.2"/><path class="bm" d="M539.4 340.3L543.4 344.3M539.4 344.3L543.4 340.3"/><path class="bm" d="M542.4 340.3L546.4 344.3M542.4 344.3L546.4 340.3"/><path class="bm" d="M542.7 341.6L546.7 345.6M542.7 345.6L546.7 341.6"/><path class="bm" d="M545.3 342.3L549.3 346.3M545.3 346.3L549.3 342.3"/><path class="bm" d="M545.3 337.6L549.3 341.6M545.3 341.6L549.3 337.6"/><path class="bm" d="M549.3 337.7L553.3 341.7M549.3 341.7L553.3 337.7"/><path class="bm" d="M551.4 343.6L555.4 347.6M551.4 347.6L555.4 343.6"/><path class="bm" d="M551.9 338.4L555.9 342.4M551.9 342.4L555.9 338.4"/><path class="bm" d="M553.7 337.2L557.7 341.2M553.7 341.2L557.7 337.2"/><path class="bm" d="M558.0 341.2L562.0 345.2M558.0 345.2L562.0 341.2"/><path class="bm" d="M560.7 342.2L564.7 346.2M560.7 346.2L564.7 342.2"/><path class="bm" d="M560.1 341.7L564.1 345.7M560.1 345.7L564.1 341.7"/><path class="bm" d="M564.1 342.6L568.1 346.6M564.1 346.6L568.1 342.6"/><path class="bm" d="M566.1 340.5L570.1 344.5M566.1 344.5L570.1 340.5"/><path class="bm" d="M569.2 339.6L573.2 343.6M569.2 343.6L573.2 339.6"/><path class="bm" d="M569.3 343.7L573.3 347.7M569.3 347.7L573.3 343.7"/><path class="bm" d="M570.6 338.1L574.6 342.1M570.6 342.1L574.6 338.1"/><path class="bm" d="M574.2 339.4L578.2 343.4M574.2 343.4L578.2 339.4"/><path class="bm" d="M573.7 340.3L577.7 344.3M573.7 344.3L577.7 340.3"/><path class="bm" d="M575.8 341.7L579.8 345.7M575.8 345.7L579.8 341.7"/><path class="bm" d="M579.0 339.5L583.0 343.5M579.0 343.5L583.0 339.5"/><path class="bm" d="M581.8 339.7L585.8 343.7M581.8 343.7L585.8 339.7"/><path class="bm" d="M584.6 341.5L588.6 345.5M584.6 345.5L588.6 341.5"/><path class="bm" d="M584.5 340.5L588.5 344.5M584.5 344.5L588.5 340.5"/><path class="bm" d="M587.7 338.9L591.7 342.9M587.7 342.9L591.7 338.9"/><path class="bm" d="M590.6 340.8L594.6 344.8M590.6 344.8L594.6 340.8"/><path class="bm" d="M593.8 340.4L597.8 344.4M593.8 344.4L597.8 340.4"/><path class="bm" d="M593.6 343.8L597.6 347.8M593.6 347.8L597.6 343.8"/><path class="bm" d="M596.9 338.7L600.9 342.7M596.9 342.7L600.9 338.7"/><path class="bm" d="M599.4 340.9L603.4 344.9M599.4 344.9L603.4 340.9"/><path class="bm" d="M598.5 341.3L602.5 345.3M598.5 345.3L602.5 341.3"/><path class="bm" d="M602.5 343.1L606.5 347.1M602.5 347.1L606.5 343.1"/><path class="bm" d="M605.3 340.7L609.3 344.7M605.3 344.7L609.3 340.7"/><path class="bm" d="M604.8 339.4L608.8 343.4M604.8 343.4L608.8 339.4"/><path class="bm" d="M607.6 340.4L611.6 344.4M607.6 344.4L611.6 340.4"/><path class="bm" d="M607.4 339.3L611.4 343.3M607.4 343.3L611.4 339.3"/></g>
<g clip-path="url(#c4)"><path class="ge" d="M494.5 402.8V436.7"/><path class="ge" d="M494.5 438.2V472.8"/><path class="ge" d="M496.9 422.8V441.3"/><path class="ge" d="M496.9 425.9V459.8"/><path class="ge" d="M500.3 415.2V456.7"/><path class="ge" d="M514.2 389.0V425.9"/><path class="ge" d="M514.2 429.0V462.8"/><path class="ge" d="M516.5 401.3V458.2"/><path class="ge" d="M519.5 403.6V439.0"/><path class="ge" d="M519.5 429.0V456.7"/><path class="ge" d="M522.2 425.9V476.7"/><path class="ge" d="M525.4 407.5V461.3"/><path class="ge" d="M528.3 412.8V455.2"/><path class="ge" d="M529.5 415.2V456.7"/><path class="ge" d="M533.1 406.7V439.0"/><path class="ge" d="M533.1 426.7V459.0"/><path class="ge" d="M536.9 395.9V435.2"/><path class="ge" d="M538.8 427.5V472.8"/><path class="ge" d="M541.5 396.7V435.2"/><path class="ge" d="M544.6 435.2V479.8"/><path class="ge" d="M546.8 401.3V462.8"/><path class="ge" d="M546.5 401.3V435.2"/><path class="ge" d="M546.5 433.6V465.9"/><path class="ge" d="M549.3 410.5V464.4"/><path class="ge" d="M551.9 412.8V461.3"/><path class="ge" d="M555.0 409.0V465.9"/><path class="ge" d="M558.1 407.5V476.7"/><path class="ge" d="M561.2 427.5V469.0"/><path class="ge" d="M564.2 408.2V461.3"/><path class="ge" d="M567.3 394.4V432.8"/><path class="ge" d="M567.3 436.7V470.5"/><path class="ge" d="M569.6 410.5V450.5"/><path class="ge" d="M572.4 415.2V464.4"/><path class="ge" d="M575.0 411.3V450.5"/><path class="ge" d="M578.1 409.0V461.3"/><path class="ge" d="M580.4 412.1V453.6"/><path class="ge" d="M583.5 409.0V449.0"/><path class="ge" d="M586.2 389.0V473.6"/><path class="ge" d="M588.8 422.8V447.5"/><path class="ge" d="M591.9 394.4V435.9"/><path class="ge" d="M591.9 439.8V475.2"/><path class="ge" d="M594.5 389.0V421.3"/><path class="ge" d="M594.5 432.1V475.2"/><path class="ge" d="M598.1 409.0V453.6"/><path class="ge" d="M600.7 409.0V442.8"/><path class="ge" d="M600.7 421.3V458.2"/><path class="ge" d="M603.5 418.2V456.7"/><path class="ge" d="M605.8 416.7V462.8"/><path class="ge" d="M608.5 419.8V456.7"/><path class="ge" d="M612.2 409.0V442.8"/><path class="ge" d="M612.2 425.9V458.2"/><path class="gm" d="M492.5 417.8L496.5 421.8M492.5 421.8L496.5 417.8"/><path class="gm" d="M492.5 453.2L496.5 457.2M492.5 457.2L496.5 453.2"/><path class="gm" d="M494.9 430.1L498.9 434.1M494.9 434.1L498.9 430.1"/><path class="gm" d="M494.9 440.8L498.9 444.8M494.9 444.8L498.9 440.8"/><path class="gm" d="M498.3 437.8L502.3 441.8M498.3 441.8L502.3 437.8"/><path class="gm" d="M512.2 405.5L516.2 409.5M512.2 409.5L516.2 405.5"/><path class="gm" d="M512.2 443.9L516.2 447.9M512.2 447.9L516.2 443.9"/><path class="gm" d="M514.5 417.8L518.5 421.8M514.5 421.8L518.5 417.8"/><path class="gm" d="M517.5 419.3L521.5 423.3M517.5 423.3L521.5 419.3"/><path class="gm" d="M517.5 440.8L521.5 444.8M517.5 444.8L521.5 440.8"/><path class="gm" d="M520.2 456.2L524.2 460.2M520.2 460.2L524.2 456.2"/><path class="gm" d="M523.4 422.4L527.4 426.4M523.4 426.4L527.4 422.4"/><path class="gm" d="M526.3 431.6L530.3 435.6M526.3 435.6L530.3 431.6"/><path class="gm" d="M527.5 428.5L531.5 432.5M527.5 432.5L531.5 428.5"/><path class="gm" d="M531.1 420.8L535.1 424.8M531.1 424.8L535.1 420.8"/><path class="gm" d="M531.1 440.8L535.1 444.8M531.1 444.8L535.1 440.8"/><path class="gm" d="M534.9 410.1L538.9 414.1M534.9 414.1L538.9 410.1"/><path class="gm" d="M536.8 454.7L540.8 458.7M536.8 458.7L540.8 454.7"/><path class="gm" d="M539.5 411.6L543.5 415.6M539.5 415.6L543.5 411.6"/><path class="gm" d="M542.6 461.6L546.6 465.6M542.6 465.6L546.6 461.6"/><path class="gm" d="M544.8 430.1L548.8 434.1M544.8 434.1L548.8 430.1"/><path class="gm" d="M544.5 416.2L548.5 420.2M544.5 420.2L548.5 416.2"/><path class="gm" d="M544.5 447.8L548.5 451.8M544.5 451.8L548.5 447.8"/><path class="gm" d="M547.3 452.4L551.3 456.4M547.3 456.4L551.3 452.4"/><path class="gm" d="M549.9 443.9L553.9 447.9M549.9 447.9L553.9 443.9"/><path class="gm" d="M553.0 447.0L557.0 451.0M553.0 451.0L557.0 447.0"/><path class="gm" d="M556.1 458.5L560.1 462.5M556.1 462.5L560.1 458.5"/><path class="gm" d="M559.2 450.1L563.2 454.1M559.2 454.1L563.2 450.1"/><path class="gm" d="M562.2 433.2L566.2 437.2M562.2 437.2L566.2 433.2"/><path class="gm" d="M565.3 411.6L569.3 415.6M565.3 415.6L569.3 411.6"/><path class="gm" d="M565.3 451.6L569.3 455.6M565.3 455.6L569.3 451.6"/><path class="gm" d="M567.6 428.5L571.6 432.5M567.6 432.5L571.6 428.5"/><path class="gm" d="M570.4 440.8L574.4 444.8M570.4 444.8L574.4 440.8"/><path class="gm" d="M573.0 428.5L577.0 432.5M573.0 432.5L577.0 428.5"/><path class="gm" d="M576.1 431.6L580.1 435.6M576.1 435.6L580.1 431.6"/><path class="gm" d="M578.4 430.8L582.4 434.8M578.4 434.8L582.4 430.8"/><path class="gm" d="M581.5 427.0L585.5 431.0M581.5 431.0L585.5 427.0"/><path class="gm" d="M584.2 407.0L588.2 411.0M584.2 411.0L588.2 407.0"/><path class="gm" d="M586.8 433.2L590.8 437.2M586.8 437.2L590.8 433.2"/><path class="gm" d="M589.9 413.2L593.9 417.2M589.9 417.2L593.9 413.2"/><path class="gm" d="M589.9 455.5L593.9 459.5M589.9 459.5L593.9 455.5"/><path class="gm" d="M592.5 403.2L596.5 407.2M592.5 407.2L596.5 403.2"/><path class="gm" d="M592.5 451.6L596.5 455.6M592.5 455.6L596.5 451.6"/><path class="gm" d="M596.1 418.5L600.1 422.5M596.1 422.5L600.1 418.5"/><path class="gm" d="M598.7 423.9L602.7 427.9M598.7 427.9L602.7 423.9"/><path class="gm" d="M598.7 437.8L602.7 441.8M598.7 441.8L602.7 437.8"/><path class="gm" d="M601.5 435.5L605.5 439.5M601.5 439.5L605.5 435.5"/><path class="gm" d="M603.8 437.8L607.8 441.8M603.8 441.8L607.8 437.8"/><path class="gm" d="M606.5 436.2L610.5 440.2M606.5 440.2L610.5 436.2"/><path class="gm" d="M610.2 423.9L614.2 427.9M610.2 427.9L614.2 423.9"/><path class="gm" d="M610.2 440.1L614.2 444.1M610.2 444.1L614.2 440.1"/><path class="be" d="M497.5 419.8V442.8"/><path class="be" d="M500.3 413.6V435.2"/><path class="be" d="M500.3 436.7V442.8"/><path class="be" d="M514.2 427.5V445.9"/><path class="be" d="M514.2 432.1V447.5"/><path class="be" d="M516.5 413.6V430.5"/><path class="be" d="M516.5 447.5V450.5"/><path class="be" d="M518.8 433.6V447.5"/><path class="be" d="M521.8 415.2V430.5"/><path class="be" d="M525.4 441.3V449.0"/><path class="be" d="M525.4 445.9V455.2"/><path class="be" d="M529.2 427.5V444.4"/><path class="be" d="M532.6 422.8V438.2"/><path class="be" d="M536.9 425.9V432.1"/><path class="be" d="M536.9 435.2V450.5"/><path class="be" d="M536.9 433.6V445.9"/><path class="be" d="M538.8 424.4V442.8"/><path class="be" d="M541.5 441.3V456.7"/><path class="be" d="M544.2 412.1V422.8"/><path class="be" d="M544.2 418.2V435.2"/><path class="be" d="M546.5 416.7V435.2"/><path class="be" d="M546.5 438.2V450.5"/><path class="be" d="M549.6 425.9V439.8"/><path class="be" d="M551.9 427.5V442.8"/><path class="be" d="M555.0 415.2V432.1"/><path class="be" d="M555.0 435.2V441.3"/><path class="be" d="M558.1 419.8V439.8"/><path class="be" d="M561.2 412.1V430.5"/><path class="be" d="M561.2 424.4V432.1"/><path class="be" d="M563.5 438.2V452.1"/><path class="be" d="M566.5 419.8V430.5"/><path class="be" d="M566.5 441.3V453.6"/><path class="be" d="M569.6 433.6V445.9"/><path class="be" d="M572.4 419.8V432.1"/><path class="be" d="M575.0 438.2V447.5"/><path class="be" d="M579.2 430.5V439.8"/><path class="be" d="M581.5 435.2V450.5"/><path class="be" d="M583.5 432.1V441.3"/><path class="be" d="M586.5 427.5V433.6"/><path class="be" d="M586.5 439.8V456.7"/><path class="be" d="M589.6 415.2V447.5"/><path class="be" d="M591.9 419.8V432.1"/><path class="be" d="M594.2 419.8V432.1"/><path class="be" d="M594.2 439.8V444.4"/><path class="be" d="M597.3 445.9V461.3"/><path class="be" d="M601.6 422.8V435.2"/><path class="be" d="M603.5 425.9V438.2"/><path class="be" d="M606.5 413.6V427.5"/><path class="be" d="M606.5 442.8V459.8"/><path class="be" d="M608.8 427.5V438.2"/><path class="bm" d="M495.5 428.5L499.5 432.5M495.5 432.5L499.5 428.5"/><path class="bm" d="M498.3 422.4L502.3 426.4M498.3 426.4L502.3 422.4"/><path class="bm" d="M498.3 437.8L502.3 441.8M498.3 441.8L502.3 437.8"/><path class="bm" d="M512.2 434.7L516.2 438.7M512.2 438.7L516.2 434.7"/><path class="bm" d="M512.2 437.8L516.2 441.8M512.2 441.8L516.2 437.8"/><path class="bm" d="M514.5 420.1L518.5 424.1M514.5 424.1L518.5 420.1"/><path class="bm" d="M514.5 447.0L518.5 451.0M514.5 451.0L518.5 447.0"/><path class="bm" d="M516.8 436.2L520.8 440.2M516.8 440.2L520.8 436.2"/><path class="bm" d="M519.8 422.4L523.8 426.4M519.8 426.4L523.8 422.4"/><path class="bm" d="M523.4 443.2L527.4 447.2M523.4 447.2L527.4 443.2"/><path class="bm" d="M523.4 448.5L527.4 452.5M523.4 452.5L527.4 448.5"/><path class="bm" d="M527.2 433.2L531.2 437.2M527.2 437.2L531.2 433.2"/><path class="bm" d="M530.6 428.5L534.6 432.5M530.6 432.5L534.6 428.5"/><path class="bm" d="M534.9 427.0L538.9 431.0M534.9 431.0L538.9 427.0"/><path class="bm" d="M534.9 440.8L538.9 444.8M534.9 444.8L538.9 440.8"/><path class="bm" d="M534.9 437.8L538.9 441.8M534.9 441.8L538.9 437.8"/><path class="bm" d="M536.8 431.6L540.8 435.6M536.8 435.6L540.8 431.6"/><path class="bm" d="M539.5 448.5L543.5 452.5M539.5 452.5L543.5 448.5"/><path class="bm" d="M542.2 415.5L546.2 419.5M542.2 419.5L546.2 415.5"/><path class="bm" d="M542.2 424.7L546.2 428.7M542.2 428.7L546.2 424.7"/><path class="bm" d="M544.5 423.9L548.5 427.9M544.5 427.9L548.5 423.9"/><path class="bm" d="M544.5 442.4L548.5 446.4M544.5 446.4L548.5 442.4"/><path class="bm" d="M547.6 428.5L551.6 432.5M547.6 432.5L551.6 428.5"/><path class="bm" d="M549.9 435.5L553.9 439.5M549.9 439.5L553.9 435.5"/><path class="bm" d="M553.0 421.6L557.0 425.6M553.0 425.6L557.0 421.6"/><path class="bm" d="M553.0 436.2L557.0 440.2M553.0 440.2L557.0 436.2"/><path class="bm" d="M556.1 423.9L560.1 427.9M556.1 427.9L560.1 423.9"/><path class="bm" d="M559.2 419.3L563.2 423.3M559.2 423.3L563.2 419.3"/><path class="bm" d="M559.2 426.2L563.2 430.2M559.2 430.2L563.2 426.2"/><path class="bm" d="M561.5 443.2L565.5 447.2M561.5 447.2L565.5 443.2"/><path class="bm" d="M564.5 423.2L568.5 427.2M564.5 427.2L568.5 423.2"/><path class="bm" d="M564.5 445.5L568.5 449.5M564.5 449.5L568.5 445.5"/><path class="bm" d="M567.6 434.7L571.6 438.7M567.6 438.7L571.6 434.7"/><path class="bm" d="M570.4 423.9L574.4 427.9M570.4 427.9L574.4 423.9"/><path class="bm" d="M573.0 441.6L577.0 445.6M573.0 445.6L577.0 441.6"/><path class="bm" d="M577.2 431.6L581.2 435.6M577.2 435.6L581.2 431.6"/><path class="bm" d="M579.5 441.6L583.5 445.6M579.5 445.6L583.5 441.6"/><path class="bm" d="M581.5 433.9L585.5 437.9M581.5 437.9L585.5 433.9"/><path class="bm" d="M584.5 428.5L588.5 432.5M584.5 432.5L588.5 428.5"/><path class="bm" d="M584.5 446.2L588.5 450.2M584.5 450.2L588.5 446.2"/><path class="bm" d="M587.6 420.8L591.6 424.8M587.6 424.8L591.6 420.8"/><path class="bm" d="M589.9 421.6L593.9 425.6M589.9 425.6L593.9 421.6"/><path class="bm" d="M592.2 423.9L596.2 427.9M592.2 427.9L596.2 423.9"/><path class="bm" d="M592.2 440.1L596.2 444.1M592.2 444.1L596.2 440.1"/><path class="bm" d="M595.3 450.8L599.3 454.8M595.3 454.8L599.3 450.8"/><path class="bm" d="M599.6 423.9L603.6 427.9M599.6 427.9L603.6 423.9"/><path class="bm" d="M601.5 430.8L605.5 434.8M601.5 434.8L605.5 430.8"/><path class="bm" d="M604.5 418.5L608.5 422.5M604.5 422.5L608.5 418.5"/><path class="bm" d="M604.5 449.3L608.5 453.3M604.5 453.3L608.5 449.3"/><path class="bm" d="M606.8 430.8L610.8 434.8M606.8 434.8L610.8 430.8"/></g>
<g clip-path="url(#c5)"><path class="ge" d="M494.5 494.7V527.1"/><path class="ge" d="M494.5 528.6V561.8"/><path class="ge" d="M496.9 513.8V531.6"/><path class="ge" d="M496.9 516.8V549.3"/><path class="ge" d="M500.3 506.5V546.3"/><path class="ge" d="M514.2 481.4V516.8"/><path class="ge" d="M514.2 519.7V552.2"/><path class="ge" d="M516.5 493.2V547.8"/><path class="ge" d="M519.5 495.4V529.3"/><path class="ge" d="M519.5 519.7V546.3"/><path class="ge" d="M522.2 516.8V565.5"/><path class="ge" d="M525.4 499.1V550.7"/><path class="ge" d="M528.3 504.2V544.8"/><path class="ge" d="M529.5 506.5V546.3"/><path class="ge" d="M533.1 498.3V529.3"/><path class="ge" d="M533.1 517.5V548.5"/><path class="ge" d="M536.9 488.0V525.7"/><path class="ge" d="M538.8 518.3V561.8"/><path class="ge" d="M541.5 488.7V525.7"/><path class="ge" d="M544.6 525.7V568.5"/><path class="ge" d="M546.8 493.2V552.2"/><path class="ge" d="M546.5 493.2V525.7"/><path class="ge" d="M546.5 524.2V555.2"/><path class="ge" d="M549.3 502.0V553.7"/><path class="ge" d="M551.9 504.2V550.7"/><path class="ge" d="M555.0 500.6V555.2"/><path class="ge" d="M558.1 499.1V565.5"/><path class="ge" d="M561.2 518.3V558.1"/><path class="ge" d="M564.2 499.8V550.7"/><path class="ge" d="M567.3 486.5V523.4"/><path class="ge" d="M567.3 527.1V559.6"/><path class="ge" d="M569.6 502.0V540.4"/><path class="ge" d="M572.4 506.5V553.7"/><path class="ge" d="M575.0 502.8V540.4"/><path class="ge" d="M578.1 500.6V550.7"/><path class="ge" d="M580.4 503.5V543.4"/><path class="ge" d="M583.5 500.6V538.9"/><path class="ge" d="M586.2 481.4V562.6"/><path class="ge" d="M588.8 513.8V537.5"/><path class="ge" d="M591.9 486.5V526.4"/><path class="ge" d="M591.9 530.1V564.0"/><path class="ge" d="M594.5 481.4V512.4"/><path class="ge" d="M594.5 522.7V564.0"/><path class="ge" d="M598.1 500.6V543.4"/><path class="ge" d="M600.7 500.6V533.0"/><path class="ge" d="M600.7 512.4V547.8"/><path class="ge" d="M603.5 509.4V546.3"/><path class="ge" d="M605.8 507.9V552.2"/><path class="ge" d="M608.5 510.9V546.3"/><path class="ge" d="M612.2 500.6V533.0"/><path class="ge" d="M612.2 516.8V547.8"/><path class="gm" d="M492.5 508.9L496.5 512.9M492.5 512.9L496.5 508.9"/><path class="gm" d="M492.5 542.8L496.5 546.8M492.5 546.8L496.5 542.8"/><path class="gm" d="M494.9 520.7L498.9 524.7M494.9 524.7L498.9 520.7"/><path class="gm" d="M494.9 531.0L498.9 535.0M494.9 535.0L498.9 531.0"/><path class="gm" d="M498.3 528.1L502.3 532.1M498.3 532.1L502.3 528.1"/><path class="gm" d="M512.2 497.1L516.2 501.1M512.2 501.1L516.2 497.1"/><path class="gm" d="M512.2 534.0L516.2 538.0M512.2 538.0L516.2 534.0"/><path class="gm" d="M514.5 508.9L518.5 512.9M514.5 512.9L518.5 508.9"/><path class="gm" d="M517.5 510.4L521.5 514.4M517.5 514.4L521.5 510.4"/><path class="gm" d="M517.5 531.0L521.5 535.0M517.5 535.0L521.5 531.0"/><path class="gm" d="M520.2 545.8L524.2 549.8M520.2 549.8L524.2 545.8"/><path class="gm" d="M523.4 513.3L527.4 517.3M523.4 517.3L527.4 513.3"/><path class="gm" d="M526.3 522.2L530.3 526.2M526.3 526.2L530.3 522.2"/><path class="gm" d="M527.5 519.2L531.5 523.2M527.5 523.2L531.5 519.2"/><path class="gm" d="M531.1 511.8L535.1 515.8M531.1 515.8L535.1 511.8"/><path class="gm" d="M531.1 531.0L535.1 535.0M531.1 535.0L535.1 531.0"/><path class="gm" d="M534.9 501.5L538.9 505.5M534.9 505.5L538.9 501.5"/><path class="gm" d="M536.8 544.3L540.8 548.3M536.8 548.3L540.8 544.3"/><path class="gm" d="M539.5 503.0L543.5 507.0M539.5 507.0L543.5 503.0"/><path class="gm" d="M542.6 551.0L546.6 555.0M542.6 555.0L546.6 551.0"/><path class="gm" d="M544.8 520.7L548.8 524.7M544.8 524.7L548.8 520.7"/><path class="gm" d="M544.5 507.4L548.5 511.4M544.5 511.4L548.5 507.4"/><path class="gm" d="M544.5 537.7L548.5 541.7M544.5 541.7L548.5 537.7"/><path class="gm" d="M547.3 542.1L551.3 546.1M547.3 546.1L551.3 542.1"/><path class="gm" d="M549.9 534.0L553.9 538.0M549.9 538.0L553.9 534.0"/><path class="gm" d="M553.0 536.9L557.0 540.9M553.0 540.9L557.0 536.9"/><path class="gm" d="M556.1 548.0L560.1 552.0M556.1 552.0L560.1 548.0"/><path class="gm" d="M559.2 539.9L563.2 543.9M559.2 543.9L563.2 539.9"/><path class="gm" d="M562.2 523.7L566.2 527.7M562.2 527.7L566.2 523.7"/><path class="gm" d="M565.3 503.0L569.3 507.0M565.3 507.0L569.3 503.0"/><path class="gm" d="M565.3 541.4L569.3 545.4M565.3 545.4L569.3 541.4"/><path class="gm" d="M567.6 519.2L571.6 523.2M567.6 523.2L571.6 519.2"/><path class="gm" d="M570.4 531.0L574.4 535.0M570.4 535.0L574.4 531.0"/><path class="gm" d="M573.0 519.2L577.0 523.2M573.0 523.2L577.0 519.2"/><path class="gm" d="M576.1 522.2L580.1 526.2M576.1 526.2L580.1 522.2"/><path class="gm" d="M578.4 521.4L582.4 525.4M578.4 525.4L582.4 521.4"/><path class="gm" d="M581.5 517.7L585.5 521.7M581.5 521.7L585.5 517.7"/><path class="gm" d="M584.2 498.6L588.2 502.6M584.2 502.6L588.2 498.6"/><path class="gm" d="M586.8 523.7L590.8 527.7M586.8 527.7L590.8 523.7"/><path class="gm" d="M589.9 504.5L593.9 508.5M589.9 508.5L593.9 504.5"/><path class="gm" d="M589.9 545.1L593.9 549.1M589.9 549.1L593.9 545.1"/><path class="gm" d="M592.5 494.9L596.5 498.9M592.5 498.9L596.5 494.9"/><path class="gm" d="M592.5 541.4L596.5 545.4M592.5 545.4L596.5 541.4"/><path class="gm" d="M596.1 509.6L600.1 513.6M596.1 513.6L600.1 509.6"/><path class="gm" d="M598.7 514.8L602.7 518.8M598.7 518.8L602.7 514.8"/><path class="gm" d="M598.7 528.1L602.7 532.1M598.7 532.1L602.7 528.1"/><path class="gm" d="M601.5 525.9L605.5 529.9M601.5 529.9L605.5 525.9"/><path class="gm" d="M603.8 528.1L607.8 532.1M603.8 532.1L607.8 528.1"/><path class="gm" d="M606.5 526.6L610.5 530.6M606.5 530.6L610.5 526.6"/><path class="gm" d="M610.2 514.8L614.2 518.8M610.2 518.8L614.2 514.8"/><path class="gm" d="M610.2 530.3L614.2 534.3M610.2 534.3L614.2 530.3"/><path class="be" d="M497.5 510.9V533.0"/><path class="be" d="M500.3 505.0V525.7"/><path class="be" d="M500.3 527.1V533.0"/><path class="be" d="M514.2 518.3V536.0"/><path class="be" d="M514.2 522.7V537.5"/><path class="be" d="M516.5 505.0V521.2"/><path class="be" d="M516.5 537.5V540.4"/><path class="be" d="M518.8 524.2V537.5"/><path class="be" d="M521.8 506.5V521.2"/><path class="be" d="M525.4 531.6V538.9"/><path class="be" d="M525.4 536.0V544.8"/><path class="be" d="M529.2 518.3V534.5"/><path class="be" d="M532.6 513.8V528.6"/><path class="be" d="M536.9 516.8V522.7"/><path class="be" d="M536.9 525.7V540.4"/><path class="be" d="M536.9 524.2V536.0"/><path class="be" d="M538.8 515.3V533.0"/><path class="be" d="M541.5 531.6V546.3"/><path class="be" d="M544.2 503.5V513.8"/><path class="be" d="M544.2 509.4V525.7"/><path class="be" d="M546.5 507.9V525.7"/><path class="be" d="M546.5 528.6V540.4"/><path class="be" d="M549.6 516.8V530.1"/><path class="be" d="M551.9 518.3V533.0"/><path class="be" d="M555.0 506.5V522.7"/><path class="be" d="M555.0 525.7V531.6"/><path class="be" d="M558.1 510.9V530.1"/><path class="be" d="M561.2 503.5V521.2"/><path class="be" d="M561.2 515.3V522.7"/><path class="be" d="M563.5 528.6V541.9"/><path class="be" d="M566.5 510.9V521.2"/><path class="be" d="M566.5 531.6V543.4"/><path class="be" d="M569.6 524.2V536.0"/><path class="be" d="M572.4 510.9V522.7"/><path class="be" d="M575.0 528.6V537.5"/><path class="be" d="M579.2 521.2V530.1"/><path class="be" d="M581.5 525.7V540.4"/><path class="be" d="M583.5 522.7V531.6"/><path class="be" d="M586.5 518.3V524.2"/><path class="be" d="M586.5 530.1V546.3"/><path class="be" d="M589.6 506.5V537.5"/><path class="be" d="M591.9 510.9V522.7"/><path class="be" d="M594.2 510.9V522.7"/><path class="be" d="M594.2 530.1V534.5"/><path class="be" d="M597.3 536.0V550.7"/><path class="be" d="M601.6 513.8V525.7"/><path class="be" d="M603.5 516.8V528.6"/><path class="be" d="M606.5 505.0V518.3"/><path class="be" d="M606.5 533.0V549.3"/><path class="be" d="M608.8 518.3V528.6"/><path class="bm" d="M495.5 519.2L499.5 523.2M495.5 523.2L499.5 519.2"/><path class="bm" d="M498.3 513.3L502.3 517.3M498.3 517.3L502.3 513.3"/><path class="bm" d="M498.3 528.1L502.3 532.1M498.3 532.1L502.3 528.1"/><path class="bm" d="M512.2 525.1L516.2 529.1M512.2 529.1L516.2 525.1"/><path class="bm" d="M512.2 528.1L516.2 532.1M512.2 532.1L516.2 528.1"/><path class="bm" d="M514.5 511.1L518.5 515.1M514.5 515.1L518.5 511.1"/><path class="bm" d="M514.5 536.9L518.5 540.9M514.5 540.9L518.5 536.9"/><path class="bm" d="M516.8 526.6L520.8 530.6M516.8 530.6L520.8 526.6"/><path class="bm" d="M519.8 513.3L523.8 517.3M519.8 517.3L523.8 513.3"/><path class="bm" d="M523.4 533.2L527.4 537.2M523.4 537.2L527.4 533.2"/><path class="bm" d="M523.4 538.4L527.4 542.4M523.4 542.4L527.4 538.4"/><path class="bm" d="M527.2 523.7L531.2 527.7M527.2 527.7L531.2 523.7"/><path class="bm" d="M530.6 519.2L534.6 523.2M530.6 523.2L534.6 519.2"/><path class="bm" d="M534.9 517.7L538.9 521.7M534.9 521.7L538.9 517.7"/><path class="bm" d="M534.9 531.0L538.9 535.0M534.9 535.0L538.9 531.0"/><path class="bm" d="M534.9 528.1L538.9 532.1M534.9 532.1L538.9 528.1"/><path class="bm" d="M536.8 522.2L540.8 526.2M536.8 526.2L540.8 522.2"/><path class="bm" d="M539.5 538.4L543.5 542.4M539.5 542.4L543.5 538.4"/><path class="bm" d="M542.2 506.7L546.2 510.7M542.2 510.7L546.2 506.7"/><path class="bm" d="M542.2 515.5L546.2 519.5M542.2 519.5L546.2 515.5"/><path class="bm" d="M544.5 514.8L548.5 518.8M544.5 518.8L548.5 514.8"/><path class="bm" d="M544.5 532.5L548.5 536.5M544.5 536.5L548.5 532.5"/><path class="bm" d="M547.6 519.2L551.6 523.2M547.6 523.2L551.6 519.2"/><path class="bm" d="M549.9 525.9L553.9 529.9M549.9 529.9L553.9 525.9"/><path class="bm" d="M553.0 512.6L557.0 516.6M553.0 516.6L557.0 512.6"/><path class="bm" d="M553.0 526.6L557.0 530.6M553.0 530.6L557.0 526.6"/><path class="bm" d="M556.1 514.8L560.1 518.8M556.1 518.8L560.1 514.8"/><path class="bm" d="M559.2 510.4L563.2 514.4M559.2 514.4L563.2 510.4"/><path class="bm" d="M559.2 517.0L563.2 521.0M559.2 521.0L563.2 517.0"/><path class="bm" d="M561.5 533.2L565.5 537.2M561.5 537.2L565.5 533.2"/><path class="bm" d="M564.5 514.1L568.5 518.1M564.5 518.1L568.5 514.1"/><path class="bm" d="M564.5 535.5L568.5 539.5M564.5 539.5L568.5 535.5"/><path class="bm" d="M567.6 525.1L571.6 529.1M567.6 529.1L571.6 525.1"/><path class="bm" d="M570.4 514.8L574.4 518.8M570.4 518.8L574.4 514.8"/><path class="bm" d="M573.0 531.8L577.0 535.8M573.0 535.8L577.0 531.8"/><path class="bm" d="M577.2 522.2L581.2 526.2M577.2 526.2L581.2 522.2"/><path class="bm" d="M579.5 531.8L583.5 535.8M579.5 535.8L583.5 531.8"/><path class="bm" d="M581.5 524.4L585.5 528.4M581.5 528.4L585.5 524.4"/><path class="bm" d="M584.5 519.2L588.5 523.2M584.5 523.2L588.5 519.2"/><path class="bm" d="M584.5 536.2L588.5 540.2M584.5 540.2L588.5 536.2"/><path class="bm" d="M587.6 511.8L591.6 515.8M587.6 515.8L591.6 511.8"/><path class="bm" d="M589.9 512.6L593.9 516.6M589.9 516.6L593.9 512.6"/><path class="bm" d="M592.2 514.8L596.2 518.8M592.2 518.8L596.2 514.8"/><path class="bm" d="M592.2 530.3L596.2 534.3M592.2 534.3L596.2 530.3"/><path class="bm" d="M595.3 540.6L599.3 544.6M595.3 544.6L599.3 540.6"/><path class="bm" d="M599.6 514.8L603.6 518.8M599.6 518.8L603.6 514.8"/><path class="bm" d="M601.5 521.4L605.5 525.4M601.5 525.4L605.5 521.4"/><path class="bm" d="M604.5 509.6L608.5 513.6M604.5 513.6L608.5 509.6"/><path class="bm" d="M604.5 539.2L608.5 543.2M604.5 543.2L608.5 539.2"/><path class="bm" d="M606.8 521.4L610.8 525.4M606.8 525.4L610.8 521.4"/></g>
<path d="M55.85 107.08H58.25 M55.85 102.22H58.25 M55.85 97.36H58.25 M55.85 87.64H58.25 M55.85 82.78H58.25 M55.85 77.92H58.25 M55.85 73.06H58.25 M55.85 63.34H58.25 M55.85 58.48H58.25 M55.85 53.62H58.25 M55.85 48.76H58.25 M55.85 39.04H58.25 M55.85 34.18H58.25 M55.85 29.32H58.25 M55.85 24.46H58.25 M55.85 196.90H58.25 M55.85 183.60H58.25 M55.85 176.95H58.25 M55.85 170.30H58.25 M55.85 163.65H58.25 M55.85 150.35H58.25 M55.85 143.70H58.25 M55.85 137.05H58.25 M55.85 130.40H58.25 M55.85 117.10H58.25 M55.85 291.82H58.25 M55.85 285.76H58.25 M55.85 273.64H58.25 M55.85 267.58H58.25 M55.85 261.52H58.25 M55.85 255.46H58.25 M55.85 243.34H58.25 M55.85 237.28H58.25 M55.85 231.22H58.25 M55.85 225.16H58.25 M55.85 213.04H58.25 M55.85 206.98H58.25 M55.85 388.36H58.25 M55.85 381.78H58.25 M55.85 368.62H58.25 M55.85 362.04H58.25 M55.85 355.46H58.25 M55.85 348.88H58.25 M55.85 335.72H58.25 M55.85 329.14H58.25 M55.85 322.56H58.25 M55.85 315.98H58.25 M55.85 302.82H58.25 M55.85 296.24H58.25 M55.85 475.15H58.25 M55.85 470.70H58.25 M55.85 466.25H58.25 M55.85 461.80H58.25 M55.85 452.90H58.25 M55.85 448.45H58.25 M55.85 444.00H58.25 M55.85 439.55H58.25 M55.85 430.65H58.25 M55.85 426.20H58.25 M55.85 421.75H58.25 M55.85 417.30H58.25 M55.85 408.40H58.25 M55.85 403.95H58.25 M55.85 399.50H58.25 M55.85 395.05H58.25 M55.85 572.57H58.25 M55.85 564.03H58.25 M55.85 559.76H58.25 M55.85 555.49H58.25 M55.85 551.22H58.25 M55.85 542.68H58.25 M55.85 538.41H58.25 M55.85 534.14H58.25 M55.85 529.87H58.25 M55.85 521.33H58.25 M55.85 517.06H58.25 M55.85 512.79H58.25 M55.85 508.52H58.25 M55.85 499.98H58.25 M55.85 495.71H58.25 M55.85 491.44H58.25 M55.85 487.17H58.25" stroke="#000" stroke-width="0.6"/>
<path d="M53.35 19.60H58.25 M53.35 43.90H58.25 M53.35 68.20H58.25 M53.35 92.50H58.25 M53.35 123.75H58.25 M53.35 157.00H58.25 M53.35 190.25H58.25 M53.35 219.10H58.25 M53.35 249.40H58.25 M53.35 279.70H58.25 M53.35 309.40H58.25 M53.35 342.30H58.25 M53.35 375.20H58.25 M53.35 390.60H58.25 M53.35 412.85H58.25 M53.35 435.10H58.25 M53.35 457.35H58.25 M53.35 479.60H58.25 M53.35 482.90H58.25 M53.35 504.25H58.25 M53.35 525.60H58.25 M53.35 546.95H58.25 M53.35 568.30H58.25 M58.30 574.3V579.20 M126.42 574.3V579.20 M194.54 574.3V579.20 M262.66 574.3V579.20 M330.78 574.3V579.20 M398.90 574.3V579.20 M467.02 574.3V579.20 M535.14 574.3V579.20 M603.26 574.3V579.20" stroke="#000" stroke-width="0.8"/>
<path d="M75.33 574.3V576.70 M92.36 574.3V576.70 M109.39 574.3V576.70 M143.45 574.3V576.70 M160.48 574.3V576.70 M177.51 574.3V576.70 M211.57 574.3V576.70 M228.60 574.3V576.70 M245.63 574.3V576.70 M279.69 574.3V576.70 M296.72 574.3V576.70 M313.75 574.3V576.70 M347.81 574.3V576.70 M364.84 574.3V576.70 M381.87 574.3V576.70 M415.93 574.3V576.70 M432.96 574.3V576.70 M449.99 574.3V576.70 M484.05 574.3V576.70 M501.08 574.3V576.70 M518.11 574.3V576.70 M552.17 574.3V576.70 M569.20 574.3V576.70 M586.23 574.3V576.70 M620.29 574.3V576.70" stroke="#000" stroke-width="0.6"/>
<rect x="58.25" y="17.8" width="570.15" height="92.8" fill="none" stroke="#262626" stroke-width="1.45"/>
<rect x="58.25" y="110.6" width="570.15" height="92.80000000000001" fill="none" stroke="#262626" stroke-width="1.45"/>
<rect x="58.25" y="203.4" width="570.15" height="92.70000000000002" fill="none" stroke="#262626" stroke-width="1.45"/>
<rect x="58.25" y="296.1" width="570.15" height="92.59999999999997" fill="none" stroke="#262626" stroke-width="1.45"/>
<rect x="58.25" y="388.7" width="570.15" height="92.80000000000001" fill="none" stroke="#262626" stroke-width="1.45"/>
<rect x="58.25" y="481.5" width="570.15" height="92.79999999999995" fill="none" stroke="#262626" stroke-width="1.45"/>
<rect x="558.3" y="22.4" width="66" height="26.3" rx="2" ry="2" fill="#fff" fill-opacity="0.8" stroke="#d6d6d6" stroke-width="0.8"/>
<path d="M569.7 23.9V32.9" stroke="#000" stroke-opacity="0.5" stroke-width="1.8"/>
<ellipse cx="569.7" cy="28.4" rx="1.3" ry="1.7" fill="#000"/>
<path d="M569.7 35.8V44.8" stroke="#888" stroke-opacity="0.55" stroke-width="1.8"/>
<path d="M568 38.4L571.4 41.8M568 41.8L571.4 38.4" stroke="#777" stroke-width="0.8"/>
<text x="585.4" y="32.1" font-size="8.6">NB DMX</text>
<text x="585.4" y="43.8" font-size="8.6">WB DMX</text>
<rect x="62.9" y="557.2" width="130.4" height="12.9" rx="2" ry="2" fill="#fff" fill-opacity="0.8" stroke="#d6d6d6" stroke-width="0.8"/>
<path d="M73.2 558.3V566.5" stroke="#407BD5" stroke-opacity="0.5" stroke-width="1.3"/>
<path d="M71.6 560.8L74.8 564M71.6 564L74.8 560.8" stroke="#407BD5" stroke-opacity="0.7" stroke-width="0.9"/>
<path d="M122.8 558.3V566.5" stroke="#61C853" stroke-opacity="0.5" stroke-width="1.3"/>
<path d="M121.2 560.8L124.4 564M121.2 564L124.4 560.8" stroke="#61C853" stroke-opacity="0.7" stroke-width="0.9"/>
<text x="82.1" y="566.3" font-size="8.6">GUPPI L</text>
<text x="131.2" y="566.3" font-size="8.6">GUPPI 820 MHz</text>
<text x="49.8" y="22.70" font-size="9.0" text-anchor="end">10</text>
<text x="49.8" y="47.00" font-size="9.0" text-anchor="end">5</text>
<text x="49.8" y="71.30" font-size="9.0" text-anchor="end">0</text>
<text x="49.8" y="95.60" font-size="9.0" text-anchor="end">5</text>
<path d="M39.50 93.00H44.10" stroke="#222" stroke-width="0.75"/>
<text x="49.8" y="126.85" font-size="9.0" text-anchor="end">50</text>
<text x="49.8" y="160.10" font-size="9.0" text-anchor="end">0</text>
<text x="49.8" y="193.35" font-size="9.0" text-anchor="end">50</text>
<path d="M35.00 190.75H39.60" stroke="#222" stroke-width="0.75"/>
<text x="49.8" y="222.20" font-size="9.0" text-anchor="end">10</text>
<text x="49.8" y="252.50" font-size="9.0" text-anchor="end">0</text>
<text x="49.8" y="282.80" font-size="9.0" text-anchor="end">10</text>
<path d="M35.00 280.20H39.60" stroke="#222" stroke-width="0.75"/>
<text x="49.8" y="312.50" font-size="9.0" text-anchor="end">10</text>
<text x="49.8" y="345.40" font-size="9.0" text-anchor="end">0</text>
<text x="49.8" y="378.30" font-size="9.0" text-anchor="end">10</text>
<path d="M35.00 375.70H39.60" stroke="#222" stroke-width="0.75"/>
<text x="49.8" y="393.70" font-size="9.0" text-anchor="end">5.0</text>
<text x="49.8" y="415.95" font-size="9.0" text-anchor="end">2.5</text>
<text x="49.8" y="438.20" font-size="9.0" text-anchor="end">0.0</text>
<text x="49.8" y="460.45" font-size="9.0" text-anchor="end">2.5</text>
<path d="M32.75 457.85H37.35" stroke="#222" stroke-width="0.75"/>
<text x="49.8" y="482.70" font-size="9.0" text-anchor="end">5.0</text>
<path d="M32.75 480.10H37.35" stroke="#222" stroke-width="0.75"/>
<text x="49.8" y="486.00" font-size="9.0" text-anchor="end">5.0</text>
<text x="49.8" y="507.35" font-size="9.0" text-anchor="end">2.5</text>
<text x="49.8" y="528.70" font-size="9.0" text-anchor="end">0.0</text>
<text x="49.8" y="550.05" font-size="9.0" text-anchor="end">2.5</text>
<path d="M32.75 547.45H37.35" stroke="#222" stroke-width="0.75"/>
<text x="49.8" y="571.40" font-size="9.0" text-anchor="end">5.0</text>
<path d="M32.75 568.80H37.35" stroke="#222" stroke-width="0.75"/>
<text x="58.30" y="589.8" font-size="10" text-anchor="middle">2004</text>
<text x="126.42" y="589.8" font-size="10" text-anchor="middle">2006</text>
<text x="194.54" y="589.8" font-size="10" text-anchor="middle">2008</text>
<text x="262.66" y="589.8" font-size="10" text-anchor="middle">2010</text>
<text x="330.78" y="589.8" font-size="10" text-anchor="middle">2012</text>
<text x="398.90" y="589.8" font-size="10" text-anchor="middle">2014</text>
<text x="467.02" y="589.8" font-size="10" text-anchor="middle">2016</text>
<text x="535.14" y="589.8" font-size="10" text-anchor="middle">2018</text>
<text x="603.26" y="589.8" font-size="10" text-anchor="middle">2020</text>
<text x="343.9" y="603.2" font-size="11.2" text-anchor="middle">Year</text>
<text x="57.8" y="12.8" font-size="17.7">J1802−2124</text>
<text x="553" y="11.7" font-size="10" text-anchor="middle">GUPPI</text>
<text transform="translate(20.9,64.7) rotate(-90)" font-size="10.4" text-anchor="middle">NB &amp; WB DMX</text>
<text transform="translate(33.8,97.0) rotate(-90)" font-size="10.4">[10<tspan font-size="9" dy="-3.9" dx="0.4">−</tspan><tspan font-size="7.3">3</tspan><tspan dy="3.9" dx="2.6">pc</tspan><tspan dx="0.8"> cm</tspan><tspan font-size="9" dy="-3.9" dx="0.6">−</tspan><tspan font-size="7.3">3</tspan><tspan dy="3.9" dx="1.2">]</tspan></text>
<text transform="translate(18.7,157) rotate(-90)" font-size="10.4" text-anchor="middle">All NB TOA</text>
<text transform="translate(29.1,157) rotate(-90)" font-size="10.4" text-anchor="middle">Residual [<tspan font-style="italic">μs</tspan>]</text>
<text transform="translate(18.7,249.7) rotate(-90)" font-size="10.4" text-anchor="middle">Avg. NB TOA</text>
<text transform="translate(29.1,249.7) rotate(-90)" font-size="10.4" text-anchor="middle">Residual [<tspan font-style="italic">μs</tspan>]</text>
<text transform="translate(8.6,342.4) rotate(-90)" font-size="10.4" text-anchor="middle">Whitened Avg.</text>
<text transform="translate(18.7,342.4) rotate(-90)" font-size="10.4" text-anchor="middle">NB TOA</text>
<text transform="translate(29.1,342.4) rotate(-90)" font-size="10.4" text-anchor="middle">Residual [<tspan font-style="italic">μs</tspan>]</text>
<text transform="translate(15.9,435.1) rotate(-90)" font-size="10.4" text-anchor="middle">All WB TOA</text>
<text transform="translate(26.6,435.1) rotate(-90)" font-size="10.4" text-anchor="middle">Residual [<tspan font-style="italic">μs</tspan>]</text>
<text transform="translate(15.9,527.9) rotate(-90)" font-size="10.4" text-anchor="middle">All Whitened WB</text>
<text transform="translate(26.6,527.9) rotate(-90)" font-size="10.4" text-anchor="middle">TOA Residual [<tspan font-style="italic">μs</tspan>]</text>
</svg></body></html>
